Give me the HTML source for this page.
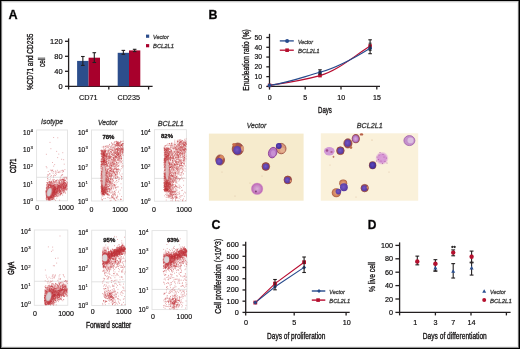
<!DOCTYPE html>
<html><head><meta charset="utf-8"><style>
html,body{margin:0;padding:0;background:#fff;}
body{width:520px;height:349px;overflow:hidden;}
svg{display:block;font-family:"Liberation Sans", sans-serif;will-change:transform;}
</style></head><body>
<svg width="520" height="349" viewBox="0 0 520 349">
<rect x="0" y="0" width="520" height="349" fill="#fff"/>
<text x="8.6" y="18.8" font-size="12.6" stroke="#231f20" stroke-width="0.32" font-weight="bold">A</text>
<text x="208.6" y="18.6" font-size="12.4" stroke="#231f20" stroke-width="0.32" font-weight="bold">B</text>
<text x="211.6" y="229.2" font-size="12.4" stroke="#231f20" stroke-width="0.32" font-weight="bold">C</text>
<text x="367.8" y="229.2" font-size="12.0" stroke="#231f20" stroke-width="0.32" font-weight="bold">D</text>
<line x1="68.6" y1="38.4" x2="68.6" y2="86.89999999999999" stroke="#231f20" stroke-width="1.3"/>
<line x1="68.0" y1="86.3" x2="152.6" y2="86.3" stroke="#231f20" stroke-width="1.3"/>
<line x1="65.0" y1="86.3" x2="68.6" y2="86.3" stroke="#231f20" stroke-width="1.3"/>
<text x="62.6" y="88.89999999999999" font-size="7.5" stroke="#231f20" stroke-width="0.19" text-anchor="end">0</text>
<line x1="65.0" y1="71.3" x2="68.6" y2="71.3" stroke="#231f20" stroke-width="1.3"/>
<text x="62.6" y="73.89999999999999" font-size="7.5" stroke="#231f20" stroke-width="0.19" text-anchor="end">40</text>
<line x1="65.0" y1="56.3" x2="68.6" y2="56.3" stroke="#231f20" stroke-width="1.3"/>
<text x="62.6" y="58.9" font-size="7.5" stroke="#231f20" stroke-width="0.19" text-anchor="end">80</text>
<line x1="65.0" y1="41.3" x2="68.6" y2="41.3" stroke="#231f20" stroke-width="1.3"/>
<text x="62.6" y="43.9" font-size="7.5" stroke="#231f20" stroke-width="0.19" text-anchor="end">120</text>
<line x1="68.6" y1="86.3" x2="68.6" y2="89.5" stroke="#231f20" stroke-width="1.3"/>
<line x1="108.8" y1="86.3" x2="108.8" y2="89.5" stroke="#231f20" stroke-width="1.3"/>
<line x1="148.6" y1="86.3" x2="148.6" y2="89.5" stroke="#231f20" stroke-width="1.3"/>
<rect x="77.1" y="60.91" width="11.50" height="25.39" fill="#2c4e8c"/>
<line x1="82.85" y1="56.5" x2="82.85" y2="65.4" stroke="#231f20" stroke-width="1.1"/>
<line x1="81.05" y1="56.5" x2="84.64999999999999" y2="56.5" stroke="#231f20" stroke-width="1.1"/>
<line x1="81.05" y1="65.4" x2="84.64999999999999" y2="65.4" stroke="#231f20" stroke-width="1.1"/>
<rect x="88.6" y="57.69" width="11.40" height="28.61" fill="#a8002c"/>
<line x1="94.3" y1="52.7" x2="94.3" y2="62.5" stroke="#231f20" stroke-width="1.1"/>
<line x1="92.5" y1="52.7" x2="96.1" y2="52.7" stroke="#231f20" stroke-width="1.1"/>
<line x1="92.5" y1="62.5" x2="96.1" y2="62.5" stroke="#231f20" stroke-width="1.1"/>
<rect x="117.7" y="52.81" width="11.30" height="33.49" fill="#2c4e8c"/>
<line x1="123.35" y1="50.4" x2="123.35" y2="54.3" stroke="#231f20" stroke-width="1.1"/>
<line x1="121.55" y1="50.4" x2="125.14999999999999" y2="50.4" stroke="#231f20" stroke-width="1.1"/>
<line x1="121.55" y1="54.3" x2="125.14999999999999" y2="54.3" stroke="#231f20" stroke-width="1.1"/>
<rect x="129.0" y="50.41" width="11.30" height="35.89" fill="#a8002c"/>
<line x1="134.65" y1="49.3" x2="134.65" y2="51.6" stroke="#231f20" stroke-width="1.1"/>
<line x1="132.85" y1="49.3" x2="136.45000000000002" y2="49.3" stroke="#231f20" stroke-width="1.1"/>
<line x1="132.85" y1="51.6" x2="136.45000000000002" y2="51.6" stroke="#231f20" stroke-width="1.1"/>
<text x="78.9" y="99.6" font-size="7.4" stroke="#231f20" stroke-width="0.12" textLength="18.8" lengthAdjust="spacingAndGlyphs">CD71</text>
<text x="117.4" y="99.6" font-size="7.4" stroke="#231f20" stroke-width="0.12" textLength="22.6" lengthAdjust="spacingAndGlyphs">CD235</text>
<rect x="146" y="34.6" width="3.2" height="3.2" fill="#2c4e8c"/>
<rect x="146" y="44.1" width="3.2" height="3.2" fill="#a8002c"/>
<text x="153" y="38.8" font-size="5.9" stroke="#383838" stroke-width="0.27" font-style="italic" fill="#383838" textLength="15.8" lengthAdjust="spacingAndGlyphs">Vector</text>
<text x="153" y="48.4" font-size="5.9" stroke="#383838" stroke-width="0.27" font-style="italic" fill="#383838" textLength="21.1" lengthAdjust="spacingAndGlyphs">BCL2L1</text>
<text x="32.8" y="90.1" font-size="9.5" stroke="#231f20" stroke-width="0.34" textLength="56.5" lengthAdjust="spacingAndGlyphs" transform="rotate(-90 32.8 90.1)">%CD71 and CD235</text>
<text x="45.0" y="67.0" font-size="9.5" stroke="#231f20" stroke-width="0.34" textLength="9.7" lengthAdjust="spacingAndGlyphs" transform="rotate(-90 45.0 67.0)">cell</text>
<text x="52.1" y="124.4" font-size="7.0" stroke="#3a3a3a" stroke-width="0.30" text-anchor="middle" font-style="italic" fill="#3a3a3a" textLength="22" lengthAdjust="spacingAndGlyphs">Isotype</text>
<text x="107.55" y="124.5" font-size="7.0" stroke="#3a3a3a" stroke-width="0.30" text-anchor="middle" font-style="italic" fill="#3a3a3a" textLength="19.3" lengthAdjust="spacingAndGlyphs">Vector</text>
<text x="170.8" y="125.5" font-size="7.3" stroke="#3a3a3a" stroke-width="0.30" text-anchor="middle" font-style="italic" fill="#3a3a3a" textLength="26" lengthAdjust="spacingAndGlyphs">BCL2L1</text>
<rect x="36.6" y="130.0" width="30.9" height="70.80000000000001" fill="none" stroke="#e2e2e2" stroke-width="0.9"/>
<line x1="36.6" y1="177.3" x2="67.5" y2="177.3" stroke="#dadada" stroke-width="0.8"/>
<rect x="91.5" y="130.0" width="31.799999999999997" height="71.0" fill="none" stroke="#e2e2e2" stroke-width="0.9"/>
<line x1="91.5" y1="178.3" x2="123.3" y2="178.3" stroke="#dadada" stroke-width="0.8"/>
<rect x="154.4" y="129.7" width="32.0" height="71.5" fill="none" stroke="#e2e2e2" stroke-width="0.9"/>
<line x1="154.4" y1="178.4" x2="186.4" y2="178.4" stroke="#dadada" stroke-width="0.8"/>
<text x="30.200000000000003" y="135.0" font-size="6.4" stroke="#231f20" stroke-width="0.16" text-anchor="end">10</text>
<text x="30.5" y="132.10000000000002" font-size="4.4" stroke="#231f20" stroke-width="0.12">4</text>
<text x="30.200000000000003" y="152.2" font-size="6.4" stroke="#231f20" stroke-width="0.16" text-anchor="end">10</text>
<text x="30.5" y="149.3" font-size="4.4" stroke="#231f20" stroke-width="0.12">3</text>
<text x="30.200000000000003" y="169.39999999999998" font-size="6.4" stroke="#231f20" stroke-width="0.16" text-anchor="end">10</text>
<text x="30.5" y="166.5" font-size="4.4" stroke="#231f20" stroke-width="0.12">2</text>
<text x="30.200000000000003" y="186.6" font-size="6.4" stroke="#231f20" stroke-width="0.16" text-anchor="end">10</text>
<text x="30.5" y="183.70000000000002" font-size="4.4" stroke="#231f20" stroke-width="0.12">1</text>
<text x="30.200000000000003" y="203.79999999999998" font-size="6.4" stroke="#231f20" stroke-width="0.16" text-anchor="end">10</text>
<text x="30.5" y="200.9" font-size="4.4" stroke="#231f20" stroke-width="0.12">0</text>
<text x="85.1" y="135.0" font-size="6.4" stroke="#231f20" stroke-width="0.16" text-anchor="end">10</text>
<text x="85.4" y="132.10000000000002" font-size="4.4" stroke="#231f20" stroke-width="0.12">4</text>
<text x="85.1" y="152.25" font-size="6.4" stroke="#231f20" stroke-width="0.16" text-anchor="end">10</text>
<text x="85.4" y="149.35000000000002" font-size="4.4" stroke="#231f20" stroke-width="0.12">3</text>
<text x="85.1" y="169.5" font-size="6.4" stroke="#231f20" stroke-width="0.16" text-anchor="end">10</text>
<text x="85.4" y="166.60000000000002" font-size="4.4" stroke="#231f20" stroke-width="0.12">2</text>
<text x="85.1" y="186.75" font-size="6.4" stroke="#231f20" stroke-width="0.16" text-anchor="end">10</text>
<text x="85.4" y="183.85000000000002" font-size="4.4" stroke="#231f20" stroke-width="0.12">1</text>
<text x="85.1" y="204.0" font-size="6.4" stroke="#231f20" stroke-width="0.16" text-anchor="end">10</text>
<text x="85.4" y="201.10000000000002" font-size="4.4" stroke="#231f20" stroke-width="0.12">0</text>
<text x="147.79999999999998" y="134.79999999999998" font-size="6.4" stroke="#231f20" stroke-width="0.16" text-anchor="end">10</text>
<text x="148.1" y="131.9" font-size="4.4" stroke="#231f20" stroke-width="0.12">4</text>
<text x="147.79999999999998" y="152.1" font-size="6.4" stroke="#231f20" stroke-width="0.16" text-anchor="end">10</text>
<text x="148.1" y="149.20000000000002" font-size="4.4" stroke="#231f20" stroke-width="0.12">3</text>
<text x="147.79999999999998" y="169.39999999999998" font-size="6.4" stroke="#231f20" stroke-width="0.16" text-anchor="end">10</text>
<text x="148.1" y="166.5" font-size="4.4" stroke="#231f20" stroke-width="0.12">2</text>
<text x="147.79999999999998" y="186.7" font-size="6.4" stroke="#231f20" stroke-width="0.16" text-anchor="end">10</text>
<text x="148.1" y="183.8" font-size="4.4" stroke="#231f20" stroke-width="0.12">1</text>
<text x="147.79999999999998" y="204.0" font-size="6.4" stroke="#231f20" stroke-width="0.16" text-anchor="end">10</text>
<text x="148.1" y="201.10000000000002" font-size="4.4" stroke="#231f20" stroke-width="0.12">0</text>
<text x="37.1" y="209.8" font-size="7.0" stroke="#231f20" stroke-width="0.16" text-anchor="middle">0</text>
<text x="66.0" y="209.8" font-size="7.0" stroke="#231f20" stroke-width="0.16" text-anchor="middle">1000</text>
<text x="91.5" y="211.8" font-size="7.0" stroke="#231f20" stroke-width="0.16" text-anchor="middle">0</text>
<text x="120.0" y="211.8" font-size="7.0" stroke="#231f20" stroke-width="0.16" text-anchor="middle">1000</text>
<text x="153.9" y="211.8" font-size="7.0" stroke="#231f20" stroke-width="0.16" text-anchor="middle">0</text>
<text x="184.0" y="211.8" font-size="7.0" stroke="#231f20" stroke-width="0.16" text-anchor="middle">1000</text>
<text x="108.45" y="138.6" font-size="6.0" stroke="#231f20" stroke-width="0.27" text-anchor="middle" font-weight="bold">78%</text>
<text x="167.0" y="138.0" font-size="6.0" stroke="#231f20" stroke-width="0.27" text-anchor="middle" font-weight="bold">82%</text>
<defs><filter id="fb" x="-50%" y="-50%" width="200%" height="200%"><feGaussianBlur stdDeviation="0.6"/></filter><filter id="fb2" x="-50%" y="-50%" width="200%" height="200%"><feGaussianBlur stdDeviation="1.0"/></filter></defs>
<path d="M48.1 194.7h.01M49.4 190.8h.01M47.2 190.7h.01M52.2 195.5h.01M52.2 194.6h.01M50.5 193.7h.01M50.3 195.3h.01M47.3 182.7h.01M47.7 189.5h.01M50.5 192.6h.01M52.0 189.9h.01M49.9 194.7h.01M49.4 198.7h.01M48.9 188.4h.01M48.8 191.7h.01M51.0 194.2h.01M49.7 187.5h.01M46.3 197.9h.01M46.9 193.0h.01M53.0 185.8h.01M47.8 198.8h.01M50.5 188.5h.01M51.1 192.6h.01M50.1 197.6h.01M53.2 195.5h.01M51.9 186.4h.01M52.3 190.1h.01M50.2 186.1h.01M47.6 189.1h.01M56.3 183.9h.01M52.9 196.5h.01M47.9 178.8h.01M51.7 189.3h.01M52.5 194.2h.01M49.7 194.8h.01M53.3 196.9h.01M50.3 195.6h.01M51.6 195.9h.01M54.7 184.6h.01M47.6 197.2h.01M51.4 192.3h.01M49.6 195.9h.01M48.3 198.1h.01M48.3 189.9h.01M52.5 193.6h.01M54.5 191.7h.01M49.6 190.9h.01M55.1 188.8h.01M55.1 187.6h.01M46.4 194.8h.01M51.6 197.6h.01M50.4 193.5h.01M49.2 195.4h.01M48.7 193.7h.01M51.2 193.0h.01M51.0 195.9h.01M54.9 195.8h.01M48.9 190.3h.01M48.2 196.9h.01M48.1 194.0h.01M58.7 181.9h.01M46.0 192.7h.01M50.4 194.0h.01M47.4 195.2h.01M51.2 190.3h.01M56.0 196.4h.01M48.2 191.5h.01M49.0 192.0h.01M54.2 187.8h.01M48.0 197.0h.01M49.9 200.4h.01M47.7 195.2h.01M56.7 180.7h.01M54.9 186.6h.01M53.8 186.0h.01M48.3 198.4h.01M48.9 193.3h.01M51.7 193.9h.01M47.1 199.7h.01M53.0 192.0h.01M59.2 189.5h.01M52.6 192.0h.01M48.9 196.0h.01M49.3 195.7h.01M47.5 183.9h.01M52.8 188.4h.01M48.8 184.6h.01M52.1 197.2h.01M55.2 189.3h.01M51.3 187.1h.01M52.7 192.5h.01M50.2 189.5h.01M50.1 194.8h.01M55.4 189.0h.01M54.0 192.9h.01M49.7 193.2h.01M54.1 192.5h.01M51.4 189.9h.01M48.3 196.5h.01M47.9 198.9h.01M47.9 197.4h.01M46.4 196.1h.01M46.1 191.3h.01M49.1 192.2h.01M47.6 193.1h.01M54.7 194.3h.01M49.6 197.7h.01M50.9 186.3h.01M46.4 197.1h.01M51.3 197.2h.01M48.4 196.4h.01M51.8 187.0h.01M46.1 188.1h.01M53.1 190.6h.01M48.2 188.0h.01M50.6 182.7h.01M52.1 191.8h.01M51.1 190.6h.01M50.7 196.8h.01M51.0 194.7h.01M52.4 196.8h.01M54.0 182.9h.01M50.2 199.5h.01M49.4 190.0h.01M57.8 185.8h.01M55.2 193.6h.01M49.9 197.3h.01M47.1 191.3h.01M49.2 196.7h.01M49.8 191.5h.01M47.2 189.9h.01M52.0 193.8h.01M48.4 187.7h.01M55.6 200.3h.01M55.3 180.7h.01M50.7 195.3h.01M53.8 196.0h.01M48.6 194.9h.01M51.6 189.4h.01M46.6 188.1h.01M50.2 193.6h.01M49.9 187.5h.01M54.1 199.3h.01M48.2 185.0h.01M53.0 198.7h.01M53.6 198.0h.01M46.7 193.0h.01M48.7 194.9h.01M47.7 191.3h.01M50.4 194.7h.01M51.1 194.1h.01M47.5 196.0h.01M51.0 188.6h.01M47.8 191.9h.01M49.1 193.2h.01M49.3 193.3h.01M51.1 186.4h.01M49.3 197.9h.01M51.1 192.0h.01M52.3 188.3h.01M50.4 179.0h.01M50.5 185.6h.01M46.6 194.3h.01M50.8 193.8h.01M52.8 197.2h.01M48.7 195.3h.01M52.9 198.6h.01M54.1 188.2h.01M48.1 195.9h.01M47.2 197.3h.01M50.0 197.4h.01M53.5 192.6h.01M47.3 196.4h.01M52.4 193.4h.01M49.0 198.2h.01M51.8 193.3h.01M51.2 195.8h.01M50.1 192.9h.01M47.9 195.6h.01M47.5 188.6h.01M51.8 185.5h.01M51.3 182.5h.01M46.8 194.6h.01M51.3 192.7h.01M51.0 185.5h.01M54.1 196.6h.01M54.0 189.3h.01M51.8 183.6h.01M50.5 197.7h.01M54.0 184.6h.01M49.9 185.2h.01M49.3 193.7h.01M50.4 196.4h.01M52.2 199.4h.01M46.6 188.9h.01M48.2 186.4h.01M49.4 192.5h.01M53.4 185.4h.01M46.1 191.3h.01M49.5 190.8h.01M50.5 188.8h.01M51.1 194.8h.01M50.3 189.2h.01M53.1 179.3h.01M46.7 191.8h.01M52.1 186.1h.01M49.3 190.8h.01M50.0 195.8h.01M50.8 188.4h.01M49.3 192.1h.01M51.3 194.6h.01M49.5 185.4h.01M49.6 188.6h.01M46.6 191.0h.01M48.0 192.6h.01M51.7 191.0h.01M56.7 193.0h.01M52.6 194.1h.01M56.3 182.1h.01M47.1 193.0h.01M48.6 198.9h.01M50.4 197.7h.01M51.3 192.2h.01M52.7 187.8h.01M54.5 188.7h.01M48.9 192.4h.01M52.9 193.7h.01M46.9 193.0h.01M50.2 196.4h.01M54.4 194.1h.01M51.0 190.7h.01M54.7 190.4h.01M52.2 190.8h.01M46.5 195.3h.01M53.4 193.6h.01M46.5 195.8h.01M49.0 193.9h.01M52.3 199.3h.01M48.4 196.3h.01M47.8 191.7h.01M55.3 187.9h.01M47.7 183.4h.01M53.6 191.3h.01M49.9 191.0h.01M50.9 187.2h.01M51.8 185.7h.01M48.9 193.9h.01M51.3 191.8h.01M46.8 192.5h.01M52.0 192.6h.01M49.3 188.7h.01M47.4 190.0h.01M49.7 195.2h.01M47.6 191.9h.01M60.4 186.1h.01M47.9 192.8h.01M49.4 194.6h.01M48.4 194.0h.01M48.6 196.2h.01M51.1 187.6h.01M46.8 195.0h.01M51.3 194.6h.01M51.2 192.5h.01M51.7 190.4h.01M48.2 196.0h.01M46.1 194.8h.01M55.8 191.5h.01M50.2 191.9h.01M53.5 195.4h.01M53.2 190.0h.01M49.6 192.4h.01M54.8 184.9h.01M51.9 192.5h.01M50.3 194.6h.01M54.7 191.1h.01M48.7 185.1h.01M53.8 196.1h.01M49.1 188.8h.01M50.3 195.6h.01M48.4 186.0h.01M50.1 193.9h.01M46.2 190.4h.01M47.4 194.2h.01M49.4 192.0h.01M47.0 197.2h.01M54.1 192.0h.01M53.1 189.6h.01M48.7 196.1h.01M54.5 192.0h.01M49.1 193.4h.01M47.1 193.7h.01M49.3 182.1h.01M49.3 193.8h.01M46.7 196.3h.01M49.7 189.4h.01M53.3 185.4h.01M47.7 191.8h.01M52.3 192.5h.01M51.5 189.6h.01M47.7 192.0h.01M48.6 197.5h.01M49.2 181.4h.01M50.2 196.8h.01M49.8 193.9h.01M51.7 195.1h.01M56.2 188.1h.01M53.6 175.7h.01M52.5 191.4h.01M50.0 191.3h.01M49.4 188.1h.01M46.8 195.0h.01M49.6 192.8h.01M47.8 196.7h.01M51.2 192.3h.01M51.7 192.4h.01M52.3 188.3h.01M52.2 195.1h.01M49.2 197.1h.01M50.4 192.0h.01M50.1 191.2h.01M50.5 193.2h.01M52.1 191.3h.01M52.7 182.3h.01M47.4 195.4h.01M54.0 191.9h.01M46.9 200.0h.01M47.6 195.7h.01M54.4 194.2h.01M54.2 190.2h.01M50.3 192.3h.01M48.3 198.0h.01M57.4 191.4h.01M47.2 194.4h.01M51.6 191.7h.01M53.4 185.6h.01M54.1 185.8h.01M48.4 189.2h.01M47.2 196.2h.01M50.4 190.7h.01M49.1 194.3h.01M52.8 194.9h.01M58.9 185.0h.01M48.9 194.5h.01M51.4 196.6h.01M50.4 187.2h.01M48.4 197.5h.01M48.0 186.6h.01M52.4 183.2h.01M49.5 190.2h.01M51.9 189.5h.01M47.7 189.8h.01M50.4 189.3h.01M48.5 196.1h.01M48.0 189.8h.01M47.6 191.7h.01M53.1 186.5h.01M51.0 192.8h.01M55.8 184.6h.01M51.6 194.2h.01M50.3 195.0h.01M53.7 192.6h.01M52.7 191.3h.01M52.9 189.3h.01M51.1 192.1h.01M47.5 187.7h.01M48.8 197.2h.01M50.0 195.4h.01M47.5 198.9h.01M49.3 189.5h.01M52.1 193.6h.01M49.7 189.5h.01M47.9 195.3h.01M52.4 187.0h.01M50.6 193.7h.01M49.3 190.6h.01M49.9 199.5h.01M47.0 194.0h.01M46.4 197.8h.01M46.5 195.8h.01M59.7 182.3h.01M47.6 194.5h.01M50.3 189.2h.01M55.7 194.8h.01M47.7 192.7h.01M53.0 194.2h.01M48.1 183.2h.01M51.9 197.1h.01M50.1 196.0h.01M51.1 196.8h.01M55.8 181.5h.01M49.4 195.0h.01M58.3 190.2h.01M48.6 192.4h.01M52.8 191.2h.01M54.1 189.8h.01M51.1 190.2h.01M51.1 189.3h.01M51.3 190.1h.01M48.7 197.4h.01M47.0 191.1h.01M50.4 195.5h.01M51.8 182.1h.01M52.7 195.2h.01M50.0 191.2h.01M51.0 190.7h.01M47.8 188.1h.01M48.8 189.0h.01M46.2 193.3h.01M53.2 194.7h.01M47.4 192.1h.01M52.6 184.3h.01M47.6 192.7h.01M48.1 192.5h.01M50.6 196.8h.01M51.3 196.1h.01M48.8 192.2h.01M49.3 190.8h.01M51.6 184.1h.01M48.7 192.1h.01M46.8 191.5h.01M51.3 192.2h.01M59.4 181.9h.01M51.7 183.6h.01M51.5 191.5h.01M54.5 182.3h.01M51.5 195.0h.01M50.5 189.7h.01M52.1 190.7h.01M51.0 190.3h.01M49.1 196.3h.01M47.1 191.6h.01M51.2 193.7h.01M49.8 182.5h.01M51.0 197.2h.01M48.9 188.5h.01M53.5 188.9h.01M48.7 188.4h.01M51.4 189.1h.01M53.5 193.3h.01M47.6 193.0h.01M50.0 191.0h.01M51.6 189.5h.01M47.6 180.3h.01M47.1 187.8h.01M49.5 192.7h.01M51.0 193.6h.01M48.4 188.4h.01M50.2 195.5h.01M49.5 191.6h.01M52.3 193.4h.01M50.9 195.9h.01M48.3 198.9h.01M48.5 190.3h.01M48.5 188.0h.01M48.8 195.2h.01M51.8 197.4h.01M54.9 187.5h.01M47.1 194.1h.01M53.6 194.3h.01M47.7 190.0h.01M49.0 187.8h.01M54.8 190.8h.01M52.5 195.2h.01M47.2 193.9h.01M53.3 196.9h.01M53.1 194.1h.01M51.4 192.0h.01M48.9 199.1h.01M51.1 190.0h.01M47.6 196.0h.01M54.4 197.3h.01M52.8 185.4h.01M55.0 194.6h.01M51.2 187.1h.01M51.1 187.2h.01M49.1 194.8h.01M49.3 193.9h.01M50.4 183.2h.01M50.2 188.7h.01M47.2 189.9h.01M52.2 187.1h.01M47.1 199.2h.01M51.8 192.4h.01M50.1 192.0h.01M48.4 196.0h.01M52.9 180.9h.01M50.9 188.2h.01M52.4 190.2h.01M48.3 186.2h.01M49.1 179.8h.01M50.5 183.0h.01M47.9 190.1h.01M48.5 199.3h.01M53.6 199.2h.01M49.7 193.5h.01M48.0 194.4h.01M50.3 193.0h.01M50.1 185.7h.01M50.4 184.7h.01M52.3 196.1h.01M55.0 184.2h.01M53.7 198.0h.01M57.3 188.4h.01M50.5 195.0h.01M49.9 193.5h.01M54.8 186.3h.01M48.1 184.7h.01M48.9 189.1h.01M50.3 194.1h.01M50.7 189.3h.01M46.9 196.7h.01M51.6 193.7h.01M46.4 199.6h.01M46.9 195.1h.01M53.3 192.3h.01M53.6 187.9h.01M52.2 194.4h.01M47.9 191.1h.01M50.9 191.2h.01M51.2 190.1h.01M51.5 193.1h.01M54.3 179.5h.01M52.9 193.7h.01M49.4 198.0h.01M48.2 195.6h.01M50.2 186.8h.01M51.4 197.8h.01M52.7 198.0h.01M50.4 184.1h.01M48.7 188.7h.01M46.4 194.6h.01M50.9 191.5h.01M50.3 192.0h.01M49.1 196.3h.01M53.4 190.1h.01M48.3 197.9h.01M51.8 185.6h.01M47.1 195.5h.01M49.2 185.0h.01M49.7 197.5h.01M52.1 186.5h.01M50.7 197.0h.01M51.9 190.7h.01M49.3 196.5h.01M50.7 183.2h.01M49.8 195.1h.01M48.3 196.8h.01M48.0 191.6h.01M47.9 195.0h.01M54.5 192.7h.01M51.0 196.0h.01M54.9 193.2h.01M50.8 187.3h.01M49.0 199.3h.01M50.5 195.0h.01M48.8 193.1h.01M50.1 186.9h.01M48.7 187.9h.01M50.5 198.3h.01M53.0 190.5h.01M46.4 187.6h.01M47.3 193.6h.01M51.6 182.5h.01M52.5 185.4h.01M54.0 187.5h.01M48.9 187.8h.01M46.1 198.2h.01M51.2 196.1h.01M52.8 185.4h.01M48.9 189.4h.01M46.0 194.1h.01M48.5 188.5h.01M49.6 181.7h.01M49.3 199.4h.01M51.5 188.0h.01M52.6 195.0h.01M50.1 200.4h.01M53.5 191.4h.01M51.5 197.1h.01M52.8 187.9h.01M48.5 199.9h.01M48.6 193.6h.01M47.7 197.1h.01M52.4 193.8h.01M47.3 195.1h.01M53.5 191.4h.01M47.4 194.1h.01M51.2 199.6h.01M53.0 186.7h.01M54.3 185.2h.01M47.0 192.6h.01M48.4 191.3h.01M52.1 189.1h.01M51.9 189.9h.01M47.2 194.6h.01M47.5 193.4h.01M54.1 194.0h.01M48.1 195.9h.01M47.0 197.3h.01M49.3 188.2h.01M55.9 190.0h.01M53.7 197.2h.01M55.2 189.1h.01M49.5 191.8h.01M56.4 195.5h.01M49.3 189.1h.01M50.4 194.5h.01M48.0 194.5h.01M55.3 189.0h.01M47.3 186.1h.01M49.4 182.8h.01M53.6 184.0h.01M48.9 199.9h.01M47.9 190.6h.01M49.0 195.2h.01M48.6 192.3h.01M47.9 192.6h.01M46.1 191.8h.01M55.0 194.6h.01M49.3 183.8h.01M46.4 195.4h.01M50.8 192.4h.01M48.5 186.5h.01M53.1 194.9h.01M50.0 181.6h.01M46.4 191.1h.01M50.4 191.9h.01M50.8 185.7h.01M46.2 195.9h.01M48.8 197.7h.01M51.8 189.3h.01M52.3 188.6h.01M47.3 191.7h.01M48.9 184.6h.01M47.3 195.8h.01M46.6 198.2h.01M48.2 185.2h.01M53.5 195.8h.01M53.5 189.4h.01M51.5 194.5h.01M51.4 193.2h.01M54.0 190.5h.01M49.0 184.6h.01M54.0 190.0h.01M48.0 187.1h.01M50.2 186.0h.01M49.7 189.2h.01M49.4 187.4h.01M50.4 190.3h.01M49.6 193.8h.01M64.1 189.7h.01M53.4 189.0h.01M63.6 186.7h.01M50.5 188.9h.01M52.1 189.7h.01M56.3 191.3h.01M60.2 188.7h.01M58.1 188.4h.01M50.3 198.0h.01M60.3 191.9h.01M64.7 184.5h.01M54.9 190.9h.01M62.7 195.2h.01M54.9 187.0h.01M57.1 193.5h.01M52.8 194.9h.01M50.5 193.6h.01M60.5 187.5h.01M50.4 194.8h.01M63.9 185.2h.01M52.3 197.7h.01M52.4 192.8h.01M61.6 187.2h.01M62.7 187.3h.01M62.6 189.7h.01M47.2 190.8h.01M59.0 187.4h.01M63.6 182.0h.01M54.7 196.2h.01M47.2 194.0h.01M46.2 192.0h.01M46.8 190.2h.01M53.3 191.4h.01M63.0 184.0h.01M58.1 192.0h.01M59.0 189.6h.01M55.5 189.5h.01M61.9 184.9h.01M53.1 188.8h.01M53.8 187.5h.01M55.6 192.2h.01M58.9 180.3h.01M58.1 188.5h.01M66.5 185.2h.01M61.5 188.4h.01M57.8 186.3h.01M67.1 186.0h.01M51.6 188.5h.01M56.8 192.2h.01M59.6 185.8h.01M61.1 192.1h.01M51.2 189.0h.01M47.4 194.8h.01M60.2 191.3h.01M63.3 186.6h.01M63.0 185.3h.01M64.2 188.3h.01M51.3 189.5h.01M64.5 187.0h.01M62.7 181.3h.01M55.7 194.0h.01M63.6 187.9h.01M51.3 192.8h.01M48.5 186.4h.01M58.3 187.0h.01M49.9 190.1h.01M52.4 192.2h.01M53.6 185.3h.01M50.1 195.6h.01M49.5 188.3h.01M61.0 192.9h.01M55.5 186.0h.01M55.7 188.3h.01M50.6 192.0h.01M50.5 192.3h.01M56.9 186.4h.01M54.3 189.1h.01M48.3 194.4h.01M65.9 183.2h.01M60.0 188.9h.01M63.6 188.3h.01M55.7 194.1h.01M57.8 190.0h.01M66.4 184.2h.01M62.0 182.1h.01M52.6 192.4h.01M59.1 180.8h.01M63.7 189.4h.01M64.2 187.9h.01M48.0 194.1h.01M51.6 193.2h.01M49.0 195.4h.01M59.2 190.8h.01M64.3 182.5h.01M66.7 188.2h.01M55.8 192.0h.01M50.9 195.6h.01M57.9 188.3h.01M61.8 191.7h.01M54.4 189.6h.01M58.1 193.7h.01M52.8 194.5h.01M54.5 191.6h.01M67.0 189.2h.01M46.8 191.7h.01M61.9 185.4h.01M64.1 180.5h.01M50.1 197.1h.01M59.8 186.5h.01M63.8 190.0h.01M49.0 192.9h.01M50.9 195.4h.01M57.2 190.6h.01M51.2 195.1h.01M62.8 191.7h.01M51.4 193.2h.01M49.1 196.3h.01M64.8 183.9h.01M64.6 186.6h.01M55.5 189.2h.01M51.9 198.4h.01M58.2 185.9h.01M54.6 187.4h.01M58.9 193.8h.01M60.1 189.2h.01M49.4 195.8h.01M60.3 185.8h.01M63.8 184.9h.01M51.8 190.8h.01M53.1 192.8h.01M63.0 185.0h.01M57.6 191.0h.01M54.2 192.6h.01M65.7 183.5h.01M50.3 197.4h.01M50.1 190.3h.01M56.3 189.3h.01M52.5 194.7h.01M59.7 200.2h.01M64.8 184.3h.01M48.6 192.6h.01M51.7 199.7h.01M60.2 185.1h.01M62.4 185.4h.01M48.2 196.2h.01M62.4 184.2h.01M55.6 189.9h.01M65.2 185.6h.01M52.0 196.8h.01M51.2 193.5h.01M48.9 188.8h.01M50.8 197.2h.01M58.0 191.4h.01M53.3 193.0h.01M62.9 190.7h.01M62.0 184.6h.01M48.2 193.4h.01M59.4 183.5h.01M49.9 196.7h.01M61.4 183.5h.01M66.4 189.8h.01M60.2 195.3h.01M56.9 190.3h.01M64.0 185.2h.01M64.3 187.5h.01M55.2 192.3h.01M60.0 190.6h.01M57.1 189.0h.01M49.2 192.6h.01M61.2 180.8h.01M53.2 190.9h.01M60.3 184.3h.01M51.3 198.8h.01M54.2 184.9h.01M55.4 186.2h.01M47.5 194.2h.01M66.0 184.6h.01M50.4 195.5h.01M52.4 192.5h.01M49.0 193.4h.01M60.9 187.5h.01M59.2 188.9h.01M56.1 184.7h.01M49.1 193.3h.01M63.9 185.3h.01M49.4 192.9h.01M55.7 187.5h.01M49.8 193.6h.01M56.5 192.8h.01M65.4 188.2h.01M48.1 189.5h.01M49.5 191.3h.01M64.6 188.3h.01M54.9 189.4h.01M62.0 183.2h.01M65.1 184.2h.01M61.7 185.4h.01M54.8 192.9h.01M58.5 194.9h.01M64.5 184.4h.01M63.3 186.5h.01M56.9 188.6h.01M66.7 186.3h.01M55.1 189.6h.01M58.3 185.9h.01M50.2 196.6h.01M55.4 189.7h.01M50.1 193.5h.01M66.5 185.3h.01M56.0 182.0h.01M65.2 190.1h.01M46.1 191.0h.01M59.5 187.6h.01M54.9 195.9h.01M59.7 192.3h.01M51.3 190.6h.01M54.0 183.4h.01M54.5 194.4h.01M52.8 190.9h.01M58.2 187.4h.01M64.5 182.4h.01M56.3 189.7h.01M58.1 189.9h.01M50.6 194.6h.01M52.0 190.0h.01M52.8 193.5h.01M46.4 189.3h.01M58.3 186.9h.01M57.7 187.7h.01M60.2 185.8h.01M54.3 186.5h.01M55.8 188.8h.01M53.5 191.7h.01M58.3 191.2h.01M54.6 190.4h.01M54.1 190.9h.01M64.0 185.8h.01M58.7 192.9h.01M54.2 194.0h.01M62.1 186.3h.01M53.3 198.1h.01M57.1 192.3h.01M47.4 192.2h.01M62.5 188.7h.01M50.2 194.8h.01M65.3 193.4h.01M49.7 192.0h.01M61.5 189.6h.01M60.8 191.1h.01M55.1 185.4h.01M61.4 186.7h.01M54.0 185.4h.01M61.6 184.9h.01M46.7 188.0h.01M66.6 189.8h.01M58.7 188.7h.01M58.9 192.8h.01M55.0 189.6h.01M63.8 188.9h.01M53.2 188.3h.01M53.8 186.0h.01M53.7 192.9h.01M53.5 188.3h.01M53.1 190.6h.01M63.5 188.1h.01M54.5 187.6h.01M50.7 192.5h.01M59.2 190.0h.01M61.4 193.6h.01M55.4 194.5h.01M65.5 189.2h.01M48.2 187.2h.01M55.8 190.6h.01M48.3 194.3h.01M54.9 182.9h.01M62.3 186.6h.01M59.5 192.2h.01M57.3 189.3h.01M59.4 185.6h.01M59.7 190.0h.01M56.3 194.8h.01M56.8 188.0h.01M48.3 192.1h.01M59.2 190.7h.01M61.2 193.6h.01M54.1 185.0h.01M52.3 184.0h.01M50.5 185.1h.01M57.9 189.8h.01M52.7 190.0h.01M66.9 185.7h.01M48.0 191.0h.01M63.5 183.4h.01M63.7 179.6h.01M63.6 183.9h.01M53.4 192.5h.01M56.3 187.7h.01M50.9 192.9h.01M58.4 186.1h.01M65.5 182.6h.01M61.1 190.6h.01M62.9 187.0h.01M53.3 191.5h.01M53.2 191.4h.01M61.6 182.4h.01M50.1 190.8h.01M55.8 187.6h.01M59.4 187.2h.01M59.6 192.5h.01M55.3 190.4h.01M51.2 196.1h.01M51.6 197.5h.01M50.3 195.4h.01M64.7 188.7h.01M59.3 188.6h.01M47.2 194.0h.01M61.1 184.7h.01M56.4 194.8h.01M50.6 193.0h.01M65.4 186.2h.01M57.6 186.9h.01M56.2 193.1h.01M50.1 197.1h.01M64.5 182.3h.01M55.0 188.7h.01M47.6 193.2h.01M66.0 186.1h.01M63.5 183.3h.01M62.3 184.9h.01M58.0 191.4h.01M54.6 190.1h.01M61.4 187.5h.01M65.4 187.6h.01M57.0 190.2h.01M49.7 191.2h.01M55.9 193.7h.01M56.7 198.2h.01M59.6 191.2h.01M56.1 192.9h.01M55.9 191.8h.01M63.5 186.4h.01M54.2 191.2h.01M53.9 193.6h.01M54.2 196.1h.01M54.5 192.1h.01M50.3 193.0h.01M52.0 190.9h.01M64.5 187.8h.01M64.6 187.8h.01M63.6 187.5h.01M62.4 189.1h.01M55.7 192.6h.01M65.3 184.1h.01M57.3 189.9h.01M51.6 196.4h.01M60.7 186.9h.01M61.9 194.1h.01M54.5 191.0h.01M53.6 196.2h.01M65.4 187.6h.01M59.1 191.2h.01M52.8 192.4h.01M58.5 185.2h.01M57.7 187.8h.01M50.5 196.4h.01M51.6 194.4h.01M59.0 185.9h.01M48.3 191.5h.01M56.5 188.6h.01M54.3 193.8h.01M52.3 193.4h.01M49.6 193.2h.01M54.0 188.5h.01M65.3 185.8h.01M60.8 180.2h.01M50.0 193.4h.01M60.8 188.2h.01M59.2 186.1h.01M61.3 189.9h.01M60.8 187.4h.01M57.1 196.2h.01M59.8 188.6h.01M65.5 186.1h.01M61.3 186.8h.01M47.8 193.8h.01M51.0 193.9h.01M55.9 192.9h.01M47.4 193.2h.01M52.9 196.5h.01M61.3 182.0h.01M51.3 190.4h.01M55.2 189.3h.01M46.2 192.8h.01M63.6 186.2h.01M47.1 192.4h.01M63.4 185.0h.01M51.9 191.8h.01M49.9 194.2h.01M63.9 183.2h.01M63.7 190.2h.01M56.2 192.7h.01M62.3 187.8h.01M48.1 192.2h.01M62.4 179.3h.01M62.2 190.1h.01M62.6 188.6h.01M54.3 186.8h.01M48.0 193.5h.01M55.7 186.8h.01M66.9 187.8h.01M50.2 197.7h.01M61.3 188.0h.01M56.8 187.1h.01M64.7 182.2h.01M50.8 189.8h.01M47.7 192.7h.01M52.5 194.9h.01M54.9 194.2h.01M62.0 190.7h.01M52.1 192.5h.01M57.8 193.2h.01M64.5 183.4h.01M65.3 187.0h.01M48.9 191.3h.01M62.5 185.1h.01M58.0 189.1h.01M59.3 186.1h.01M56.4 184.1h.01M63.9 186.9h.01M49.3 193.1h.01M52.8 195.1h.01M48.5 194.0h.01M61.8 189.0h.01M57.0 191.8h.01M57.3 191.3h.01M54.7 191.5h.01M48.2 195.8h.01M66.4 184.1h.01M60.5 186.0h.01M65.5 183.1h.01M56.5 189.1h.01M56.4 191.4h.01M49.4 197.9h.01M63.7 182.6h.01M63.6 181.8h.01M59.9 187.8h.01M51.3 195.4h.01M48.5 195.5h.01M50.3 186.8h.01M49.1 189.7h.01M62.9 181.0h.01M51.3 194.2h.01M58.8 182.1h.01M54.8 193.3h.01M56.2 195.9h.01M53.1 188.6h.01M62.8 185.1h.01M53.9 195.6h.01M59.9 189.0h.01M62.2 184.4h.01M62.3 179.2h.01M56.0 188.0h.01M53.2 191.7h.01M60.5 192.1h.01M51.7 195.1h.01M56.6 191.2h.01M48.1 194.3h.01M56.7 191.7h.01M49.8 198.8h.01M65.1 188.6h.01M53.5 186.7h.01M51.9 190.2h.01M54.0 187.7h.01M51.9 187.7h.01M64.0 187.4h.01M65.3 186.2h.01M57.0 192.0h.01M57.6 187.8h.01M49.9 195.5h.01M49.8 184.7h.01M65.7 186.7h.01M58.7 187.1h.01M65.0 189.7h.01M59.9 189.7h.01M49.8 185.9h.01M55.0 186.9h.01M59.4 187.2h.01M65.6 187.5h.01M48.9 196.2h.01M58.1 193.7h.01M48.3 192.7h.01M57.3 186.5h.01M53.5 187.1h.01M54.7 190.0h.01M51.0 196.1h.01M60.8 193.9h.01M50.4 195.1h.01M48.4 192.4h.01M57.6 189.1h.01M59.8 191.9h.01M51.1 191.4h.01M56.9 188.8h.01M60.0 190.9h.01M49.6 195.5h.01M57.1 192.3h.01M59.6 184.7h.01M65.3 192.6h.01M64.2 192.3h.01M50.2 195.1h.01M49.4 190.8h.01M63.3 180.3h.01M49.1 191.8h.01M63.3 188.2h.01M55.0 191.6h.01M46.9 193.3h.01M52.6 190.7h.01M58.1 182.4h.01M60.7 190.6h.01M61.0 180.1h.01M62.8 183.2h.01M50.7 193.1h.01M60.6 184.2h.01M60.8 188.1h.01M53.9 189.7h.01M63.8 190.8h.01M47.6 193.2h.01M60.5 191.0h.01M63.9 188.1h.01M51.7 197.2h.01M51.3 190.4h.01M48.5 188.2h.01M59.5 190.2h.01M50.4 195.0h.01M62.8 186.4h.01M49.8 190.9h.01M60.1 186.7h.01M56.6 194.1h.01M60.1 193.2h.01M61.9 189.7h.01M55.0 193.0h.01M65.5 187.9h.01M63.6 187.8h.01M63.3 186.4h.01M59.1 185.2h.01M51.6 195.1h.01M61.2 181.6h.01M61.0 191.6h.01M48.4 193.3h.01M65.4 186.8h.01M59.6 190.0h.01M54.6 191.5h.01M55.1 187.6h.01M53.5 189.9h.01M46.4 192.9h.01M47.2 193.7h.01M56.7 190.7h.01M50.2 193.3h.01M60.1 187.3h.01M58.2 191.6h.01M50.8 189.2h.01M64.9 183.1h.01M62.6 187.2h.01M64.4 186.0h.01M57.5 184.4h.01M53.9 190.1h.01M66.7 189.9h.01M64.8 183.8h.01M60.8 184.6h.01M59.4 183.2h.01M54.0 190.9h.01M57.5 188.2h.01M54.2 191.8h.01M55.4 194.4h.01M54.4 190.7h.01M52.3 192.6h.01M51.5 195.9h.01M48.8 196.9h.01M54.8 188.0h.01M58.0 188.2h.01M49.6 195.8h.01M52.4 190.2h.01M60.2 192.8h.01M63.5 181.5h.01M61.4 193.5h.01M49.9 195.6h.01M54.5 191.5h.01M62.4 182.7h.01M53.1 192.5h.01M53.3 193.7h.01M52.7 192.3h.01M61.2 187.8h.01M52.8 195.4h.01M60.4 190.8h.01M49.6 190.0h.01M63.4 190.4h.01M48.5 193.3h.01M63.9 187.8h.01M49.1 191.8h.01M48.1 187.8h.01M59.0 186.7h.01M65.3 185.4h.01M63.0 189.0h.01M58.0 184.6h.01M55.2 193.5h.01M48.2 193.7h.01M59.6 188.5h.01M51.8 187.8h.01M52.5 192.3h.01M59.7 195.8h.01M58.5 189.3h.01M62.0 188.3h.01M54.5 192.6h.01M50.7 194.3h.01M64.4 190.6h.01M57.0 192.9h.01M56.1 186.3h.01M59.0 186.0h.01M57.7 186.3h.01M54.6 195.9h.01M61.2 187.5h.01M50.8 187.1h.01M63.8 189.3h.01M52.6 191.5h.01M58.2 190.5h.01M47.4 194.4h.01M55.1 187.3h.01M52.2 187.3h.01M66.6 184.7h.01M51.7 198.3h.01M48.4 195.3h.01M57.4 190.2h.01M59.5 191.4h.01M57.7 196.6h.01M51.4 195.2h.01M67.2 188.7h.01M53.1 197.6h.01M52.6 193.1h.01M64.0 180.5h.01M54.1 191.2h.01M61.4 184.0h.01M65.0 185.6h.01M49.5 193.7h.01M59.2 186.9h.01M55.5 191.2h.01M57.8 188.1h.01M58.5 196.0h.01M57.7 185.1h.01M51.7 192.5h.01M56.9 192.3h.01M52.6 193.7h.01M59.7 184.0h.01M67.2 182.1h.01M58.1 180.7h.01M51.7 194.6h.01M63.5 183.6h.01M53.1 188.4h.01M65.0 180.8h.01M60.5 191.0h.01M55.6 190.6h.01M64.8 181.9h.01M64.8 185.4h.01M49.9 197.2h.01M67.2 184.0h.01M66.8 177.2h.01M65.4 180.5h.01M61.7 179.3h.01M49.6 193.0h.01M47.9 184.9h.01M46.7 182.5h.01M62.9 193.1h.01M46.8 188.8h.01M50.9 187.1h.01M67.1 184.4h.01M64.7 179.8h.01M56.4 180.2h.01M55.1 181.2h.01M60.6 180.5h.01M61.7 188.7h.01M48.4 185.3h.01M53.4 182.0h.01M61.6 183.4h.01M49.8 183.2h.01M56.8 186.6h.01M57.9 185.5h.01M46.2 193.1h.01M59.9 189.7h.01M57.7 193.2h.01M61.3 186.3h.01M52.8 186.8h.01M66.7 186.1h.01M54.2 186.6h.01M49.0 200.4h.01M46.1 191.2h.01M65.7 183.0h.01M59.0 185.8h.01M51.1 181.6h.01M48.5 196.7h.01M47.1 193.2h.01M52.9 192.1h.01M57.7 184.4h.01M56.9 190.9h.01M67.2 182.5h.01M59.4 194.4h.01M54.1 193.7h.01M54.4 189.3h.01M59.1 192.8h.01M52.9 191.7h.01M57.6 182.2h.01M59.0 183.2h.01M65.4 188.1h.01M61.4 189.2h.01M56.2 182.2h.01M49.0 198.7h.01M57.3 189.3h.01M57.2 196.0h.01M51.1 181.0h.01M63.5 187.8h.01M46.9 185.9h.01M53.6 195.8h.01M57.1 187.6h.01M47.9 186.3h.01M55.6 188.2h.01M49.2 192.9h.01M53.8 189.2h.01M51.1 185.7h.01M53.2 185.9h.01M49.8 193.8h.01M51.8 184.6h.01M51.2 196.5h.01M47.9 191.9h.01M64.3 181.7h.01M55.0 195.5h.01M59.2 185.7h.01M46.9 187.4h.01M53.8 193.7h.01M52.3 186.5h.01M53.5 186.0h.01M50.1 199.7h.01M61.2 185.7h.01M60.2 184.7h.01M47.5 194.7h.01M54.1 189.3h.01M58.6 187.8h.01M55.8 196.6h.01M54.8 188.1h.01M65.0 187.3h.01M56.5 189.0h.01M63.6 192.7h.01M61.8 186.4h.01M46.9 192.9h.01M57.8 195.0h.01M62.4 179.8h.01M63.4 179.4h.01M47.9 194.6h.01M60.5 193.6h.01M60.7 186.8h.01M49.1 184.8h.01M67.1 183.4h.01M51.6 184.3h.01M51.4 197.1h.01M57.8 189.0h.01M52.5 197.3h.01M51.5 181.7h.01M47.1 189.6h.01M54.0 187.9h.01M56.4 190.7h.01M53.8 195.8h.01M50.3 198.5h.01M52.7 189.5h.01M54.7 190.2h.01M52.9 183.4h.01M63.0 183.8h.01M58.6 187.6h.01M65.9 187.4h.01M64.7 178.4h.01M55.2 192.0h.01M47.0 197.2h.01M47.5 191.0h.01M49.8 198.6h.01M58.0 195.7h.01M56.6 192.8h.01M60.4 183.9h.01M50.5 196.6h.01M49.1 198.5h.01M48.0 195.4h.01M66.3 186.7h.01M60.0 183.0h.01M63.8 183.9h.01M51.0 190.6h.01M52.8 190.1h.01M49.3 198.3h.01M52.9 196.7h.01M49.2 195.7h.01M66.9 186.2h.01M46.7 185.9h.01M59.6 182.2h.01M55.9 194.0h.01M55.2 192.9h.01M48.4 196.4h.01M48.6 198.6h.01M57.2 183.8h.01M53.4 194.6h.01M48.0 188.3h.01M64.4 191.0h.01M49.0 183.3h.01M50.8 198.6h.01M46.7 191.0h.01M66.6 185.1h.01M47.1 184.8h.01M55.6 182.8h.01M61.8 181.2h.01M62.8 184.0h.01M47.5 190.1h.01M48.0 189.9h.01M62.8 190.9h.01M59.8 180.1h.01M58.3 185.3h.01M54.0 192.5h.01M66.1 184.8h.01M56.2 180.5h.01M48.0 197.6h.01M48.5 188.6h.01M57.4 179.8h.01M56.0 180.8h.01M57.4 188.9h.01M53.8 181.6h.01M54.6 181.8h.01M48.7 182.6h.01M64.6 188.7h.01M66.1 188.4h.01M62.8 190.3h.01M60.7 182.4h.01M62.0 180.6h.01M54.4 189.1h.01M52.2 197.8h.01M47.8 190.5h.01M51.0 190.9h.01M47.3 182.8h.01M46.9 191.5h.01M53.3 196.0h.01M46.2 199.0h.01M54.8 186.5h.01M47.9 182.7h.01M61.6 192.9h.01M49.2 185.1h.01M49.0 181.6h.01M50.7 184.7h.01M62.9 188.2h.01M56.6 195.2h.01M59.6 181.7h.01M62.8 179.2h.01M61.3 185.2h.01M49.5 199.6h.01M60.3 194.4h.01M48.9 196.4h.01M63.1 190.8h.01M55.3 196.3h.01M52.4 199.5h.01M48.5 199.7h.01M62.8 182.9h.01M63.9 182.4h.01M50.2 187.7h.01M51.0 188.5h.01M61.1 186.2h.01M63.6 186.5h.01M47.9 192.3h.01M63.8 184.9h.01M48.4 196.0h.01M54.9 191.2h.01M55.7 184.8h.01M50.6 185.3h.01M64.0 191.5h.01M51.8 193.4h.01M55.4 192.5h.01M63.2 179.8h.01M63.5 181.3h.01M51.8 199.4h.01M53.7 182.2h.01M65.0 191.3h.01M65.0 186.2h.01M50.0 196.4h.01M49.5 189.3h.01M66.1 187.6h.01M63.2 182.9h.01M56.9 185.8h.01M60.2 178.8h.01M59.3 187.4h.01M66.4 185.5h.01M60.1 191.8h.01M54.0 189.2h.01M56.6 185.5h.01M66.8 178.3h.01M57.9 187.5h.01M46.7 184.6h.01M48.9 199.3h.01M65.0 180.4h.01M58.5 190.5h.01M47.0 186.2h.01M61.9 192.0h.01M52.0 194.8h.01M52.2 189.7h.01M60.4 185.9h.01M60.7 183.5h.01M49.4 190.5h.01M53.4 180.3h.01M49.5 194.3h.01M49.6 184.3h.01M47.1 184.0h.01M66.5 181.4h.01M52.6 199.1h.01M50.2 184.5h.01M51.5 186.2h.01M51.7 181.8h.01M65.4 187.5h.01M63.8 191.9h.01M62.6 184.4h.01M49.2 194.7h.01M56.0 190.1h.01M60.3 194.6h.01M51.9 185.5h.01M65.5 189.4h.01M52.1 191.7h.01M51.5 195.0h.01M46.9 196.3h.01M58.1 185.3h.01M66.0 183.2h.01M57.7 194.6h.01M60.4 186.7h.01M63.2 179.6h.01M52.5 192.1h.01M54.4 199.0h.01M61.8 185.0h.01M54.4 195.9h.01M53.4 181.3h.01M64.6 189.4h.01M57.1 192.7h.01M65.2 180.1h.01M54.8 188.7h.01M58.3 186.4h.01M58.2 183.4h.01M63.9 180.5h.01M60.3 194.6h.01M63.5 192.2h.01M64.7 180.1h.01M61.0 193.5h.01M59.0 183.4h.01M47.4 191.1h.01M63.6 183.4h.01M50.5 182.2h.01M48.0 192.8h.01M66.5 178.0h.01M53.6 177.0h.01M47.5 178.4h.01M52.8 170.0h.01M59.2 171.4h.01M51.8 170.6h.01M55.4 175.5h.01M63.0 170.4h.01M63.4 171.1h.01M50.7 176.3h.01M53.1 173.3h.01M57.9 172.2h.01M62.7 172.1h.01M63.6 178.1h.01M57.3 170.3h.01M62.3 170.3h.01M56.6 174.2h.01M47.3 176.3h.01M61.2 175.8h.01M54.4 175.1h.01M58.4 172.3h.01M64.2 180.0h.01M62.9 179.6h.01M52.9 179.9h.01M47.5 174.8h.01M48.8 174.5h.01M60.3 177.1h.01M55.5 173.4h.01M50.0 174.0h.01M51.9 171.9h.01M61.5 175.2h.01M55.2 172.0h.01M60.8 172.0h.01M51.6 175.6h.01M60.7 179.7h.01M61.7 179.5h.01M65.3 177.2h.01M61.1 170.6h.01M50.3 170.1h.01M64.1 177.2h.01M59.2 172.6h.01M53.5 171.6h.01M59.3 179.9h.01M52.4 170.4h.01M49.7 173.6h.01M64.9 178.0h.01M55.6 171.0h.01M48.2 171.5h.01M62.3 174.7h.01M66.8 179.1h.01M62.7 174.8h.01M63.3 171.3h.01M48.3 175.6h.01M56.7 172.1h.01M51.3 170.2h.01M64.2 164.2h.01M64.9 169.6h.01M54.7 164.6h.01M53.7 166.2h.01M62.8 152.7h.01M46.3 154.3h.01M57.7 157.6h.01M46.2 166.6h.01M61.7 159.3h.01M46.9 167.8h.01M56.7 151.4h.01M52.5 162.5h.01M63.7 159.7h.01M58.8 154.1h.01M50.9 148.7h.01M53.7 137.5h.01M57.8 137.8h.01M50.0 142.4h.01" stroke="#c2343a" stroke-opacity="0.5" stroke-width="0.9" stroke-linecap="round" fill="none"/>
<ellipse cx="49.3" cy="192.2" rx="2.75" ry="4.83" fill="#e0b8b8" opacity="0.41" transform="rotate(15 49.3 192.2)" filter="url(#fb2)"/>
<ellipse cx="49.3" cy="192.2" rx="2.2" ry="4.2" fill="#d8d8dc" opacity="0.92" transform="rotate(15 49.3 192.2)" filter="url(#fb)"/>
<path d="M121.4 166.5h.01M113.4 160.7h.01M121.4 158.6h.01M112.2 173.6h.01M114.7 159.1h.01M111.6 159.3h.01M113.3 157.5h.01M120.3 147.7h.01M117.3 164.2h.01M122.6 144.1h.01M114.7 161.3h.01M103.4 187.8h.01M121.5 144.3h.01M102.7 190.1h.01M110.4 182.1h.01M114.0 158.9h.01M113.4 144.0h.01M113.7 188.2h.01M105.8 188.1h.01M120.3 144.1h.01M115.0 151.6h.01M103.8 184.0h.01M117.4 153.6h.01M119.7 148.6h.01M118.6 150.4h.01M115.7 166.1h.01M109.5 160.2h.01M114.6 163.5h.01M102.2 189.6h.01M111.9 165.3h.01M107.7 194.3h.01M119.3 152.9h.01M116.4 171.9h.01M111.6 184.4h.01M120.8 175.2h.01M121.3 168.7h.01M115.8 177.7h.01M122.9 152.1h.01M122.3 151.9h.01M111.3 178.9h.01M120.9 156.3h.01M119.1 155.2h.01M105.2 187.3h.01M111.2 156.7h.01M108.1 169.0h.01M105.3 170.7h.01M115.6 145.6h.01M119.5 157.5h.01M108.6 147.5h.01M120.1 151.0h.01M113.1 172.2h.01M118.4 145.1h.01M110.2 170.6h.01M105.1 176.7h.01M108.5 175.2h.01M113.1 171.5h.01M115.0 141.7h.01M108.1 151.6h.01M107.8 179.2h.01M106.8 180.2h.01M107.8 181.6h.01M123.1 150.0h.01M115.3 153.7h.01M107.5 164.4h.01M106.8 188.4h.01M111.0 160.3h.01M103.2 183.9h.01M109.4 165.2h.01M115.6 144.4h.01M116.7 174.9h.01M117.2 143.3h.01M105.6 188.9h.01M102.8 192.1h.01M118.5 159.5h.01M116.9 155.7h.01M104.2 178.8h.01M102.4 191.2h.01M104.8 178.9h.01M116.9 143.3h.01M110.2 158.4h.01M112.7 162.6h.01M108.7 191.3h.01M106.0 186.0h.01M116.2 158.8h.01M108.4 179.5h.01M101.9 186.9h.01M102.6 175.6h.01M115.1 172.2h.01M115.4 178.1h.01M108.9 182.3h.01M121.1 151.1h.01M101.5 176.7h.01M106.9 193.9h.01M115.4 188.6h.01M109.3 157.9h.01M102.8 182.6h.01M116.6 189.9h.01M117.7 176.7h.01M112.0 159.3h.01M102.8 189.2h.01M104.8 192.8h.01M118.8 144.1h.01M109.3 174.7h.01M115.1 152.7h.01M103.8 179.0h.01M109.3 189.0h.01M108.7 181.0h.01M106.4 172.6h.01M117.6 154.9h.01M110.1 183.2h.01M105.7 172.1h.01M116.8 171.3h.01M120.6 152.0h.01M112.3 183.1h.01M106.1 187.6h.01M111.0 169.8h.01M103.2 186.4h.01M113.4 169.6h.01M114.2 172.1h.01M109.2 188.6h.01M113.5 170.2h.01M118.6 145.5h.01M106.5 181.7h.01M108.0 152.6h.01M117.2 143.5h.01M119.9 169.4h.01M111.9 182.7h.01M115.2 185.4h.01M103.5 188.5h.01M122.1 173.9h.01M121.1 158.1h.01M111.2 178.0h.01M104.5 181.9h.01M101.4 185.6h.01M118.3 142.7h.01M103.5 192.6h.01M114.0 160.0h.01M111.6 169.4h.01M113.4 154.7h.01M111.4 167.8h.01M112.7 162.2h.01M115.7 152.0h.01M119.9 145.5h.01M121.1 148.4h.01M117.1 164.2h.01M122.5 149.0h.01M105.3 191.8h.01M113.1 171.8h.01M119.2 156.4h.01M118.2 165.5h.01M113.8 158.4h.01M106.5 193.6h.01M110.7 168.7h.01M117.6 169.3h.01M119.6 142.8h.01M116.4 162.6h.01M115.4 186.1h.01M118.3 141.8h.01M121.7 145.3h.01M105.4 175.6h.01M117.7 160.4h.01M101.5 191.1h.01M120.3 152.3h.01M109.1 169.5h.01M112.8 164.7h.01M105.0 180.1h.01M107.8 187.9h.01M104.9 185.9h.01M104.1 163.7h.01M110.4 182.4h.01M116.8 172.4h.01M115.8 174.5h.01M114.5 148.3h.01M119.4 144.7h.01M121.7 176.7h.01M105.8 191.1h.01M102.2 191.7h.01M105.4 177.4h.01M101.8 168.7h.01M116.3 152.0h.01M112.8 159.5h.01M107.3 180.7h.01M108.0 157.4h.01M115.3 146.5h.01M121.5 145.1h.01M121.3 148.8h.01M116.6 165.6h.01M114.3 182.6h.01M103.6 179.8h.01M119.8 160.7h.01M104.0 189.2h.01M105.2 167.0h.01M115.6 159.5h.01M111.2 169.0h.01M113.8 158.5h.01M121.5 145.4h.01M107.6 170.2h.01M122.0 145.6h.01M120.5 148.3h.01M117.3 177.8h.01M115.5 159.9h.01M104.7 181.0h.01M106.8 182.2h.01M106.8 186.7h.01M108.9 172.1h.01M114.7 164.2h.01M116.5 144.4h.01M114.0 157.0h.01M113.5 172.0h.01M108.1 193.9h.01M117.9 160.1h.01M120.6 155.9h.01M109.0 159.1h.01M119.1 158.9h.01M116.5 154.4h.01M108.3 177.8h.01M122.8 166.2h.01M123.1 152.2h.01M102.3 181.4h.01M106.4 178.8h.01M107.2 190.6h.01M116.0 158.2h.01M103.5 193.0h.01M119.8 158.8h.01M120.6 146.4h.01M116.1 168.1h.01M104.3 175.3h.01M110.4 181.1h.01M106.4 191.1h.01M106.1 189.0h.01M113.3 161.4h.01M114.2 152.1h.01M113.5 155.5h.01M111.1 185.3h.01M118.8 146.0h.01M105.3 185.1h.01M110.2 156.3h.01M112.2 183.3h.01M118.4 153.4h.01M111.9 163.0h.01M104.3 182.6h.01M109.5 150.4h.01M113.0 183.6h.01M117.3 166.2h.01M107.7 186.9h.01M110.8 189.8h.01M114.9 161.4h.01M114.5 173.2h.01M112.7 166.3h.01M115.2 156.4h.01M105.4 181.3h.01M122.3 160.8h.01M117.0 163.2h.01M106.9 176.8h.01M115.1 159.8h.01M109.9 182.7h.01M120.7 155.7h.01M114.1 142.6h.01M116.2 152.7h.01M120.1 158.3h.01M102.5 189.6h.01M102.6 190.1h.01M118.8 169.6h.01M112.3 170.2h.01M114.6 168.5h.01M107.8 165.1h.01M118.4 168.6h.01M118.7 154.7h.01M111.3 174.1h.01M111.8 168.8h.01M114.1 184.5h.01M101.6 174.4h.01M118.3 154.9h.01M118.5 163.6h.01M117.9 162.3h.01M121.0 183.8h.01M122.9 148.7h.01M109.9 178.5h.01M104.3 189.6h.01M103.0 168.2h.01M102.9 188.1h.01M122.1 145.3h.01M102.1 189.7h.01M113.3 189.1h.01M107.5 188.6h.01M114.0 166.9h.01M119.8 151.9h.01M119.7 155.7h.01M109.6 171.2h.01M109.5 181.6h.01M119.1 156.9h.01M117.7 144.1h.01M112.9 162.3h.01M121.3 159.1h.01M118.7 157.1h.01M123.0 145.9h.01M106.6 188.3h.01M103.7 179.1h.01M108.5 186.6h.01M117.6 149.8h.01M119.4 156.7h.01M111.2 176.6h.01M122.7 153.6h.01M118.4 149.6h.01M116.8 154.7h.01M102.2 174.1h.01M120.2 151.1h.01M106.4 173.5h.01M107.2 173.2h.01M108.7 188.8h.01M111.3 183.1h.01M112.2 160.2h.01M119.5 148.7h.01M116.5 145.7h.01M116.5 155.1h.01M117.9 152.3h.01M116.9 176.5h.01M122.4 152.5h.01M113.6 177.8h.01M113.1 150.1h.01M114.7 158.8h.01M117.9 149.0h.01M109.0 164.1h.01M118.7 154.3h.01M119.7 154.7h.01M106.9 175.1h.01M111.0 181.8h.01M105.9 192.6h.01M118.0 153.3h.01M106.0 190.3h.01M118.4 156.6h.01M115.4 174.7h.01M121.7 154.3h.01M113.5 161.0h.01M109.7 144.6h.01M118.4 157.0h.01M113.1 179.0h.01M116.6 164.6h.01M107.0 167.0h.01M115.8 174.1h.01M102.1 180.9h.01M102.0 172.0h.01M106.4 187.2h.01M113.3 163.2h.01M110.0 171.0h.01M116.2 168.1h.01M102.1 172.4h.01M106.8 181.8h.01M109.8 173.9h.01M119.0 158.6h.01M107.2 177.4h.01M108.8 176.4h.01M110.1 164.5h.01M111.0 167.5h.01M118.4 144.3h.01M103.3 182.7h.01M112.3 144.7h.01M116.6 148.6h.01M112.5 176.0h.01M102.0 191.3h.01M120.4 170.9h.01M114.7 143.0h.01M117.9 169.5h.01M103.2 184.9h.01M116.3 162.0h.01M109.5 161.2h.01M107.0 179.7h.01M117.3 169.1h.01M112.1 169.7h.01M109.6 176.1h.01M116.2 157.1h.01M104.3 178.9h.01M115.4 168.2h.01M113.0 154.1h.01M115.3 157.1h.01M114.9 149.7h.01M114.8 172.2h.01M112.2 191.5h.01M119.1 160.4h.01M123.1 143.7h.01M109.6 176.3h.01M103.2 181.8h.01M112.1 179.1h.01M106.4 185.0h.01M108.5 184.1h.01M105.9 176.1h.01M111.8 169.0h.01M116.5 173.0h.01M119.6 145.4h.01M113.7 170.2h.01M111.6 188.0h.01M112.7 187.0h.01M107.5 171.7h.01M113.4 176.8h.01M113.7 157.7h.01M120.7 150.4h.01M122.7 167.7h.01M116.8 156.7h.01M102.3 172.6h.01M102.7 170.1h.01M109.2 170.7h.01M120.9 162.0h.01M119.1 157.2h.01M108.9 174.4h.01M120.4 151.0h.01M109.5 156.9h.01M114.9 178.1h.01M108.4 172.1h.01M113.9 186.7h.01M101.1 190.8h.01M117.0 170.0h.01M113.2 176.1h.01M110.2 165.4h.01M116.8 145.3h.01M105.1 174.9h.01M103.8 171.3h.01M102.6 178.0h.01M106.5 173.2h.01M122.8 148.4h.01M112.3 165.8h.01M122.4 153.5h.01M105.6 184.9h.01M105.7 183.0h.01M105.0 190.4h.01M104.7 180.7h.01M103.4 189.9h.01M118.1 146.2h.01M109.1 190.2h.01M104.3 182.5h.01M119.8 156.7h.01M101.1 187.0h.01M119.3 149.4h.01M114.8 141.8h.01M106.0 191.9h.01M104.2 192.2h.01M114.5 157.0h.01M104.3 184.3h.01M100.9 181.9h.01M116.5 142.9h.01M114.6 176.8h.01M109.6 173.2h.01M109.1 180.8h.01M117.4 158.2h.01M108.4 186.4h.01M109.4 175.4h.01M111.2 165.9h.01M120.5 160.8h.01M118.7 153.8h.01M104.4 160.8h.01M117.0 164.0h.01M117.5 146.4h.01M105.3 183.9h.01M109.9 173.8h.01M117.4 152.7h.01M117.0 153.5h.01M117.7 153.1h.01M107.7 171.2h.01M111.1 154.6h.01M121.9 176.8h.01M117.3 145.5h.01M112.5 161.6h.01M112.1 181.1h.01M121.9 148.6h.01M110.2 149.0h.01M119.8 142.9h.01M113.2 153.7h.01M105.7 179.1h.01M117.1 149.5h.01M110.4 167.9h.01M115.0 192.7h.01M120.3 146.5h.01M114.4 154.0h.01M118.8 166.3h.01M107.5 170.4h.01M109.1 189.4h.01M115.3 181.8h.01M117.4 173.2h.01M116.1 156.6h.01M122.6 163.4h.01M107.3 182.4h.01M114.3 160.0h.01M113.5 164.4h.01M118.2 152.7h.01M113.8 147.9h.01M115.5 174.8h.01M103.6 186.5h.01M121.2 157.2h.01M109.6 192.4h.01M103.5 185.7h.01M112.2 160.2h.01M120.6 153.2h.01M101.6 190.6h.01M119.0 150.5h.01M112.8 170.0h.01M115.7 156.9h.01M116.0 144.8h.01M112.1 185.8h.01M111.7 189.4h.01M102.2 182.1h.01M106.0 184.8h.01M112.1 143.5h.01M109.0 181.0h.01M121.7 148.1h.01M121.8 144.8h.01M106.3 163.9h.01M116.8 149.5h.01M120.6 147.6h.01M114.7 151.5h.01M116.9 171.8h.01M103.6 184.1h.01M105.0 170.7h.01M109.5 185.9h.01M116.1 169.8h.01M103.9 178.1h.01M121.5 156.5h.01M119.0 165.4h.01M118.1 177.7h.01M113.5 163.8h.01M116.5 143.0h.01M112.7 178.8h.01M104.2 191.8h.01M110.6 179.6h.01M104.1 157.6h.01M111.3 157.1h.01M116.0 177.2h.01M111.0 165.1h.01M116.8 149.1h.01M110.3 161.3h.01M112.0 179.3h.01M120.3 144.1h.01M110.1 192.0h.01M107.2 182.8h.01M119.0 170.1h.01M121.4 161.8h.01M109.1 156.7h.01M117.7 157.9h.01M110.9 171.7h.01M118.6 143.7h.01M108.8 194.6h.01M115.8 174.1h.01M114.7 150.5h.01M104.1 192.7h.01M121.2 152.4h.01M108.2 189.2h.01M117.8 148.4h.01M107.1 165.2h.01M121.4 176.8h.01M105.0 187.4h.01M102.0 184.2h.01M103.6 172.5h.01M116.5 141.5h.01M101.2 183.2h.01M112.2 155.1h.01M118.3 147.5h.01M109.5 180.9h.01M107.9 186.3h.01M114.8 163.9h.01M109.7 166.9h.01M109.1 162.6h.01M111.3 165.2h.01M107.9 193.9h.01M109.1 181.8h.01M117.4 155.3h.01M116.2 184.2h.01M109.9 176.5h.01M118.4 155.2h.01M114.0 162.7h.01M108.1 184.6h.01M110.0 176.7h.01M101.7 187.5h.01M104.7 176.1h.01M115.7 168.6h.01M104.5 184.8h.01M104.0 176.0h.01M111.7 171.8h.01M106.5 187.3h.01M117.0 150.0h.01M112.4 160.9h.01M104.7 187.8h.01M115.6 155.4h.01M109.1 157.2h.01M107.5 189.5h.01M123.0 149.1h.01M110.4 173.1h.01M112.8 185.3h.01M108.5 176.0h.01M114.1 184.4h.01M108.5 172.3h.01M101.3 183.5h.01M116.2 145.6h.01M106.5 183.3h.01M106.9 156.4h.01M108.6 178.5h.01M122.4 147.1h.01M116.9 170.7h.01M121.0 160.0h.01M115.1 164.6h.01M116.0 157.2h.01M121.0 154.1h.01M106.7 191.3h.01M113.1 163.6h.01M111.6 156.6h.01M108.9 174.3h.01M117.4 142.7h.01M113.2 171.9h.01M116.5 156.7h.01M117.2 149.1h.01M117.1 148.6h.01M119.7 158.4h.01M118.5 160.5h.01M107.3 194.4h.01M120.3 149.7h.01M117.2 141.6h.01M108.5 145.8h.01M108.4 158.4h.01M117.7 144.6h.01M111.3 166.6h.01M109.6 168.0h.01M116.3 168.9h.01M114.5 163.8h.01M116.0 169.2h.01M106.3 165.6h.01M109.8 185.0h.01M111.5 165.9h.01M113.9 152.6h.01M119.7 146.6h.01M109.7 166.4h.01M113.2 173.9h.01M118.4 158.4h.01M111.6 154.6h.01M102.7 180.8h.01M110.0 178.2h.01M109.9 175.1h.01M108.8 181.9h.01M108.8 156.7h.01M113.5 160.8h.01M121.4 179.3h.01M115.1 167.7h.01M105.5 180.9h.01M115.7 178.6h.01M121.9 158.1h.01M109.5 167.7h.01M114.7 169.6h.01M113.5 147.6h.01M107.5 169.7h.01M123.0 145.0h.01M108.5 184.6h.01M114.3 148.7h.01M113.8 172.7h.01M117.5 177.1h.01M109.3 188.6h.01M107.5 172.1h.01M114.0 163.2h.01M111.2 173.8h.01M114.5 175.7h.01M117.4 155.1h.01M106.3 175.3h.01M102.7 176.2h.01M113.0 185.3h.01M110.2 162.3h.01M101.8 190.5h.01M105.1 175.3h.01M107.4 165.6h.01M106.2 187.2h.01M114.6 173.6h.01M111.6 175.5h.01M119.9 143.2h.01M109.6 181.8h.01M111.1 162.6h.01M118.1 177.1h.01M120.0 153.2h.01M108.9 179.9h.01M116.0 141.7h.01M101.5 189.4h.01M116.9 162.6h.01M120.6 155.3h.01M105.2 171.8h.01M120.7 154.1h.01M119.1 156.2h.01M113.2 171.7h.01M111.5 169.9h.01M109.0 183.1h.01M104.7 188.5h.01M104.7 172.7h.01M110.6 179.4h.01M102.8 153.0h.01M104.8 184.0h.01M107.9 165.8h.01M119.1 150.0h.01M110.0 183.7h.01M106.1 175.1h.01M110.8 161.0h.01M103.1 188.2h.01M119.1 144.7h.01M116.8 160.8h.01M110.9 165.7h.01M122.3 152.1h.01M115.5 177.1h.01M114.1 174.2h.01M121.2 161.9h.01M108.4 169.6h.01M119.5 154.2h.01M113.7 171.0h.01M112.6 154.9h.01M105.8 192.4h.01M110.2 157.3h.01M106.8 183.2h.01M101.8 182.7h.01M102.1 178.0h.01M119.2 162.3h.01M111.1 186.2h.01M110.1 166.7h.01M110.9 188.3h.01M110.1 168.1h.01M107.0 176.9h.01M109.3 156.8h.01M115.6 153.3h.01M114.5 164.8h.01M113.6 164.7h.01M106.8 168.9h.01M115.5 156.2h.01M115.3 187.5h.01M117.5 151.3h.01M119.4 148.4h.01M114.6 172.3h.01M106.6 164.0h.01M121.9 151.0h.01M118.9 179.6h.01M102.6 191.4h.01M105.8 189.9h.01M116.6 162.5h.01M110.3 179.1h.01M117.1 182.4h.01M114.2 147.7h.01M111.3 180.1h.01M123.0 147.7h.01M110.0 190.4h.01M111.6 161.4h.01M117.3 171.9h.01M114.6 152.6h.01M121.5 145.5h.01M107.9 178.8h.01M113.2 157.3h.01M109.0 182.9h.01M116.9 143.9h.01M116.4 169.5h.01M103.7 191.7h.01M111.5 146.3h.01M110.7 175.6h.01M120.7 157.9h.01M110.4 158.3h.01M109.0 186.5h.01M114.5 145.0h.01M118.5 154.0h.01M105.9 182.8h.01M113.7 150.8h.01M103.7 187.9h.01M118.5 171.3h.01M107.1 173.1h.01M109.5 170.6h.01M104.1 193.3h.01M114.9 150.2h.01M107.9 163.4h.01M101.4 185.3h.01M114.9 153.2h.01M117.5 159.8h.01M110.8 157.6h.01M121.4 145.7h.01M112.6 173.1h.01M114.4 168.2h.01M121.7 150.7h.01M111.9 174.3h.01M116.1 165.0h.01M112.0 171.4h.01M112.8 168.0h.01M119.5 146.2h.01M114.5 185.9h.01M115.5 165.2h.01M114.6 166.7h.01M116.7 180.6h.01M117.3 157.0h.01M121.1 162.8h.01M108.2 173.8h.01M115.1 160.9h.01M119.2 159.7h.01M121.4 158.1h.01M109.9 189.8h.01M110.7 181.7h.01M106.4 189.4h.01M112.0 168.5h.01M115.5 171.4h.01M111.7 175.1h.01M111.3 183.4h.01M105.2 187.7h.01M118.8 159.2h.01M103.9 191.2h.01M115.4 144.7h.01M109.6 173.1h.01M122.2 146.2h.01M107.8 165.7h.01M119.0 155.2h.01M115.5 150.4h.01M111.0 172.8h.01M113.7 146.3h.01M117.1 166.4h.01M108.4 168.8h.01M111.7 164.5h.01M122.9 151.2h.01M121.5 149.8h.01M115.2 161.6h.01M116.2 149.9h.01M109.0 178.2h.01M115.8 157.2h.01M111.7 159.7h.01M114.6 160.0h.01M110.3 170.6h.01M105.5 175.5h.01M102.9 185.7h.01M113.5 158.8h.01M116.7 180.7h.01M113.9 166.0h.01M114.4 155.6h.01M105.2 190.0h.01M116.0 156.6h.01M111.8 175.3h.01M116.5 169.5h.01M114.8 173.8h.01M112.5 179.5h.01M117.2 143.3h.01M110.6 182.8h.01M118.0 143.5h.01M110.4 173.4h.01M101.2 186.1h.01M109.8 184.0h.01M111.5 171.1h.01M102.1 184.0h.01M102.7 163.4h.01M102.9 179.4h.01M101.8 190.6h.01M114.7 172.1h.01M111.8 162.9h.01M109.1 189.1h.01M108.4 177.8h.01M109.0 173.9h.01M104.5 186.4h.01M105.9 185.5h.01M108.9 182.5h.01M107.6 183.6h.01M118.2 169.2h.01M117.3 174.6h.01M108.2 180.6h.01M112.8 194.0h.01M117.0 175.0h.01M115.5 163.6h.01M102.6 189.2h.01M109.4 156.0h.01M104.2 177.7h.01M114.1 168.9h.01M112.8 180.6h.01M112.7 163.3h.01M118.5 162.2h.01M106.3 189.4h.01M102.0 179.6h.01M116.0 156.9h.01M101.5 171.2h.01M113.3 181.2h.01M111.5 142.5h.01M110.3 181.1h.01M100.8 180.6h.01M116.3 141.2h.01M106.5 162.6h.01M106.4 189.7h.01M105.6 179.2h.01M116.2 162.9h.01M121.1 159.1h.01M103.6 187.8h.01M109.9 168.5h.01M114.5 160.3h.01M105.2 183.0h.01M116.9 143.6h.01M113.0 175.4h.01M115.5 158.0h.01M103.7 170.4h.01M110.5 163.4h.01M120.3 145.4h.01M119.0 151.2h.01M113.6 152.1h.01M110.4 174.8h.01M122.8 154.9h.01M107.8 156.7h.01M109.5 185.7h.01M112.0 184.3h.01M111.4 177.0h.01M117.9 157.8h.01M109.6 182.7h.01M115.3 149.3h.01M108.1 177.7h.01M107.9 194.1h.01M110.5 171.0h.01M119.5 150.1h.01M121.9 178.7h.01M107.3 181.6h.01M109.8 181.1h.01M116.5 157.6h.01M110.2 162.6h.01M108.2 178.6h.01M105.9 187.0h.01M115.4 157.2h.01M116.0 151.8h.01M112.5 150.3h.01M102.3 184.0h.01M109.5 172.7h.01M105.0 182.8h.01M111.5 151.9h.01M106.0 158.4h.01M111.8 150.1h.01M108.5 162.8h.01M119.4 178.0h.01M101.2 186.5h.01M109.2 158.6h.01M108.0 150.6h.01M103.5 167.9h.01M110.8 177.8h.01M101.8 178.4h.01M117.6 159.5h.01M104.0 185.6h.01M106.3 166.2h.01M113.0 171.4h.01M121.8 144.7h.01M113.0 171.0h.01M121.2 145.5h.01M115.4 174.1h.01M107.2 161.2h.01M105.6 180.4h.01M115.4 175.1h.01M110.8 159.2h.01M114.1 162.6h.01M122.7 143.6h.01M107.3 193.9h.01M109.4 190.0h.01M120.2 151.8h.01M112.0 163.0h.01M118.3 165.7h.01M108.2 180.1h.01M119.9 164.0h.01M112.3 175.1h.01M110.3 167.7h.01M117.8 156.9h.01M115.9 152.3h.01M112.7 162.5h.01M103.2 190.5h.01M117.3 148.4h.01M116.8 145.8h.01M121.1 152.7h.01M111.5 163.4h.01M107.7 173.2h.01M122.0 165.0h.01M110.6 163.6h.01M104.4 167.4h.01M118.5 143.7h.01M107.9 159.4h.01M113.8 166.7h.01M116.8 158.0h.01M108.7 176.9h.01M106.6 192.6h.01M116.1 161.0h.01M106.8 172.7h.01M105.6 181.1h.01M108.7 160.7h.01M111.4 151.8h.01M120.7 145.4h.01M115.8 175.8h.01M110.4 176.1h.01M110.6 164.1h.01M118.2 154.6h.01M107.6 179.3h.01M114.7 169.3h.01M117.5 150.6h.01M101.0 188.6h.01M110.5 177.0h.01M110.7 178.6h.01M113.9 157.2h.01M116.7 152.5h.01M117.8 169.6h.01M115.0 185.1h.01M104.1 180.4h.01M108.9 195.1h.01M118.1 155.0h.01M111.8 148.9h.01M117.0 142.2h.01M105.9 176.3h.01M112.2 148.1h.01M112.9 164.4h.01M116.6 167.2h.01M111.8 188.5h.01M114.8 157.7h.01M115.3 153.3h.01M116.4 154.4h.01M110.2 179.6h.01M108.8 151.3h.01M107.7 185.7h.01M113.8 187.8h.01M104.4 189.3h.01M113.3 158.9h.01M104.7 188.9h.01M109.5 172.1h.01M109.7 176.1h.01M109.3 181.6h.01M110.3 151.1h.01M112.1 166.1h.01M107.8 172.9h.01M106.9 177.8h.01M114.5 185.1h.01M107.1 176.0h.01M104.2 166.1h.01M102.8 167.4h.01M103.9 178.8h.01M112.2 181.7h.01M120.6 155.8h.01M117.8 171.1h.01M115.3 175.8h.01M101.6 171.1h.01M114.3 144.7h.01M113.2 159.3h.01M113.6 180.6h.01M101.1 166.9h.01M121.8 148.5h.01M107.2 186.7h.01M114.0 144.7h.01M103.3 169.6h.01M119.6 152.6h.01M111.5 174.9h.01M114.1 154.3h.01M109.0 168.6h.01M119.4 153.6h.01M114.0 184.5h.01M104.7 172.3h.01M122.6 149.6h.01M117.5 144.6h.01M101.7 186.4h.01M110.5 170.4h.01M117.4 142.5h.01M113.0 172.9h.01M112.0 186.6h.01M110.7 165.0h.01M110.9 171.7h.01M116.2 169.8h.01M117.2 172.9h.01M106.0 182.4h.01M106.3 191.2h.01M121.1 155.2h.01M120.1 148.8h.01M119.3 173.9h.01M111.6 165.6h.01M103.9 189.6h.01M113.6 159.0h.01M115.7 145.5h.01M117.6 151.8h.01M114.9 165.9h.01M115.3 160.4h.01M113.4 169.2h.01M103.1 191.1h.01M101.6 176.6h.01M111.6 170.8h.01M109.3 185.0h.01M111.0 149.6h.01M111.6 176.4h.01M112.3 150.6h.01M106.4 171.9h.01M118.0 166.6h.01M111.5 165.9h.01M107.5 175.7h.01M107.7 181.6h.01M110.6 170.5h.01M120.6 150.1h.01M101.3 175.2h.01M106.2 181.0h.01M112.6 155.4h.01M109.9 175.7h.01M112.0 150.0h.01M112.7 196.0h.01M111.3 174.0h.01M116.0 154.0h.01M120.4 154.9h.01M113.4 165.6h.01M118.3 154.8h.01M108.2 194.9h.01M103.8 178.6h.01M107.9 158.6h.01M110.4 170.6h.01M106.7 164.0h.01M102.3 181.5h.01M107.6 177.0h.01M111.2 176.2h.01M113.9 155.6h.01M115.2 155.9h.01M105.2 187.2h.01M102.1 187.2h.01M104.0 179.0h.01M119.0 148.7h.01M118.7 145.5h.01M113.0 164.8h.01M101.3 191.6h.01M110.3 184.4h.01M111.8 171.8h.01M117.8 151.0h.01M118.7 181.3h.01M108.9 179.7h.01M110.3 183.6h.01M108.2 188.1h.01M106.3 184.0h.01M117.4 173.0h.01M115.1 156.3h.01M116.6 178.5h.01M109.3 163.4h.01M110.6 168.8h.01M121.6 149.5h.01M123.0 165.8h.01M102.6 190.9h.01M109.6 165.0h.01M115.2 150.1h.01M119.8 161.4h.01M103.1 182.1h.01M117.7 142.6h.01M106.1 183.5h.01M106.8 178.8h.01M108.6 188.4h.01M110.9 186.0h.01M123.1 155.3h.01M122.7 151.3h.01M107.0 187.3h.01M119.5 172.4h.01M117.8 145.5h.01M119.0 179.4h.01M104.6 182.2h.01M115.3 166.5h.01M117.9 150.2h.01M117.3 154.3h.01M121.3 158.7h.01M106.9 176.4h.01M112.5 153.8h.01M102.2 151.9h.01M104.3 186.2h.01M103.1 171.2h.01M105.2 174.6h.01M104.8 151.1h.01M103.4 188.7h.01M108.4 180.5h.01M101.0 192.6h.01M102.0 182.7h.01M103.3 169.7h.01M103.0 176.8h.01M105.5 151.3h.01M103.5 191.6h.01M103.3 156.1h.01M103.5 194.8h.01M105.3 156.6h.01M104.8 190.4h.01M106.2 155.9h.01M103.6 168.6h.01M103.8 168.9h.01M103.0 152.6h.01M103.4 192.9h.01M103.6 187.9h.01M104.2 181.3h.01M104.8 172.2h.01M103.6 173.0h.01M103.7 162.0h.01M101.4 179.1h.01M101.8 175.6h.01M105.2 173.1h.01M103.3 194.5h.01M103.4 164.8h.01M102.3 164.1h.01M102.5 151.5h.01M107.5 191.5h.01M103.2 181.4h.01M103.5 182.8h.01M105.3 182.8h.01M106.4 159.3h.01M104.4 184.9h.01M106.0 157.6h.01M102.4 194.0h.01M103.0 154.8h.01M103.6 182.6h.01M106.4 185.1h.01M107.9 173.3h.01M105.3 179.2h.01M105.6 179.5h.01M104.8 184.1h.01M102.2 175.7h.01M102.2 168.9h.01M105.5 169.5h.01M104.5 167.6h.01M107.4 169.3h.01M104.3 150.8h.01M105.7 170.2h.01M104.6 176.6h.01M102.9 150.7h.01M102.0 189.3h.01M104.3 170.9h.01M102.0 187.6h.01M103.9 160.8h.01M104.8 171.1h.01M102.6 185.9h.01M102.9 188.9h.01M104.4 176.7h.01M103.9 194.3h.01M106.1 156.6h.01M104.0 152.7h.01M104.3 186.4h.01M107.8 180.0h.01M102.7 192.0h.01M101.5 177.7h.01M102.2 168.9h.01M100.9 161.2h.01M105.3 155.5h.01M105.3 160.3h.01M101.6 164.6h.01M103.2 169.8h.01M104.7 182.4h.01M105.5 164.8h.01M102.1 177.3h.01M102.3 178.0h.01M103.9 178.7h.01M103.5 155.6h.01M102.9 175.2h.01M102.1 177.8h.01M105.0 190.6h.01M103.8 176.4h.01M103.6 162.4h.01M105.0 161.8h.01M102.7 169.7h.01M104.5 158.7h.01M103.5 155.9h.01M102.0 167.8h.01M105.4 184.2h.01M102.5 167.8h.01M101.8 184.8h.01M104.7 191.5h.01M101.4 161.2h.01M103.9 180.7h.01M103.9 167.2h.01M102.4 189.8h.01M104.5 166.2h.01M105.8 173.7h.01M103.1 159.3h.01M102.0 180.6h.01M103.7 169.5h.01M104.0 153.1h.01M102.1 187.0h.01M104.4 174.8h.01M102.5 163.1h.01M105.8 162.6h.01M101.4 181.4h.01M105.9 155.1h.01M103.2 152.0h.01M102.4 173.8h.01M105.3 187.0h.01M104.9 160.9h.01M103.4 194.2h.01M105.8 152.1h.01M103.6 194.2h.01M106.2 179.4h.01M102.8 154.5h.01M104.3 178.9h.01M105.3 162.3h.01M103.4 153.9h.01M103.7 177.6h.01M103.0 165.7h.01M101.5 191.9h.01M102.4 161.1h.01M101.2 179.5h.01M102.0 173.0h.01M103.8 157.8h.01M101.3 171.4h.01M104.3 174.9h.01M107.9 171.1h.01M103.8 151.9h.01M104.1 164.3h.01M106.7 156.5h.01M106.0 155.8h.01M102.0 163.2h.01M106.4 154.9h.01M103.0 180.9h.01M105.9 157.0h.01M104.1 179.7h.01M102.9 157.4h.01M102.4 168.1h.01M102.3 174.8h.01M106.6 174.9h.01M101.9 153.9h.01M105.1 191.5h.01M107.0 184.5h.01M104.4 175.8h.01M104.0 155.3h.01M102.6 189.4h.01M105.9 164.5h.01M102.6 154.5h.01M102.6 181.7h.01M106.9 189.7h.01M101.7 164.3h.01M100.9 181.2h.01M104.4 166.7h.01M102.5 187.4h.01M103.0 170.7h.01M105.5 164.5h.01M103.8 173.1h.01M107.9 166.0h.01M106.9 181.2h.01M101.3 184.2h.01M104.7 175.0h.01M102.3 189.8h.01M103.8 186.0h.01M103.1 158.8h.01M102.8 173.8h.01M105.7 175.0h.01M104.2 175.1h.01M103.1 154.0h.01M104.4 156.3h.01M105.9 180.3h.01M106.4 181.2h.01M103.2 191.9h.01M103.8 160.7h.01M102.1 185.0h.01M101.5 184.6h.01M108.1 157.1h.01M104.3 183.6h.01M105.4 167.9h.01M103.2 193.2h.01M104.3 185.2h.01M105.1 183.0h.01M103.1 171.9h.01M105.3 189.7h.01M106.0 180.8h.01M102.7 186.2h.01M103.4 173.8h.01M103.5 190.4h.01M107.5 182.2h.01M103.7 156.7h.01M104.6 165.2h.01M107.4 166.8h.01M103.8 194.7h.01M104.4 155.5h.01M105.5 153.5h.01M104.6 161.8h.01M101.4 187.7h.01M105.3 175.2h.01M103.1 177.1h.01M104.3 182.7h.01M102.6 187.2h.01M103.3 165.5h.01M109.1 155.7h.01M103.2 193.1h.01M102.6 151.0h.01M101.5 162.3h.01M103.0 163.5h.01M106.1 180.4h.01M104.8 163.5h.01M104.7 183.1h.01M106.7 171.2h.01M103.8 170.9h.01M103.2 171.0h.01M102.1 177.7h.01M102.6 188.4h.01M106.0 157.9h.01M104.3 162.2h.01M109.7 155.1h.01M105.1 150.3h.01M102.2 176.9h.01M102.9 155.0h.01M105.0 190.9h.01M104.2 164.8h.01M102.3 193.4h.01M103.3 176.5h.01M104.3 174.4h.01M104.4 154.7h.01M101.3 166.8h.01M103.4 193.1h.01M103.1 161.9h.01M105.3 175.3h.01M101.4 192.0h.01M102.3 192.6h.01M104.6 187.0h.01M108.1 150.9h.01M101.4 161.4h.01M105.1 166.5h.01M104.3 181.9h.01M101.4 153.2h.01M104.2 181.4h.01M103.0 153.5h.01M102.7 194.9h.01M105.6 185.8h.01M101.2 193.6h.01M104.9 162.4h.01M104.0 180.1h.01M105.6 188.0h.01M102.1 188.2h.01M103.6 159.0h.01M104.0 174.2h.01M100.9 175.8h.01M106.2 158.4h.01M102.3 169.3h.01M101.4 150.1h.01M102.2 155.9h.01M102.4 161.5h.01M107.2 189.7h.01M103.5 176.9h.01M101.7 166.4h.01M103.6 160.7h.01M102.3 176.4h.01M104.1 153.4h.01M102.5 181.2h.01M102.8 169.8h.01M104.2 194.4h.01M102.2 171.4h.01M106.4 157.3h.01M102.0 164.6h.01M103.2 185.8h.01M102.8 178.2h.01M102.9 170.4h.01M104.0 183.6h.01M104.3 180.2h.01M102.9 177.5h.01M105.8 184.2h.01M103.2 180.9h.01M104.8 177.4h.01M103.1 170.9h.01M107.6 175.1h.01M103.3 164.8h.01M106.6 161.2h.01M110.8 167.7h.01M106.1 192.3h.01M102.4 189.0h.01M107.1 159.2h.01M107.1 163.8h.01M103.1 178.4h.01M103.5 191.8h.01M104.1 153.2h.01M104.4 151.7h.01M103.5 173.7h.01M102.5 178.5h.01M105.2 193.2h.01M101.5 174.4h.01M103.8 161.8h.01M104.0 161.2h.01M102.1 164.4h.01M105.6 151.7h.01M106.6 163.5h.01M106.2 154.9h.01M105.4 185.1h.01M102.2 168.9h.01M103.7 191.3h.01M103.9 183.1h.01M105.0 151.6h.01M104.8 187.4h.01M106.3 164.1h.01M101.7 162.0h.01M105.2 150.9h.01M104.2 165.3h.01M102.8 194.0h.01M103.4 190.6h.01M103.9 168.8h.01M104.5 155.0h.01M107.1 185.6h.01M103.3 185.6h.01M103.7 154.2h.01M102.3 187.9h.01M106.0 160.6h.01M102.2 188.5h.01M102.8 150.1h.01M106.4 194.3h.01M101.8 186.0h.01M103.7 191.7h.01M102.2 160.2h.01M107.1 164.7h.01M107.0 181.6h.01M104.2 165.2h.01M103.9 168.6h.01M106.6 190.0h.01M101.9 163.9h.01M106.3 175.8h.01M104.5 168.4h.01M104.3 154.4h.01M103.4 164.0h.01M103.1 182.3h.01M104.6 182.9h.01M104.5 182.5h.01M104.6 187.2h.01M104.6 175.4h.01M103.9 167.8h.01M102.4 188.9h.01M102.5 178.4h.01M104.3 161.9h.01M102.1 172.9h.01M103.1 174.3h.01M101.5 171.7h.01M105.0 178.7h.01M103.2 176.3h.01M105.9 150.1h.01M103.1 194.1h.01M104.9 155.0h.01M104.4 160.0h.01M104.9 150.9h.01M102.2 172.2h.01M103.7 167.2h.01M102.3 159.2h.01M103.8 161.0h.01M105.4 164.6h.01M102.8 164.6h.01M102.3 150.8h.01M106.5 172.2h.01M103.5 150.1h.01M102.1 159.2h.01M107.7 155.5h.01M104.6 172.6h.01M104.2 164.4h.01M104.9 177.8h.01M106.1 177.9h.01M103.4 167.0h.01M103.3 187.7h.01M102.8 188.9h.01M104.0 184.6h.01M104.7 157.7h.01M102.4 188.7h.01M102.5 186.8h.01M105.1 192.1h.01M106.5 161.7h.01M105.2 160.5h.01M100.9 167.1h.01M101.8 158.3h.01M104.4 156.1h.01M100.8 178.6h.01M101.7 173.6h.01M106.5 159.5h.01M103.0 174.1h.01M102.6 156.6h.01M106.4 153.5h.01M103.4 153.9h.01M101.1 173.8h.01M101.8 151.2h.01M102.2 177.0h.01M103.7 153.6h.01M105.1 176.5h.01M106.3 173.9h.01M107.5 169.1h.01M104.4 194.5h.01M106.6 184.7h.01M104.4 178.7h.01M104.5 159.7h.01M105.0 175.6h.01M103.0 185.2h.01M104.4 160.0h.01M106.0 169.2h.01M104.5 181.8h.01M109.4 195.0h.01M103.8 186.0h.01M105.2 192.3h.01M103.4 151.2h.01M105.4 171.2h.01M104.3 154.7h.01M102.6 171.8h.01M103.2 170.0h.01M106.2 165.7h.01M103.8 167.5h.01M101.4 156.0h.01M103.1 193.7h.01M104.9 162.7h.01M102.1 183.4h.01M103.6 172.2h.01M104.1 156.0h.01M105.2 159.3h.01M102.3 167.3h.01M105.9 193.5h.01M102.4 193.3h.01M106.7 178.9h.01M105.9 165.1h.01M101.6 151.6h.01M104.3 176.2h.01M104.0 153.0h.01M105.5 179.0h.01M102.2 162.7h.01M104.8 162.4h.01M103.2 190.2h.01M102.1 171.9h.01M102.4 194.1h.01M102.6 185.8h.01M107.0 153.4h.01M101.8 182.0h.01M101.0 166.0h.01M107.7 186.7h.01M103.0 171.5h.01M102.5 161.6h.01M102.1 152.2h.01M102.1 157.4h.01M105.3 188.9h.01M106.1 156.8h.01M103.7 154.8h.01M101.0 161.8h.01M105.2 172.9h.01M107.4 176.8h.01M103.1 152.3h.01M104.7 160.8h.01M106.6 156.2h.01M103.9 170.7h.01M101.7 171.1h.01M101.2 174.2h.01M101.4 163.9h.01M107.5 191.6h.01M101.6 194.3h.01M102.9 170.2h.01M104.0 161.6h.01M108.3 156.3h.01M104.6 170.3h.01M106.3 154.7h.01M102.9 185.3h.01M105.0 158.4h.01M100.9 177.5h.01M101.9 169.0h.01M102.8 191.6h.01M103.3 152.1h.01M103.4 167.5h.01M105.4 193.8h.01M101.5 151.5h.01M104.6 173.2h.01M103.9 176.1h.01M105.5 170.1h.01M103.4 155.4h.01M103.4 161.8h.01M104.5 188.9h.01M103.0 155.6h.01M107.0 171.3h.01M104.2 194.8h.01M104.5 159.7h.01M106.1 155.9h.01M105.3 188.6h.01M103.5 161.8h.01M103.2 161.9h.01M104.2 185.7h.01M106.0 190.4h.01M105.0 150.3h.01M106.2 177.3h.01M105.9 173.3h.01M103.4 155.1h.01M101.1 153.5h.01M104.0 154.8h.01M101.2 166.0h.01M104.5 160.7h.01M102.5 175.4h.01M105.3 169.6h.01M100.8 175.9h.01M104.1 158.2h.01M104.6 176.2h.01M101.5 182.1h.01M105.7 150.9h.01M103.7 177.0h.01M106.3 187.0h.01M103.3 163.0h.01M106.3 161.6h.01M104.0 160.1h.01M105.4 184.5h.01M103.8 161.4h.01M106.6 161.2h.01M104.3 153.2h.01M103.8 188.5h.01M104.7 180.6h.01M101.7 180.7h.01M106.2 157.2h.01M101.0 180.6h.01M102.5 176.3h.01M103.0 161.5h.01M105.6 151.4h.01M105.5 191.6h.01M101.7 174.9h.01M104.8 173.3h.01M108.4 162.7h.01M102.7 171.9h.01M104.8 150.1h.01M102.6 178.0h.01M108.2 173.0h.01M102.8 184.3h.01M100.9 153.9h.01M103.0 176.8h.01M104.1 179.4h.01M103.7 170.3h.01M104.0 187.6h.01M104.3 155.6h.01M104.6 190.7h.01M103.9 181.8h.01M101.5 191.6h.01M105.7 186.4h.01M107.5 154.0h.01M103.0 165.4h.01M101.8 156.4h.01M106.3 150.4h.01M108.6 152.9h.01M105.4 177.8h.01M101.4 189.4h.01M102.3 158.2h.01M102.5 164.9h.01M102.2 152.1h.01M106.2 179.6h.01M107.0 184.6h.01M102.3 153.4h.01M105.3 192.2h.01M101.0 172.1h.01M102.4 157.8h.01M107.6 194.3h.01M104.8 172.2h.01M105.5 164.7h.01M106.4 170.7h.01M106.6 162.4h.01M102.3 160.3h.01M106.8 157.1h.01M103.7 153.0h.01M102.3 162.2h.01M103.8 184.7h.01M101.8 163.7h.01M102.3 189.1h.01M102.7 177.9h.01M105.0 171.7h.01M106.0 158.3h.01M102.4 181.3h.01M102.2 188.3h.01M106.8 175.6h.01M103.9 172.2h.01M104.2 167.3h.01M103.9 165.8h.01M103.7 179.4h.01M102.9 157.1h.01M104.8 186.2h.01M106.2 179.3h.01M105.9 162.1h.01M106.7 187.6h.01M104.4 187.8h.01M105.5 161.5h.01M102.9 153.5h.01M104.4 189.4h.01M105.8 174.6h.01M101.8 189.6h.01M102.8 180.9h.01M105.2 174.1h.01M103.8 160.0h.01M106.1 180.2h.01M103.8 193.7h.01M101.6 154.7h.01M101.7 166.1h.01M102.4 193.0h.01M104.6 184.3h.01M102.2 191.9h.01M101.8 152.3h.01M107.2 153.1h.01M104.6 192.8h.01M105.3 169.2h.01M107.6 177.4h.01M104.1 190.3h.01M103.4 179.1h.01M102.9 179.5h.01M103.1 190.4h.01M109.1 166.4h.01M103.0 158.8h.01M101.2 178.5h.01M102.6 183.2h.01M103.6 157.1h.01M108.8 187.2h.01M104.7 174.7h.01M102.5 187.1h.01M106.2 180.1h.01M104.8 158.0h.01M102.0 188.6h.01M105.1 185.2h.01M104.3 152.8h.01M102.7 192.7h.01M106.8 166.2h.01M101.1 173.9h.01M105.7 178.4h.01M102.6 193.1h.01M106.1 162.5h.01M104.3 156.4h.01M107.5 156.6h.01M103.9 169.4h.01M103.0 152.6h.01M103.9 189.8h.01M104.6 152.0h.01M104.8 161.7h.01M103.7 169.0h.01M105.9 168.9h.01M105.4 168.1h.01M103.6 192.9h.01M102.2 158.5h.01M101.9 165.8h.01M103.0 166.4h.01M104.1 191.7h.01M101.8 164.3h.01M104.3 174.0h.01M100.8 168.5h.01M104.1 181.9h.01M101.5 175.0h.01M104.8 182.3h.01M105.7 153.9h.01M103.2 155.0h.01M102.9 158.2h.01M106.0 179.8h.01M103.4 161.1h.01M102.6 180.7h.01M103.7 176.0h.01M106.0 169.3h.01M105.6 169.9h.01M107.1 154.2h.01M101.7 188.9h.01M105.4 166.8h.01M102.1 161.3h.01M101.8 159.4h.01M101.5 172.9h.01M104.4 192.5h.01M102.5 187.7h.01M103.3 193.9h.01M105.6 189.3h.01M105.6 169.7h.01M102.2 169.1h.01M101.8 162.3h.01M102.1 155.5h.01M105.4 189.5h.01M105.2 163.2h.01M104.2 187.4h.01M105.4 159.4h.01M105.8 164.7h.01M106.4 153.6h.01M103.3 186.8h.01M103.2 159.1h.01M101.9 186.1h.01M104.2 160.5h.01M104.3 153.7h.01M104.6 181.9h.01M103.7 171.3h.01M105.4 192.3h.01M102.1 168.9h.01M102.5 176.1h.01M104.1 165.6h.01M102.2 192.0h.01M105.5 187.9h.01M101.8 174.8h.01M103.2 157.3h.01M103.2 175.4h.01M103.9 157.4h.01M108.3 179.5h.01M107.6 179.8h.01M103.3 172.0h.01M102.7 171.4h.01M104.5 159.8h.01M103.2 176.1h.01M104.2 159.9h.01M104.8 181.1h.01M104.8 177.8h.01M108.6 163.4h.01M107.0 180.8h.01M101.0 187.1h.01M104.8 184.4h.01M104.4 190.9h.01M101.7 193.6h.01M104.1 187.0h.01M101.7 180.5h.01M106.8 170.5h.01M102.9 167.8h.01M106.5 174.3h.01M103.2 189.3h.01M103.7 170.9h.01M103.5 154.4h.01M104.2 189.7h.01M101.6 160.1h.01M101.1 180.5h.01M105.8 168.5h.01M104.9 192.7h.01M105.9 172.9h.01M104.3 168.5h.01M101.2 181.0h.01M101.5 191.8h.01M105.3 184.3h.01M104.4 154.4h.01M107.9 154.2h.01M104.5 189.0h.01M103.9 158.3h.01M107.3 171.6h.01M102.8 188.6h.01M102.0 173.1h.01M105.2 182.7h.01M102.9 189.0h.01M105.0 167.7h.01M103.0 171.7h.01M105.5 181.8h.01M101.5 172.2h.01M102.4 150.5h.01M104.1 174.6h.01M103.2 193.1h.01M103.2 159.2h.01M102.5 156.9h.01M105.9 151.9h.01M105.1 162.2h.01M103.9 163.8h.01M104.8 190.7h.01M103.1 176.9h.01M106.8 155.1h.01M104.3 154.0h.01M104.9 174.7h.01M104.4 190.9h.01M104.7 158.4h.01M103.3 181.7h.01M104.4 168.8h.01M107.8 162.8h.01M102.8 175.2h.01M103.4 183.5h.01M105.2 177.9h.01M106.2 166.9h.01M103.2 180.0h.01M103.3 157.6h.01M104.8 164.1h.01M101.6 188.2h.01M103.6 192.8h.01M102.7 151.7h.01M104.4 151.6h.01M101.8 184.3h.01M101.2 150.3h.01M104.5 155.6h.01M103.1 171.2h.01M104.0 165.6h.01M105.7 193.5h.01M101.4 187.9h.01M104.9 175.4h.01M104.0 164.4h.01M103.0 159.9h.01M101.2 164.6h.01M106.9 184.6h.01M105.6 154.0h.01M106.3 188.2h.01M104.0 160.7h.01M106.2 181.4h.01M101.9 176.3h.01M105.0 156.3h.01M100.8 150.7h.01M106.7 178.5h.01M104.7 164.8h.01M107.0 171.5h.01M103.5 153.3h.01M103.9 173.0h.01M101.2 161.6h.01M103.4 159.3h.01M103.6 189.6h.01M105.2 175.0h.01M101.4 150.4h.01M105.1 155.1h.01M106.7 173.4h.01M103.7 163.0h.01M104.0 190.9h.01M104.0 186.9h.01M104.5 189.8h.01M102.2 161.2h.01M104.4 186.1h.01M105.5 190.6h.01M103.8 175.8h.01M104.5 183.1h.01M105.5 172.5h.01M103.4 172.8h.01M102.0 188.0h.01M104.5 188.1h.01M106.6 173.0h.01M103.8 175.8h.01M103.9 170.0h.01M102.8 193.6h.01M101.8 153.5h.01M103.6 161.5h.01M104.0 186.0h.01M102.5 185.9h.01M104.6 191.9h.01M108.4 166.8h.01M102.2 174.5h.01M103.4 180.6h.01M103.7 161.9h.01M103.3 154.7h.01M104.8 193.1h.01M102.5 180.5h.01M100.9 164.3h.01M101.8 185.4h.01M104.3 176.1h.01M105.6 155.8h.01M104.0 164.6h.01M106.5 156.1h.01M104.2 160.8h.01M103.9 152.0h.01M100.9 170.2h.01M103.1 183.7h.01M105.3 174.4h.01M104.9 194.7h.01M104.7 193.9h.01M102.2 161.7h.01M104.2 169.0h.01M106.2 164.2h.01M107.0 181.1h.01M103.9 172.8h.01M101.4 188.2h.01M101.8 185.3h.01M103.9 185.0h.01M104.3 171.5h.01M105.4 162.1h.01M105.0 170.5h.01M107.3 174.3h.01M106.0 162.7h.01M103.4 162.4h.01M102.6 188.2h.01M102.1 191.4h.01M102.1 190.7h.01M104.7 163.7h.01M104.0 153.0h.01M101.6 150.7h.01M106.8 161.5h.01M103.4 156.9h.01M104.3 155.5h.01M103.2 155.5h.01M102.7 154.6h.01M107.9 152.0h.01M101.9 186.2h.01M106.2 163.5h.01M103.0 186.9h.01M103.1 193.0h.01M101.0 159.9h.01M105.7 152.1h.01M104.6 154.3h.01M104.5 180.0h.01M103.3 180.3h.01M101.6 159.5h.01M105.6 189.2h.01M105.9 178.0h.01M101.3 152.7h.01M106.0 173.2h.01M107.0 176.6h.01M103.5 174.0h.01M105.2 162.5h.01M104.1 150.2h.01M101.5 173.4h.01M106.2 159.4h.01M106.0 172.9h.01M105.0 170.7h.01M112.3 157.9h.01M120.6 153.4h.01M103.7 146.7h.01M108.0 149.2h.01M111.9 147.7h.01M109.2 158.2h.01M121.5 144.2h.01M118.8 148.3h.01M104.2 161.0h.01M110.2 149.1h.01M111.3 158.9h.01M118.0 144.6h.01M105.5 148.8h.01M104.9 152.4h.01M103.9 157.0h.01M110.1 146.4h.01M116.2 148.5h.01M101.5 161.8h.01M107.5 146.9h.01M116.5 143.8h.01M107.3 151.0h.01M122.8 143.8h.01M105.0 146.3h.01M101.9 154.3h.01M118.5 147.4h.01M122.6 144.1h.01M104.1 149.9h.01M118.9 142.6h.01M118.5 154.1h.01M118.7 148.7h.01M117.1 153.2h.01M118.0 145.2h.01M107.2 145.5h.01M104.4 158.9h.01M101.9 152.1h.01M106.7 159.9h.01M101.2 161.8h.01M120.9 149.4h.01M112.5 156.9h.01M113.1 150.8h.01M108.4 150.2h.01M105.9 148.1h.01M103.8 153.4h.01M109.6 144.4h.01M115.5 149.0h.01M103.5 154.8h.01M113.9 155.5h.01M115.8 146.6h.01M103.0 160.1h.01M101.3 156.3h.01M110.3 157.4h.01M120.3 142.0h.01M103.6 163.2h.01M121.8 148.9h.01M105.9 150.9h.01M110.5 157.1h.01M101.0 150.9h.01M119.0 143.0h.01M107.7 153.7h.01M103.5 157.6h.01M111.6 149.7h.01M123.2 141.2h.01M118.3 142.9h.01M113.0 149.3h.01M114.4 146.7h.01M110.7 153.7h.01M109.4 154.7h.01M103.0 150.9h.01M122.9 150.4h.01M109.5 158.5h.01M105.4 156.0h.01M104.9 149.2h.01M120.5 142.4h.01M121.9 151.6h.01M118.2 143.9h.01M102.8 153.6h.01M105.0 154.8h.01M122.5 146.6h.01M115.9 151.4h.01M110.3 152.2h.01M121.0 149.4h.01M116.8 151.7h.01M106.4 154.7h.01M107.9 161.5h.01M101.9 156.6h.01M108.5 150.9h.01M123.1 149.3h.01M112.7 154.7h.01M105.4 160.5h.01M116.4 154.3h.01M103.9 151.9h.01M122.8 149.9h.01M104.0 151.3h.01M102.3 155.8h.01M106.1 145.7h.01M101.3 158.6h.01M113.9 152.7h.01M108.8 153.6h.01M111.9 153.0h.01M119.7 143.1h.01M111.9 151.8h.01M110.0 152.9h.01M103.3 159.6h.01M112.5 144.4h.01M120.5 141.1h.01M105.3 152.4h.01M123.1 143.6h.01M106.9 160.6h.01M103.3 157.5h.01M111.7 145.7h.01M103.7 146.3h.01M117.3 155.0h.01M103.9 147.4h.01M102.5 164.1h.01M117.7 152.3h.01M105.6 146.6h.01M105.2 156.3h.01M114.2 153.5h.01M118.2 153.8h.01M108.0 157.4h.01M122.1 141.3h.01M111.8 143.6h.01M117.6 151.2h.01M118.8 148.8h.01M103.3 164.0h.01M102.4 164.0h.01M117.6 155.5h.01M117.5 151.7h.01M103.8 154.5h.01M106.9 146.8h.01M110.7 151.7h.01M110.6 149.3h.01M107.6 158.5h.01M117.0 148.3h.01M104.1 163.7h.01M110.6 147.1h.01M109.4 153.7h.01M112.7 147.7h.01M102.3 156.4h.01M101.4 154.4h.01M112.6 145.9h.01M101.8 165.0h.01M120.7 141.8h.01M115.6 153.2h.01M103.6 161.4h.01M117.8 150.2h.01M102.3 154.0h.01M108.6 155.8h.01M117.3 149.9h.01M109.2 153.7h.01M107.0 147.4h.01M109.7 157.0h.01M109.6 154.9h.01M114.0 151.9h.01M108.5 156.9h.01M104.9 152.6h.01M107.0 154.7h.01M116.3 153.5h.01M102.9 157.1h.01M121.8 149.1h.01M119.9 146.0h.01M119.3 151.6h.01M111.1 152.9h.01M109.3 146.0h.01M116.4 156.3h.01M102.2 147.0h.01M121.7 147.4h.01M107.5 155.0h.01M122.8 143.4h.01M110.9 147.4h.01M103.5 148.1h.01M104.0 151.2h.01M109.1 158.9h.01M110.3 156.7h.01M103.9 155.9h.01M117.9 141.8h.01M114.8 149.5h.01M108.3 161.1h.01M122.5 149.5h.01M110.5 151.5h.01M107.9 158.8h.01M122.8 152.2h.01M120.0 150.4h.01M112.8 150.1h.01M101.2 153.7h.01M123.0 148.0h.01M109.0 160.4h.01M111.6 154.6h.01M118.8 152.9h.01M111.6 152.6h.01M108.4 160.2h.01M109.3 157.5h.01M109.5 149.1h.01M110.6 155.7h.01M101.7 154.2h.01M121.6 141.7h.01M117.0 145.7h.01M112.1 153.4h.01M109.1 152.7h.01M121.2 144.6h.01M118.1 149.9h.01M114.3 154.6h.01M117.4 147.8h.01M116.0 149.6h.01M118.4 152.8h.01M120.8 150.0h.01M122.9 150.2h.01M109.1 150.9h.01M109.1 148.9h.01M118.6 154.5h.01M115.3 147.8h.01M109.5 153.0h.01M105.9 146.5h.01M110.9 156.6h.01M108.9 155.0h.01M105.1 154.1h.01M108.2 146.8h.01M117.4 149.4h.01M113.9 157.8h.01M101.2 165.2h.01M114.6 191.5h.01M121.0 199.3h.01M114.1 185.2h.01M114.7 191.6h.01M113.6 198.3h.01M103.9 198.5h.01M107.8 189.0h.01M101.8 186.7h.01M106.9 193.5h.01M121.7 187.8h.01M107.4 191.0h.01M115.1 190.7h.01M115.7 187.4h.01M102.0 194.3h.01M116.9 187.1h.01M102.1 195.7h.01M102.4 199.8h.01M116.2 187.6h.01M110.0 185.9h.01M102.9 190.6h.01M120.3 199.6h.01M117.6 195.2h.01M113.9 193.2h.01M115.4 192.9h.01M109.7 198.4h.01M107.6 191.5h.01M115.9 200.4h.01M108.6 191.9h.01M109.8 188.4h.01M108.8 197.6h.01M105.1 192.6h.01M107.2 194.3h.01M118.0 186.8h.01M111.7 188.0h.01M115.2 195.8h.01M105.9 188.7h.01M107.7 190.3h.01M120.6 199.0h.01M118.4 191.3h.01M111.1 188.2h.01M111.1 200.2h.01M103.0 191.3h.01M105.3 198.5h.01M107.6 192.8h.01M102.1 196.0h.01M112.3 197.8h.01M116.9 196.9h.01M106.8 189.0h.01M114.2 185.8h.01M121.6 196.5h.01M111.9 190.8h.01M102.7 193.9h.01M118.0 186.9h.01M103.2 196.0h.01M111.3 197.7h.01M110.1 200.7h.01M120.2 190.1h.01M112.8 194.4h.01M110.9 198.1h.01M116.5 198.1h.01M106.6 193.1h.01M113.0 194.3h.01M101.4 198.0h.01M110.9 187.5h.01M119.8 193.9h.01M117.3 196.8h.01M114.7 199.6h.01M102.2 190.3h.01M104.6 195.2h.01M105.8 185.5h.01M113.6 197.4h.01M107.7 195.2h.01M111.4 196.1h.01M109.0 195.6h.01M113.1 196.6h.01M114.4 198.5h.01M114.2 198.9h.01M115.4 200.2h.01M114.5 194.1h.01M121.3 199.4h.01M117.0 198.2h.01M112.2 192.6h.01M113.7 194.9h.01M110.4 189.6h.01M118.2 192.5h.01M107.6 197.4h.01M114.3 193.6h.01M112.0 196.8h.01M112.6 197.6h.01M115.1 194.9h.01M110.5 193.0h.01M115.0 197.8h.01M102.6 199.8h.01M111.8 196.9h.01M113.3 195.3h.01M113.3 192.1h.01M101.7 199.7h.01M103.0 193.4h.01M115.5 194.8h.01M109.7 191.5h.01M111.5 195.5h.01M109.4 191.3h.01M112.6 197.3h.01M116.6 197.5h.01M118.1 199.6h.01M111.6 192.8h.01M113.7 198.9h.01M105.8 192.3h.01M114.8 194.3h.01M117.8 196.6h.01" stroke="#c2343a" stroke-opacity="0.47" stroke-width="0.9" stroke-linecap="round" fill="none"/>
<ellipse cx="103.9" cy="176" rx="2.00" ry="12.65" fill="#e0b8b8" opacity="0.34" transform="rotate(0 103.9 176)" filter="url(#fb2)"/>
<ellipse cx="103.9" cy="176" rx="1.6" ry="11" fill="#e2d2d2" opacity="0.75" transform="rotate(0 103.9 176)" filter="url(#fb)"/>
<path d="M181.9 172.4h.01M165.4 174.4h.01M176.4 169.0h.01M179.9 188.4h.01M180.1 168.8h.01M174.9 168.1h.01M169.5 191.5h.01M179.3 169.0h.01M175.5 177.3h.01M173.8 174.1h.01M165.2 184.8h.01M173.9 163.7h.01M184.6 157.5h.01M178.3 159.3h.01M179.3 145.1h.01M169.9 154.8h.01M173.2 180.9h.01M167.7 164.0h.01M175.7 174.3h.01M176.9 164.2h.01M172.5 165.2h.01M177.7 194.5h.01M172.7 181.0h.01M181.8 172.6h.01M182.8 168.4h.01M181.1 148.0h.01M175.7 180.6h.01M175.3 160.9h.01M170.9 159.6h.01M172.6 175.8h.01M168.8 182.6h.01M169.0 178.1h.01M177.6 141.7h.01M179.6 159.2h.01M184.7 162.8h.01M165.0 172.7h.01M179.6 145.3h.01M175.4 185.5h.01M173.1 157.4h.01M175.4 172.5h.01M179.3 153.5h.01M183.2 160.5h.01M168.7 185.4h.01M180.0 165.3h.01M173.9 186.8h.01M175.0 159.2h.01M173.2 178.7h.01M170.1 190.5h.01M165.1 179.2h.01M180.2 153.0h.01M170.2 184.5h.01M184.2 158.7h.01M172.5 175.5h.01M175.1 173.7h.01M174.0 172.4h.01M169.0 172.7h.01M180.1 153.9h.01M185.3 142.9h.01M181.4 144.7h.01M178.0 169.3h.01M172.1 181.3h.01M169.7 151.9h.01M179.3 173.2h.01M184.8 160.0h.01M173.4 170.4h.01M180.1 167.0h.01M184.1 149.2h.01M176.4 162.0h.01M179.5 164.3h.01M177.8 166.4h.01M173.0 167.1h.01M172.1 167.8h.01M175.2 172.6h.01M177.5 164.4h.01M179.6 166.1h.01M179.1 142.4h.01M167.1 189.5h.01M174.3 164.6h.01M176.7 168.0h.01M172.9 158.5h.01M183.8 161.7h.01M172.6 189.9h.01M178.9 161.4h.01M176.9 163.4h.01M183.6 156.7h.01M170.0 169.9h.01M177.0 159.3h.01M182.7 169.9h.01M181.0 150.9h.01M172.0 166.7h.01M169.5 177.2h.01M167.3 173.1h.01M175.7 150.9h.01M170.7 184.1h.01M174.8 186.9h.01M167.9 176.8h.01M176.8 163.0h.01M173.7 156.9h.01M183.9 163.5h.01M174.0 155.9h.01M181.0 165.6h.01M174.7 155.0h.01M176.4 177.2h.01M173.9 181.3h.01M185.7 143.2h.01M182.0 178.0h.01M165.9 180.1h.01M182.5 140.6h.01M180.7 161.3h.01M170.5 186.3h.01M171.1 164.8h.01M177.7 157.1h.01M177.2 169.9h.01M164.4 175.7h.01M184.7 150.8h.01M167.2 189.8h.01M174.8 140.2h.01M182.3 140.8h.01M168.5 186.7h.01M178.4 155.7h.01M173.3 148.6h.01M174.7 165.9h.01M170.1 188.2h.01M173.0 162.8h.01M175.3 164.3h.01M165.2 186.2h.01M175.4 185.9h.01M182.1 167.2h.01M177.1 183.1h.01M165.3 174.7h.01M184.1 158.4h.01M168.1 189.7h.01M174.1 174.2h.01M184.4 144.5h.01M176.9 149.0h.01M166.1 186.7h.01M174.5 141.9h.01M164.9 154.2h.01M181.2 161.3h.01M173.0 161.8h.01M168.7 171.6h.01M166.8 190.6h.01M170.6 187.5h.01M167.5 188.5h.01M183.7 150.3h.01M181.9 175.2h.01M182.1 148.4h.01M179.7 166.1h.01M169.7 179.7h.01M181.7 140.9h.01M171.1 166.2h.01M168.1 158.5h.01M170.7 160.5h.01M178.7 141.1h.01M167.2 189.8h.01M171.3 174.5h.01M174.2 169.1h.01M167.1 184.8h.01M164.2 187.3h.01M166.7 174.3h.01M175.5 162.1h.01M165.3 180.0h.01M185.5 166.0h.01M173.4 158.7h.01M175.6 165.0h.01M173.9 153.8h.01M165.7 169.7h.01M174.2 160.8h.01M173.9 159.7h.01M181.0 159.3h.01M170.0 167.1h.01M173.0 177.1h.01M179.8 160.5h.01M175.9 157.7h.01M171.3 162.8h.01M168.2 169.1h.01M182.0 161.1h.01M179.4 143.3h.01M166.8 171.4h.01M182.2 169.1h.01M172.3 167.6h.01M174.0 187.1h.01M172.6 180.6h.01M176.0 181.8h.01M171.4 176.3h.01M173.3 173.0h.01M172.0 185.6h.01M183.6 142.0h.01M185.7 142.8h.01M180.7 147.0h.01M181.2 165.3h.01M173.6 169.0h.01M180.7 146.4h.01M173.3 181.0h.01M178.1 149.6h.01M184.8 157.4h.01M170.2 172.1h.01M171.1 177.9h.01M173.7 176.9h.01M172.1 175.2h.01M174.8 165.7h.01M179.3 167.1h.01M175.9 182.9h.01M184.4 155.6h.01M180.2 178.5h.01M169.6 187.0h.01M171.0 185.3h.01M176.3 177.0h.01M172.5 171.0h.01M181.7 154.0h.01M183.0 147.8h.01M173.4 175.1h.01M182.4 154.8h.01M178.1 139.9h.01M178.9 169.5h.01M168.1 180.2h.01M174.6 179.9h.01M184.6 152.8h.01M182.1 155.2h.01M172.9 191.7h.01M176.6 157.8h.01M172.2 182.4h.01M167.6 190.7h.01M164.6 186.1h.01M184.5 163.9h.01M174.7 178.0h.01M184.3 155.2h.01M166.0 188.9h.01M170.7 171.2h.01M174.1 184.6h.01M174.4 177.1h.01M171.2 163.8h.01M175.3 157.7h.01M180.7 165.3h.01M165.2 166.8h.01M182.1 155.1h.01M164.3 186.1h.01M179.6 154.3h.01M183.6 145.5h.01M170.4 165.2h.01M177.1 164.5h.01M168.1 162.2h.01M182.2 171.9h.01M174.1 161.5h.01M182.6 165.9h.01M176.3 176.5h.01M180.3 186.3h.01M172.0 161.8h.01M168.6 185.2h.01M179.3 180.7h.01M180.4 142.2h.01M173.6 165.5h.01M173.9 169.7h.01M178.5 162.6h.01M178.1 158.1h.01M170.0 189.8h.01M178.3 156.1h.01M179.2 159.8h.01M178.8 171.7h.01M168.0 181.6h.01M180.1 156.0h.01M179.4 140.7h.01M174.3 164.8h.01M168.2 183.6h.01M178.2 174.0h.01M171.4 192.1h.01M173.1 182.7h.01M173.1 163.6h.01M171.4 143.3h.01M167.8 183.0h.01M164.2 180.8h.01M175.4 168.2h.01M178.6 155.9h.01M180.0 165.3h.01M167.0 177.2h.01M175.9 178.0h.01M171.5 190.0h.01M176.9 186.1h.01M175.6 191.6h.01M172.0 155.8h.01M181.8 144.2h.01M176.3 181.9h.01M180.7 150.5h.01M178.1 181.2h.01M174.6 167.4h.01M174.4 181.7h.01M180.2 140.0h.01M182.3 146.8h.01M180.9 149.3h.01M165.2 186.8h.01M169.4 186.5h.01M171.3 153.5h.01M176.9 186.4h.01M166.8 178.4h.01M180.9 154.7h.01M181.3 149.2h.01M172.6 160.5h.01M166.3 173.2h.01M167.1 182.7h.01M184.7 149.9h.01M170.3 179.3h.01M168.9 157.0h.01M180.3 143.2h.01M176.3 167.8h.01M165.6 173.7h.01M177.6 176.9h.01M178.4 155.1h.01M174.9 165.3h.01M176.5 145.6h.01M170.5 156.3h.01M170.8 181.6h.01M178.1 152.5h.01M184.8 160.7h.01M167.9 177.3h.01M175.7 157.9h.01M176.8 154.6h.01M176.6 190.7h.01M176.3 162.5h.01M164.8 160.5h.01M181.4 141.8h.01M175.8 169.9h.01M179.4 171.9h.01M164.5 185.8h.01M179.9 165.8h.01M185.4 151.6h.01M175.8 156.3h.01M183.8 144.6h.01M180.6 146.9h.01M178.6 157.2h.01M169.8 169.6h.01M173.8 178.3h.01M165.3 182.7h.01M169.4 167.8h.01M177.1 152.4h.01M170.9 177.6h.01M173.0 161.8h.01M174.1 151.6h.01M173.3 173.4h.01M164.5 176.0h.01M177.1 141.1h.01M183.9 151.2h.01M164.9 176.6h.01M173.9 177.1h.01M172.1 165.7h.01M178.4 164.4h.01M170.0 181.1h.01M181.2 151.4h.01M167.0 182.2h.01M184.1 164.4h.01M182.0 147.3h.01M178.1 151.7h.01M174.3 177.5h.01M168.7 165.6h.01M175.6 162.2h.01M170.7 189.0h.01M177.2 166.6h.01M183.9 156.8h.01M182.0 154.1h.01M180.2 160.5h.01M176.5 180.8h.01M166.1 186.8h.01M166.7 183.3h.01M180.3 157.7h.01M179.5 153.4h.01M169.4 184.2h.01M166.7 190.1h.01M180.2 154.7h.01M168.4 183.3h.01M171.8 182.2h.01M172.7 185.3h.01M180.2 159.1h.01M164.4 175.2h.01M181.3 165.5h.01M183.3 158.5h.01M170.3 159.4h.01M172.9 190.0h.01M166.0 159.9h.01M177.6 151.0h.01M165.7 177.3h.01M177.3 173.6h.01M172.3 189.8h.01M168.4 183.9h.01M179.1 187.2h.01M169.6 184.4h.01M184.0 165.6h.01M174.2 160.4h.01M167.3 175.3h.01M164.9 177.6h.01M185.8 147.8h.01M176.1 161.1h.01M176.3 186.3h.01M174.1 187.9h.01M177.1 162.2h.01M171.7 166.7h.01M168.9 180.1h.01M172.3 160.1h.01M186.1 146.4h.01M174.6 167.6h.01M173.4 165.9h.01M168.0 188.7h.01M176.0 172.9h.01M172.6 184.4h.01M170.0 175.2h.01M182.1 165.9h.01M177.5 144.5h.01M169.4 168.0h.01M179.0 148.3h.01M170.9 180.1h.01M183.5 152.2h.01M178.7 160.0h.01M172.0 154.4h.01M175.2 170.5h.01M181.6 163.2h.01M185.2 142.7h.01M173.1 160.9h.01M167.1 164.9h.01M186.1 150.1h.01M168.2 179.0h.01M169.1 172.1h.01M174.1 148.3h.01M182.9 169.6h.01M185.3 148.9h.01M170.1 190.6h.01M186.0 149.6h.01M171.1 166.5h.01M180.9 141.4h.01M171.2 185.1h.01M184.9 145.7h.01M174.1 152.5h.01M180.4 148.8h.01M176.0 157.8h.01M177.2 145.6h.01M178.7 159.1h.01M170.6 181.9h.01M165.3 184.3h.01M166.5 182.0h.01M175.2 186.9h.01M167.2 170.2h.01M183.7 149.9h.01M182.8 162.8h.01M172.4 162.0h.01M167.8 178.1h.01M183.3 159.5h.01M173.1 156.2h.01M183.6 143.1h.01M183.7 160.4h.01M181.2 150.2h.01M182.7 171.3h.01M168.6 161.1h.01M169.2 166.3h.01M181.3 145.6h.01M172.8 158.6h.01M176.7 177.9h.01M168.6 189.3h.01M178.4 178.6h.01M166.0 181.6h.01M172.7 185.4h.01M184.1 151.9h.01M175.9 179.2h.01M182.0 160.2h.01M185.3 150.0h.01M166.9 190.4h.01M183.2 149.8h.01M178.9 157.6h.01M179.3 186.1h.01M174.2 166.3h.01M171.4 190.3h.01M177.9 178.3h.01M171.6 181.8h.01M176.4 150.7h.01M182.7 152.9h.01M175.4 153.4h.01M164.5 189.7h.01M179.4 140.0h.01M173.5 149.1h.01M179.0 162.5h.01M180.8 161.4h.01M170.9 178.2h.01M184.7 157.9h.01M176.7 151.9h.01M180.0 160.0h.01M179.6 163.0h.01M173.6 151.0h.01M175.7 175.6h.01M174.2 176.1h.01M181.0 163.6h.01M168.6 185.7h.01M179.3 154.3h.01M176.0 175.0h.01M165.0 189.2h.01M172.5 154.2h.01M184.3 159.9h.01M170.4 167.5h.01M166.1 172.3h.01M166.1 180.0h.01M167.1 182.2h.01M176.6 165.1h.01M171.1 170.4h.01M168.8 157.6h.01M184.6 141.9h.01M175.3 175.9h.01M172.3 180.0h.01M178.3 167.1h.01M181.2 150.5h.01M178.9 152.2h.01M177.7 159.1h.01M182.5 148.2h.01M168.4 184.2h.01M184.7 152.7h.01M177.0 147.0h.01M178.0 168.6h.01M169.8 184.4h.01M170.9 186.2h.01M170.0 189.6h.01M173.6 177.0h.01M172.7 164.5h.01M176.8 164.1h.01M173.0 191.9h.01M177.9 140.8h.01M166.8 179.2h.01M164.5 188.7h.01M170.6 173.1h.01M179.9 146.8h.01M178.0 155.7h.01M168.8 151.1h.01M170.0 165.4h.01M181.7 159.9h.01M172.9 176.5h.01M171.6 168.7h.01M178.6 156.4h.01M166.9 188.2h.01M172.7 192.1h.01M174.9 175.6h.01M165.9 169.6h.01M169.1 182.7h.01M166.9 167.5h.01M167.6 180.1h.01M174.7 147.5h.01M178.2 141.6h.01M176.8 156.1h.01M167.6 176.1h.01M175.3 173.2h.01M165.3 174.9h.01M176.7 157.8h.01M171.5 151.2h.01M173.8 155.6h.01M172.5 183.4h.01M166.2 170.1h.01M172.9 184.6h.01M166.4 179.9h.01M178.1 145.4h.01M183.1 154.4h.01M167.8 171.6h.01M165.6 190.6h.01M168.8 187.4h.01M179.0 184.9h.01M164.5 174.2h.01M175.4 157.6h.01M171.3 175.4h.01M181.3 151.5h.01M172.1 171.8h.01M178.2 167.5h.01M167.8 183.1h.01M171.5 182.2h.01M174.7 164.2h.01M184.1 148.1h.01M169.1 188.9h.01M164.8 173.7h.01M173.4 179.0h.01M178.4 174.0h.01M170.3 167.3h.01M172.3 181.3h.01M178.0 147.1h.01M170.3 191.1h.01M170.7 178.9h.01M184.4 150.9h.01M180.1 142.1h.01M179.2 178.8h.01M180.3 163.2h.01M185.2 168.8h.01M178.5 162.1h.01M169.6 164.5h.01M173.1 153.2h.01M172.5 176.4h.01M170.9 184.1h.01M168.7 191.0h.01M181.2 167.6h.01M185.8 142.1h.01M179.9 150.3h.01M183.9 141.7h.01M174.3 158.3h.01M171.6 152.3h.01M176.8 148.4h.01M184.2 163.8h.01M180.9 141.9h.01M179.2 152.7h.01M166.4 182.3h.01M171.2 174.8h.01M177.2 157.7h.01M169.5 185.5h.01M179.7 164.9h.01M182.5 156.3h.01M166.5 186.3h.01M173.0 144.8h.01M173.6 153.1h.01M166.3 183.7h.01M176.8 169.4h.01M177.7 179.1h.01M181.1 146.9h.01M183.1 143.5h.01M173.2 157.9h.01M177.3 151.6h.01M172.2 188.2h.01M170.0 183.6h.01M175.1 154.5h.01M173.0 169.2h.01M163.9 185.3h.01M178.2 157.6h.01M177.7 169.0h.01M180.8 168.3h.01M169.5 167.5h.01M172.2 168.2h.01M170.1 175.6h.01M183.1 163.0h.01M167.5 179.6h.01M184.8 143.0h.01M169.6 171.4h.01M166.9 189.4h.01M178.0 148.5h.01M180.3 155.5h.01M164.5 176.7h.01M166.0 189.0h.01M175.2 164.9h.01M183.5 153.5h.01M179.9 165.4h.01M170.7 184.2h.01M175.4 184.6h.01M170.8 184.1h.01M164.4 188.7h.01M170.1 178.2h.01M183.0 142.8h.01M164.7 174.3h.01M177.9 187.5h.01M164.4 183.0h.01M172.6 175.3h.01M181.4 163.6h.01M165.3 188.3h.01M175.9 173.5h.01M171.3 178.8h.01M176.2 176.7h.01M178.1 157.4h.01M167.3 183.2h.01M185.1 158.7h.01M173.3 181.1h.01M184.4 150.1h.01M175.0 153.1h.01M173.2 158.6h.01M171.6 172.8h.01M172.1 167.2h.01M173.4 188.9h.01M177.7 171.1h.01M173.5 182.0h.01M174.8 163.6h.01M181.0 168.7h.01M179.3 145.2h.01M184.6 144.4h.01M170.0 187.7h.01M167.2 186.3h.01M173.2 167.2h.01M172.4 173.2h.01M177.9 154.4h.01M182.3 142.6h.01M184.3 155.6h.01M180.6 179.0h.01M178.3 168.8h.01M178.0 173.1h.01M181.9 141.6h.01M166.5 145.1h.01M176.1 147.9h.01M172.8 187.1h.01M184.0 177.9h.01M169.8 164.3h.01M180.7 162.7h.01M174.6 179.3h.01M176.8 150.9h.01M185.0 157.0h.01M176.2 161.3h.01M180.5 152.5h.01M182.5 150.9h.01M178.8 156.3h.01M175.1 144.4h.01M167.6 160.0h.01M184.7 148.7h.01M177.2 163.7h.01M177.0 157.1h.01M183.6 147.1h.01M169.9 188.4h.01M176.9 154.9h.01M177.3 161.5h.01M174.6 180.5h.01M174.8 164.0h.01M177.0 179.0h.01M167.0 184.5h.01M180.1 142.3h.01M172.9 170.5h.01M172.4 172.3h.01M180.2 139.7h.01M172.0 176.1h.01M176.1 163.9h.01M176.5 159.4h.01M178.3 172.3h.01M174.9 173.6h.01M183.8 159.7h.01M169.2 190.6h.01M172.3 166.3h.01M167.8 179.3h.01M172.5 160.4h.01M171.6 169.9h.01M184.1 141.9h.01M169.4 168.1h.01M179.4 179.2h.01M178.6 150.7h.01M177.7 162.7h.01M175.5 178.6h.01M177.2 168.3h.01M165.1 173.4h.01M165.7 183.5h.01M178.5 152.7h.01M178.5 161.8h.01M179.9 168.9h.01M165.4 189.8h.01M168.3 165.6h.01M184.0 168.0h.01M186.2 143.9h.01M170.2 191.7h.01M166.7 188.3h.01M168.9 179.5h.01M177.1 170.4h.01M164.4 190.2h.01M178.1 155.6h.01M180.7 143.7h.01M172.7 162.4h.01M183.8 157.7h.01M177.3 175.0h.01M171.5 173.9h.01M182.8 151.1h.01M185.8 154.9h.01M166.8 190.0h.01M182.0 165.9h.01M182.2 178.9h.01M174.9 164.5h.01M176.3 194.3h.01M172.8 176.3h.01M180.6 175.3h.01M180.8 147.5h.01M176.6 169.0h.01M170.9 187.9h.01M181.3 164.0h.01M172.4 181.2h.01M179.4 170.6h.01M173.7 166.5h.01M163.9 189.6h.01M169.2 188.5h.01M168.3 173.1h.01M183.6 174.1h.01M180.4 155.7h.01M170.9 180.0h.01M168.9 155.6h.01M184.3 151.0h.01M182.1 146.8h.01M165.5 185.7h.01M178.9 161.0h.01M176.9 166.3h.01M175.6 168.1h.01M173.2 158.1h.01M180.7 160.4h.01M177.6 155.6h.01M164.5 180.7h.01M185.2 148.6h.01M170.3 181.8h.01M175.4 160.7h.01M174.0 164.7h.01M175.9 162.0h.01M177.8 154.0h.01M169.2 176.8h.01M183.2 149.5h.01M179.6 160.9h.01M175.3 171.6h.01M181.9 151.1h.01M164.9 190.6h.01M181.0 153.1h.01M185.0 142.5h.01M165.5 176.6h.01M169.2 170.2h.01M165.2 170.6h.01M170.3 167.5h.01M179.7 161.5h.01M176.4 193.6h.01M165.1 190.3h.01M182.7 153.4h.01M171.3 143.5h.01M167.0 178.4h.01M165.8 179.8h.01M173.1 182.4h.01M183.1 145.0h.01M166.3 178.2h.01M165.8 174.8h.01M184.5 153.7h.01M186.3 144.5h.01M174.5 172.6h.01M183.3 150.3h.01M168.7 165.8h.01M183.5 161.1h.01M182.9 140.8h.01M178.3 146.1h.01M177.1 146.5h.01M166.5 186.6h.01M169.8 181.8h.01M170.5 172.8h.01M173.3 167.4h.01M176.1 146.5h.01M174.6 154.8h.01M177.0 173.0h.01M181.2 147.0h.01M173.3 179.8h.01M173.2 179.4h.01M163.9 176.3h.01M183.2 173.5h.01M178.0 177.2h.01M184.5 145.3h.01M178.7 149.1h.01M169.2 178.7h.01M185.7 144.7h.01M169.9 172.9h.01M176.3 159.9h.01M185.1 148.7h.01M164.8 184.3h.01M171.2 166.2h.01M181.9 147.3h.01M181.0 150.5h.01M170.0 179.7h.01M183.5 155.9h.01M178.2 145.0h.01M167.1 186.4h.01M165.6 178.1h.01M177.5 153.3h.01M170.0 169.8h.01M186.1 158.9h.01M171.9 172.6h.01M171.7 164.6h.01M166.8 180.6h.01M171.7 188.1h.01M169.3 174.5h.01M178.7 166.9h.01M184.9 146.9h.01M165.3 183.1h.01M173.6 188.8h.01M174.4 152.1h.01M180.5 144.7h.01M169.4 187.1h.01M173.6 171.1h.01M172.1 168.4h.01M168.8 187.4h.01M183.8 160.6h.01M182.0 143.3h.01M170.2 189.1h.01M169.7 181.7h.01M168.2 185.3h.01M166.1 160.5h.01M177.7 167.7h.01M172.0 188.3h.01M180.3 153.7h.01M178.4 170.7h.01M173.5 169.1h.01M169.1 190.7h.01M171.0 171.3h.01M179.3 156.9h.01M168.3 191.7h.01M173.9 175.0h.01M164.8 177.3h.01M171.9 165.8h.01M173.5 168.3h.01M184.0 156.6h.01M174.7 186.9h.01M170.7 167.5h.01M167.8 180.9h.01M172.0 167.0h.01M183.4 163.4h.01M170.5 163.5h.01M172.5 159.2h.01M172.8 177.3h.01M178.2 146.0h.01M177.2 161.7h.01M184.1 142.7h.01M169.3 187.1h.01M182.4 162.4h.01M185.8 143.5h.01M176.5 167.3h.01M185.2 153.0h.01M180.0 155.8h.01M174.6 170.3h.01M181.7 153.6h.01M168.5 162.9h.01M178.4 152.2h.01M166.5 168.3h.01M175.3 190.1h.01M174.8 150.1h.01M172.0 179.0h.01M182.1 143.4h.01M171.0 189.5h.01M183.2 146.7h.01M167.4 183.1h.01M176.7 178.6h.01M182.7 148.9h.01M166.3 150.2h.01M171.4 175.7h.01M171.2 174.9h.01M181.0 170.0h.01M182.8 147.4h.01M181.1 161.1h.01M171.1 164.6h.01M180.8 156.9h.01M181.3 168.1h.01M168.6 175.0h.01M177.9 158.9h.01M166.6 184.7h.01M176.5 164.2h.01M168.2 186.3h.01M180.1 150.4h.01M175.5 177.5h.01M167.5 183.3h.01M178.7 157.7h.01M183.4 170.3h.01M168.1 176.6h.01M169.1 177.1h.01M167.8 187.0h.01M172.2 184.3h.01M167.7 168.0h.01M178.2 164.2h.01M174.6 155.4h.01M178.3 147.0h.01M168.5 183.9h.01M183.6 145.8h.01M174.7 144.2h.01M181.3 164.7h.01M168.7 176.2h.01M178.8 172.1h.01M171.3 172.4h.01M180.8 172.7h.01M172.9 151.9h.01M171.8 164.9h.01M186.1 156.2h.01M181.1 157.4h.01M166.1 183.4h.01M175.3 180.0h.01M171.0 186.7h.01M170.5 191.9h.01M177.4 150.1h.01M172.5 179.1h.01M165.8 173.0h.01M169.6 167.9h.01M171.5 152.4h.01M175.7 153.2h.01M184.5 154.3h.01M168.8 185.5h.01M181.5 177.2h.01M167.8 183.0h.01M169.9 171.8h.01M170.3 167.7h.01M174.1 156.3h.01M172.6 169.2h.01M170.1 164.3h.01M183.4 166.4h.01M181.9 157.3h.01M175.8 144.2h.01M171.2 167.1h.01M165.8 163.2h.01M180.7 149.8h.01M184.5 149.4h.01M182.4 165.7h.01M169.3 177.5h.01M171.1 186.0h.01M166.9 181.9h.01M174.5 164.1h.01M178.6 151.2h.01M179.4 143.5h.01M175.4 166.3h.01M169.6 174.9h.01M177.1 152.1h.01M172.1 153.9h.01M167.4 189.9h.01M169.4 178.5h.01M169.5 175.1h.01M173.9 169.6h.01M166.4 183.2h.01M171.8 186.7h.01M183.9 152.0h.01M183.1 146.6h.01M177.3 172.1h.01M174.3 164.6h.01M164.0 160.3h.01M181.4 173.8h.01M176.4 149.5h.01M181.5 148.6h.01M180.6 153.5h.01M169.2 163.4h.01M173.1 184.7h.01M177.7 168.3h.01M174.7 171.7h.01M172.4 156.2h.01M171.4 179.4h.01M164.2 175.4h.01M175.5 179.8h.01M181.8 153.3h.01M177.2 153.8h.01M170.7 176.2h.01M184.7 153.7h.01M172.5 157.1h.01M185.8 152.2h.01M173.4 182.6h.01M173.5 157.6h.01M183.1 148.4h.01M184.3 157.4h.01M178.0 169.9h.01M176.5 166.2h.01M177.3 154.3h.01M175.7 178.6h.01M171.0 185.5h.01M177.0 169.0h.01M173.0 185.8h.01M185.7 141.7h.01M182.1 162.6h.01M184.7 159.6h.01M179.5 174.9h.01M175.5 174.0h.01M176.2 153.4h.01M185.6 151.8h.01M177.7 165.1h.01M175.5 172.8h.01M173.9 187.2h.01M180.9 174.7h.01M180.7 141.5h.01M176.9 143.1h.01M176.4 161.7h.01M175.4 149.3h.01M166.7 189.4h.01M184.9 161.6h.01M177.5 170.7h.01M170.5 184.9h.01M179.7 144.9h.01M168.4 170.0h.01M178.3 152.2h.01M169.2 172.0h.01M172.0 174.0h.01M167.8 185.4h.01M182.5 157.9h.01M175.8 186.4h.01M172.8 188.6h.01M171.3 158.3h.01M181.3 142.0h.01M165.7 190.2h.01M182.8 149.8h.01M169.2 188.2h.01M173.6 173.2h.01M183.6 144.3h.01M175.6 160.9h.01M170.0 182.2h.01M174.6 180.2h.01M172.2 176.5h.01M181.2 163.0h.01M175.9 162.7h.01M175.3 161.9h.01M176.5 171.6h.01M177.5 141.4h.01M173.2 162.7h.01M171.2 149.7h.01M167.8 188.8h.01M180.2 152.5h.01M185.0 171.2h.01M174.9 151.8h.01M166.1 186.3h.01M172.0 169.1h.01M167.9 184.3h.01M177.4 164.6h.01M168.0 186.5h.01M179.5 179.3h.01M181.1 163.7h.01M176.2 148.2h.01M183.3 144.4h.01M178.3 143.4h.01M177.2 190.2h.01M171.6 180.2h.01M180.3 147.3h.01M170.4 180.0h.01M172.8 165.1h.01M167.9 159.0h.01M182.5 156.8h.01M165.8 177.5h.01M177.4 149.9h.01M181.9 152.9h.01M182.6 153.7h.01M165.2 189.4h.01M177.1 159.8h.01M168.6 184.4h.01M177.8 156.2h.01M175.4 181.8h.01M175.5 165.1h.01M179.1 147.6h.01M183.7 180.8h.01M165.8 188.8h.01M181.5 162.8h.01M173.9 190.2h.01M175.2 152.0h.01M184.1 149.1h.01M166.6 181.1h.01M184.8 145.3h.01M176.4 168.1h.01M174.0 159.8h.01M177.8 152.9h.01M170.7 187.9h.01M175.0 158.6h.01M173.6 175.6h.01M176.4 176.7h.01M173.3 184.9h.01M176.1 182.7h.01M176.7 149.6h.01M178.4 144.2h.01M171.8 155.0h.01M165.6 164.9h.01M175.4 188.5h.01M175.0 167.6h.01M185.8 148.5h.01M169.1 180.8h.01M178.8 163.1h.01M167.7 187.4h.01M168.6 175.1h.01M179.8 157.0h.01M183.0 154.1h.01M174.8 151.4h.01M180.2 151.0h.01M172.6 160.7h.01M181.4 149.8h.01M170.6 192.1h.01M181.0 162.4h.01M165.4 156.2h.01M165.5 153.1h.01M167.7 190.2h.01M168.7 180.5h.01M167.9 176.6h.01M165.6 183.7h.01M164.4 159.8h.01M166.2 156.2h.01M166.2 167.0h.01M165.7 161.5h.01M164.9 164.3h.01M168.5 169.6h.01M165.8 175.6h.01M165.0 167.3h.01M167.9 150.9h.01M164.1 174.5h.01M164.4 159.7h.01M165.7 154.8h.01M167.3 189.2h.01M166.3 162.0h.01M170.8 175.7h.01M167.3 149.5h.01M164.8 167.3h.01M166.1 173.2h.01M165.6 149.0h.01M165.7 165.7h.01M166.0 148.8h.01M166.2 185.1h.01M164.2 173.4h.01M170.6 149.9h.01M168.0 158.5h.01M167.1 175.8h.01M169.5 163.8h.01M167.9 170.5h.01M168.6 180.4h.01M166.6 181.0h.01M169.2 154.5h.01M167.7 155.7h.01M164.4 150.6h.01M165.3 161.6h.01M164.8 156.8h.01M164.8 184.2h.01M165.9 180.9h.01M170.5 184.7h.01M167.4 172.8h.01M165.5 178.3h.01M167.9 150.6h.01M168.1 156.2h.01M167.2 175.1h.01M166.5 154.5h.01M169.4 182.8h.01M164.3 175.2h.01M168.6 148.2h.01M164.5 158.7h.01M165.1 153.8h.01M166.7 177.0h.01M165.3 167.4h.01M167.1 149.4h.01M168.1 176.6h.01M170.7 152.9h.01M168.6 155.8h.01M166.7 153.7h.01M164.8 154.2h.01M166.3 153.9h.01M164.3 149.2h.01M164.8 176.4h.01M166.6 163.2h.01M167.4 166.4h.01M165.4 189.0h.01M166.4 169.1h.01M164.9 182.8h.01M169.0 173.8h.01M165.4 170.0h.01M168.4 173.1h.01M170.0 158.4h.01M168.6 169.9h.01M169.9 162.3h.01M167.8 156.0h.01M168.4 187.0h.01M165.6 170.8h.01M166.0 181.4h.01M165.6 169.5h.01M168.0 148.7h.01M166.5 156.7h.01M164.5 164.1h.01M168.6 160.3h.01M166.8 176.1h.01M166.8 167.3h.01M164.7 178.9h.01M172.1 148.8h.01M168.4 170.6h.01M165.0 184.0h.01M170.2 167.3h.01M167.5 186.2h.01M167.7 173.7h.01M167.0 164.6h.01M166.5 156.4h.01M170.0 154.0h.01M163.8 173.5h.01M169.7 164.6h.01M169.0 164.1h.01M166.9 190.9h.01M172.6 152.7h.01M167.6 189.6h.01M165.4 174.4h.01M165.4 165.5h.01M170.0 151.7h.01M164.2 183.4h.01M167.7 168.0h.01M165.9 183.1h.01M166.0 181.3h.01M166.4 163.8h.01M164.9 165.3h.01M166.6 179.0h.01M170.5 156.3h.01M166.4 163.3h.01M168.4 153.5h.01M169.5 174.8h.01M168.3 187.9h.01M165.0 167.9h.01M167.3 185.7h.01M165.5 164.2h.01M166.6 184.3h.01M167.9 184.0h.01M168.4 191.5h.01M166.7 175.1h.01M166.5 186.2h.01M165.0 162.6h.01M170.3 185.7h.01M167.2 180.3h.01M170.4 189.5h.01M165.2 188.4h.01M167.8 188.5h.01M165.3 152.0h.01M166.9 190.0h.01M166.2 154.6h.01M165.8 186.9h.01M168.7 176.8h.01M165.4 149.6h.01M167.6 156.8h.01M169.2 169.4h.01M166.3 179.6h.01M166.4 156.1h.01M168.6 165.6h.01M166.8 187.5h.01M170.0 183.0h.01M168.2 166.6h.01M164.5 185.3h.01M167.6 155.7h.01M168.8 189.6h.01M164.7 179.2h.01M167.8 168.3h.01M166.4 159.0h.01M165.1 157.4h.01M169.8 175.6h.01M168.1 181.0h.01M169.4 190.7h.01M167.2 171.3h.01M167.7 169.0h.01M165.3 162.6h.01M169.2 170.4h.01M165.8 177.4h.01M172.1 191.5h.01M170.1 162.0h.01M168.7 174.8h.01M167.9 168.2h.01M166.1 158.4h.01M166.7 183.5h.01M167.8 169.1h.01M165.0 189.6h.01M168.8 162.8h.01M167.7 177.1h.01M167.7 172.5h.01M167.2 149.2h.01M164.1 176.6h.01M166.8 160.3h.01M166.9 180.6h.01M166.3 155.0h.01M168.8 162.6h.01M169.2 184.6h.01M167.1 190.1h.01M166.9 177.3h.01M167.8 163.6h.01M167.6 165.5h.01M169.1 158.8h.01M171.4 164.2h.01M169.1 170.2h.01M169.5 163.8h.01M167.9 159.8h.01M168.2 169.9h.01M172.0 175.7h.01M168.8 163.4h.01M170.6 157.5h.01M164.1 185.6h.01M166.3 150.6h.01M165.2 182.3h.01M164.8 178.4h.01M168.8 183.9h.01M165.2 189.0h.01M165.2 161.4h.01M166.4 184.1h.01M169.3 171.7h.01M167.4 160.9h.01M167.0 179.8h.01M168.8 190.1h.01M166.1 173.7h.01M165.5 164.7h.01M167.4 169.5h.01M166.7 178.4h.01M168.7 153.4h.01M163.9 178.3h.01M164.2 148.8h.01M165.6 186.7h.01M168.8 187.2h.01M167.4 182.3h.01M168.4 152.0h.01M164.3 153.1h.01M164.9 178.8h.01M168.0 189.6h.01M165.2 185.9h.01M166.3 182.8h.01M166.6 190.0h.01M166.4 166.2h.01M168.1 171.8h.01M167.2 181.1h.01M170.1 151.9h.01M165.4 172.9h.01M166.0 175.3h.01M164.9 158.9h.01M167.5 185.9h.01M167.9 158.2h.01M165.9 149.5h.01M165.5 154.2h.01M164.7 169.2h.01M164.4 152.6h.01M168.2 170.8h.01M170.9 160.1h.01M164.5 166.6h.01M164.9 170.1h.01M167.6 185.6h.01M167.2 151.0h.01M167.9 160.0h.01M169.6 182.9h.01M164.8 169.9h.01M164.9 187.5h.01M166.5 189.7h.01M166.2 175.5h.01M167.4 148.2h.01M166.8 150.7h.01M166.5 177.9h.01M168.8 154.9h.01M166.5 160.0h.01M164.2 160.0h.01M165.0 188.1h.01M166.5 175.5h.01M165.0 167.7h.01M165.8 160.3h.01M166.4 183.1h.01M164.3 166.3h.01M166.2 152.8h.01M165.7 158.6h.01M167.1 190.1h.01M166.4 155.0h.01M166.5 184.9h.01M166.8 187.4h.01M164.9 163.0h.01M167.5 175.9h.01M164.4 176.7h.01M164.8 160.1h.01M164.4 176.6h.01M170.7 148.2h.01M165.0 174.1h.01M165.3 177.7h.01M167.0 165.4h.01M164.7 154.5h.01M168.2 186.5h.01M168.4 176.9h.01M164.1 159.9h.01M169.3 170.2h.01M169.5 158.8h.01M169.5 181.2h.01M167.7 152.2h.01M164.3 171.1h.01M165.0 182.8h.01M169.5 164.9h.01M165.5 172.6h.01M164.8 191.1h.01M169.5 163.4h.01M167.6 150.4h.01M168.0 179.0h.01M166.2 176.7h.01M167.3 169.2h.01M167.7 163.0h.01M165.2 184.6h.01M167.8 168.1h.01M167.0 172.5h.01M165.3 175.8h.01M165.5 159.7h.01M163.9 165.1h.01M165.8 187.6h.01M168.8 167.4h.01M164.8 161.4h.01M164.3 158.8h.01M168.3 169.9h.01M165.8 168.2h.01M170.2 160.4h.01M167.4 161.8h.01M166.4 166.5h.01M167.9 153.1h.01M168.5 162.4h.01M166.9 157.6h.01M165.0 187.0h.01M168.5 168.0h.01M167.1 190.0h.01M165.2 174.3h.01M164.2 148.0h.01M166.6 191.8h.01M168.2 166.9h.01M166.0 188.0h.01M170.4 173.6h.01M168.5 156.7h.01M169.2 154.7h.01M171.6 150.5h.01M167.6 162.4h.01M163.9 187.0h.01M167.5 161.2h.01M170.2 167.0h.01M164.9 186.7h.01M166.4 153.1h.01M166.7 184.4h.01M168.2 177.0h.01M168.7 170.5h.01M167.6 172.9h.01M167.6 172.7h.01M165.1 155.2h.01M166.0 175.8h.01M168.1 173.9h.01M166.5 165.2h.01M166.3 149.6h.01M165.5 180.7h.01M165.5 170.4h.01M169.0 156.7h.01M168.0 157.8h.01M170.0 177.9h.01M170.8 162.8h.01M168.6 182.2h.01M168.9 149.6h.01M167.4 161.5h.01M166.7 152.4h.01M164.5 184.2h.01M165.1 158.5h.01M168.0 171.2h.01M165.7 168.1h.01M164.7 160.2h.01M167.7 153.6h.01M164.9 180.6h.01M170.0 188.6h.01M167.0 182.8h.01M170.1 183.9h.01M169.4 180.8h.01M169.5 164.9h.01M168.4 178.6h.01M167.1 162.9h.01M164.9 178.2h.01M166.6 168.4h.01M165.4 183.6h.01M165.7 156.4h.01M164.7 150.4h.01M165.6 165.8h.01M167.1 169.7h.01M166.5 185.1h.01M163.8 189.5h.01M166.5 182.6h.01M167.8 187.0h.01M166.9 176.3h.01M166.7 186.6h.01M164.7 152.8h.01M167.0 168.2h.01M166.3 161.9h.01M164.7 160.7h.01M168.7 169.5h.01M167.6 174.1h.01M169.2 166.2h.01M166.5 185.1h.01M169.6 187.4h.01M168.6 161.3h.01M167.4 155.2h.01M165.6 181.7h.01M167.5 188.3h.01M168.1 153.8h.01M167.7 181.9h.01M167.0 191.7h.01M168.0 182.5h.01M165.4 188.9h.01M167.3 163.3h.01M167.5 171.6h.01M167.8 160.0h.01M164.3 182.0h.01M167.0 189.0h.01M165.5 186.5h.01M167.6 164.9h.01M165.2 177.2h.01M170.6 153.3h.01M164.9 177.8h.01M166.7 150.3h.01M164.6 170.5h.01M164.6 165.9h.01M169.5 183.7h.01M169.4 151.6h.01M166.6 185.2h.01M166.3 149.2h.01M165.4 167.1h.01M167.4 184.1h.01M168.1 165.1h.01M167.6 181.8h.01M167.2 163.9h.01M168.5 149.1h.01M166.4 161.3h.01M166.3 162.9h.01M167.6 151.9h.01M169.0 153.8h.01M165.6 188.9h.01M166.8 180.0h.01M165.6 172.1h.01M166.0 184.6h.01M165.3 190.1h.01M167.0 183.5h.01M168.6 174.0h.01M164.9 187.8h.01M169.0 169.2h.01M168.0 149.1h.01M164.2 148.3h.01M166.8 173.0h.01M164.0 180.8h.01M172.6 153.2h.01M171.7 158.2h.01M166.3 165.4h.01M168.7 157.2h.01M167.2 151.5h.01M170.5 183.6h.01M165.8 152.6h.01M163.8 162.8h.01M164.0 167.6h.01M164.5 174.6h.01M166.1 165.1h.01M166.1 179.0h.01M168.6 170.6h.01M166.6 150.5h.01M169.7 175.1h.01M166.3 153.9h.01M165.3 149.5h.01M167.2 163.0h.01M164.8 184.8h.01M164.9 172.6h.01M167.0 151.1h.01M167.2 181.6h.01M170.6 164.4h.01M163.9 183.8h.01M164.7 178.5h.01M168.5 172.9h.01M168.3 166.9h.01M169.9 168.9h.01M169.4 162.8h.01M167.7 172.5h.01M165.8 179.0h.01M166.5 148.3h.01M167.4 155.4h.01M168.2 180.8h.01M166.0 169.5h.01M167.7 189.0h.01M168.1 189.7h.01M164.0 158.7h.01M164.7 183.3h.01M169.1 183.1h.01M165.0 157.2h.01M168.0 189.6h.01M167.2 172.3h.01M168.7 165.5h.01M166.7 188.8h.01M171.9 154.7h.01M169.0 184.1h.01M166.9 187.0h.01M164.5 168.1h.01M166.7 156.5h.01M168.3 166.0h.01M169.3 186.8h.01M167.2 189.1h.01M165.0 166.4h.01M164.8 159.1h.01M169.8 177.2h.01M167.1 176.5h.01M165.0 181.4h.01M165.8 152.0h.01M167.0 157.2h.01M165.6 181.5h.01M167.2 189.3h.01M164.9 170.4h.01M165.0 158.2h.01M169.4 176.5h.01M169.4 188.5h.01M168.1 186.0h.01M169.6 186.3h.01M171.6 184.9h.01M166.4 190.3h.01M166.2 156.7h.01M163.9 172.0h.01M168.2 166.6h.01M166.8 166.4h.01M166.6 174.1h.01M170.2 152.6h.01M170.5 157.3h.01M166.5 160.1h.01M166.4 180.5h.01M164.8 185.4h.01M165.5 156.6h.01M169.2 149.2h.01M167.8 168.7h.01M167.1 164.4h.01M171.4 169.4h.01M166.0 165.0h.01M167.5 187.5h.01M166.8 173.7h.01M170.9 150.3h.01M168.5 179.9h.01M166.4 166.8h.01M166.8 180.4h.01M167.5 168.4h.01M169.9 160.8h.01M167.4 174.4h.01M167.6 148.1h.01M165.2 166.5h.01M166.3 160.5h.01M165.4 169.6h.01M165.4 186.8h.01M163.9 187.4h.01M168.9 188.3h.01M168.2 156.5h.01M168.4 155.4h.01M167.5 160.1h.01M167.8 152.6h.01M166.4 185.2h.01M167.4 156.8h.01M172.9 148.2h.01M168.2 154.7h.01M169.9 173.4h.01M165.5 173.9h.01M166.4 182.1h.01M164.1 164.7h.01M168.0 170.6h.01M169.0 149.8h.01M166.6 167.2h.01M165.7 163.2h.01M168.6 152.3h.01M165.6 159.0h.01M169.0 163.4h.01M164.4 186.5h.01M167.1 154.1h.01M163.9 179.3h.01M169.3 162.2h.01M169.8 191.8h.01M169.8 155.7h.01M166.0 167.5h.01M168.8 171.3h.01M166.1 173.2h.01M167.4 165.4h.01M164.5 182.3h.01M168.4 154.8h.01M166.3 188.8h.01M170.1 148.4h.01M167.1 158.4h.01M169.4 152.2h.01M165.3 152.6h.01M166.3 166.0h.01M164.5 190.7h.01M168.4 177.4h.01M165.9 175.3h.01M168.5 176.6h.01M166.7 157.6h.01M165.2 165.8h.01M167.3 161.1h.01M167.2 161.9h.01M165.7 174.6h.01M170.3 167.0h.01M165.9 177.3h.01M164.9 182.9h.01M165.5 161.1h.01M166.5 185.1h.01M167.7 190.6h.01M165.1 157.0h.01M164.8 167.3h.01M165.3 179.4h.01M164.9 161.9h.01M164.3 149.3h.01M165.2 160.9h.01M165.5 191.7h.01M169.4 185.2h.01M167.6 175.8h.01M164.0 182.5h.01M171.3 189.6h.01M165.3 163.1h.01M167.4 153.0h.01M165.3 191.0h.01M166.7 183.3h.01M164.4 150.3h.01M166.2 167.6h.01M168.2 155.0h.01M167.9 163.6h.01M165.3 162.2h.01M168.5 151.1h.01M168.6 174.9h.01M163.9 162.3h.01M168.8 172.5h.01M165.5 164.9h.01M168.6 166.4h.01M164.4 173.0h.01M166.1 151.7h.01M166.3 188.4h.01M167.9 157.3h.01M168.7 177.3h.01M167.4 165.9h.01M167.5 157.9h.01M166.6 150.9h.01M165.4 158.4h.01M166.6 156.7h.01M172.2 163.7h.01M170.2 179.0h.01M169.9 184.1h.01M168.0 175.8h.01M167.7 148.4h.01M165.8 178.2h.01M167.9 164.0h.01M166.0 190.7h.01M165.6 160.2h.01M165.3 161.9h.01M167.6 156.3h.01M169.1 148.5h.01M166.7 172.0h.01M167.1 156.8h.01M167.0 182.9h.01M167.9 159.8h.01M166.2 151.3h.01M169.7 163.4h.01M168.4 172.9h.01M166.7 171.6h.01M168.0 148.4h.01M172.1 155.3h.01M169.4 167.2h.01M168.4 182.0h.01M166.8 162.5h.01M168.6 182.3h.01M170.7 170.4h.01M168.9 155.8h.01M167.2 169.9h.01M166.0 182.3h.01M166.3 156.6h.01M165.6 182.2h.01M167.8 179.0h.01M164.7 163.7h.01M165.1 169.7h.01M166.1 190.2h.01M167.7 162.1h.01M169.5 168.5h.01M167.6 175.3h.01M169.2 182.6h.01M166.6 161.2h.01M164.3 182.6h.01M164.4 169.9h.01M166.5 187.4h.01M168.5 155.4h.01M167.5 171.9h.01M167.2 181.6h.01M165.6 167.7h.01M164.7 191.2h.01M166.6 157.6h.01M166.2 168.8h.01M169.3 173.9h.01M170.3 157.9h.01M167.5 162.6h.01M164.5 148.8h.01M167.0 190.5h.01M167.4 174.9h.01M165.4 189.1h.01M167.0 181.6h.01M167.0 161.3h.01M164.8 166.6h.01M165.5 168.7h.01M172.0 157.0h.01M167.4 186.4h.01M167.1 184.2h.01M165.3 169.0h.01M166.3 189.1h.01M165.8 185.4h.01M173.0 148.6h.01M167.1 173.2h.01M168.2 148.4h.01M169.3 151.8h.01M166.3 155.2h.01M167.7 153.8h.01M164.6 189.9h.01M166.5 162.4h.01M167.0 168.6h.01M165.3 154.6h.01M166.0 178.6h.01M167.5 174.7h.01M166.9 186.1h.01M167.5 182.4h.01M164.3 190.0h.01M169.1 153.6h.01M170.0 186.2h.01M166.4 188.7h.01M165.8 187.2h.01M171.0 151.8h.01M165.6 175.0h.01M166.2 171.0h.01M166.8 164.4h.01M164.2 154.9h.01M167.5 159.5h.01M164.5 186.2h.01M167.8 189.9h.01M169.3 157.5h.01M173.1 158.2h.01M164.7 178.9h.01M170.6 159.8h.01M164.9 164.9h.01M164.9 185.9h.01M165.6 161.1h.01M167.9 168.7h.01M164.8 177.1h.01M171.5 163.7h.01M166.6 165.2h.01M170.3 182.8h.01M164.5 159.7h.01M169.4 174.1h.01M167.0 162.7h.01M167.4 180.6h.01M166.6 166.4h.01M169.6 163.8h.01M168.0 162.0h.01M166.9 159.4h.01M165.1 176.1h.01M166.1 162.1h.01M165.3 165.4h.01M168.9 154.0h.01M167.6 190.5h.01M167.8 176.2h.01M166.0 176.7h.01M168.9 167.5h.01M166.6 185.6h.01M170.6 186.3h.01M168.3 163.6h.01M167.9 184.3h.01M166.0 184.4h.01M168.2 182.9h.01M168.7 159.6h.01M168.2 185.1h.01M169.3 184.2h.01M165.8 149.2h.01M170.9 154.2h.01M165.9 150.1h.01M168.0 171.5h.01M165.7 188.9h.01M164.7 150.6h.01M165.1 186.4h.01M168.3 182.9h.01M165.6 154.6h.01M170.2 180.1h.01M167.9 149.5h.01M167.6 169.7h.01M168.8 173.7h.01M165.6 160.5h.01M167.4 162.1h.01M164.9 170.8h.01M168.8 155.0h.01M166.2 165.0h.01M165.6 161.3h.01M164.7 180.9h.01M167.5 163.4h.01M164.2 177.7h.01M167.6 176.5h.01M167.8 152.8h.01M164.5 176.7h.01M167.1 164.8h.01M170.9 159.0h.01M165.2 171.2h.01M165.6 173.4h.01M165.3 184.4h.01M164.3 184.2h.01M165.9 154.3h.01M167.3 182.1h.01M167.9 191.6h.01M167.7 187.5h.01M165.7 182.0h.01M165.7 162.9h.01M167.9 185.6h.01M168.4 163.6h.01M167.7 175.3h.01M168.2 150.6h.01M165.2 174.0h.01M171.8 183.3h.01M166.7 154.8h.01M167.8 180.3h.01M166.0 162.7h.01M169.2 164.5h.01M166.4 182.8h.01M169.5 182.9h.01M164.6 174.2h.01M164.9 149.5h.01M170.5 176.2h.01M169.9 173.6h.01M168.4 150.4h.01M166.9 168.5h.01M166.6 174.5h.01M166.0 169.8h.01M170.5 178.0h.01M167.1 191.9h.01M167.7 190.8h.01M164.7 173.4h.01M167.8 190.5h.01M169.4 165.0h.01M167.0 152.5h.01M169.5 159.4h.01M171.0 150.8h.01M169.0 162.8h.01M167.0 159.6h.01M167.2 155.6h.01M166.2 160.4h.01M164.8 150.8h.01M168.8 169.9h.01M167.7 162.2h.01M168.3 184.9h.01M166.3 185.2h.01M164.3 164.0h.01M166.5 191.3h.01M166.3 157.8h.01M169.0 189.5h.01M169.1 169.6h.01M169.0 179.0h.01M165.6 176.6h.01M163.8 182.9h.01M167.7 184.3h.01M165.6 155.1h.01M166.7 168.2h.01M164.2 161.3h.01M164.2 190.0h.01M165.8 165.8h.01M169.6 158.0h.01M165.5 170.9h.01M165.7 151.2h.01M165.0 155.9h.01M168.2 186.1h.01M167.6 168.2h.01M164.5 163.9h.01M165.2 190.9h.01M166.6 157.7h.01M167.6 170.4h.01M166.0 174.8h.01M168.4 186.8h.01M167.3 170.0h.01M165.2 158.8h.01M166.3 164.8h.01M170.2 182.2h.01M164.6 153.2h.01M165.2 161.8h.01M170.1 172.8h.01M166.8 171.1h.01M164.6 160.7h.01M167.7 155.2h.01M167.7 172.0h.01M167.1 149.8h.01M167.2 169.9h.01M168.6 176.3h.01M167.4 159.4h.01M170.4 171.5h.01M168.3 188.5h.01M165.9 148.4h.01M166.5 164.6h.01M170.4 167.0h.01M167.3 167.6h.01M167.2 171.0h.01M166.0 185.3h.01M166.1 169.8h.01M168.3 174.9h.01M165.0 189.1h.01M165.2 191.7h.01M167.0 162.1h.01M164.4 159.6h.01M168.3 172.5h.01M165.3 151.8h.01M172.4 158.1h.01M166.6 158.4h.01M164.7 155.4h.01M169.1 167.6h.01M165.0 158.6h.01M167.2 180.5h.01M171.0 176.2h.01M166.8 159.4h.01M166.2 167.8h.01M166.8 189.0h.01M168.8 161.3h.01M165.8 183.4h.01M168.5 159.0h.01M166.0 159.5h.01M168.9 177.7h.01M165.9 177.8h.01M169.5 149.1h.01M166.5 177.1h.01M168.2 178.3h.01M170.4 184.0h.01M165.8 188.4h.01M168.1 180.8h.01M166.8 163.5h.01M169.4 173.3h.01M166.5 152.1h.01M165.9 152.3h.01M164.9 186.2h.01M167.8 168.0h.01M167.0 173.2h.01M167.3 190.8h.01M164.4 149.3h.01M164.6 162.4h.01M168.9 176.1h.01M167.6 170.8h.01M169.6 183.9h.01M164.7 173.9h.01M165.2 186.9h.01M165.9 149.0h.01M169.2 149.3h.01M167.5 156.1h.01M165.6 154.8h.01M168.8 166.4h.01M167.7 169.7h.01M164.2 151.2h.01M166.9 179.9h.01M166.0 187.6h.01M166.5 157.8h.01M166.2 155.5h.01M164.6 184.5h.01M167.1 174.1h.01M169.0 188.7h.01M164.4 186.7h.01M164.2 189.8h.01M168.6 184.1h.01M167.6 151.9h.01M166.2 160.0h.01M166.2 182.2h.01M169.0 170.2h.01M164.4 162.0h.01M166.4 188.2h.01M165.5 157.7h.01M165.5 190.0h.01M184.7 139.3h.01M179.6 149.7h.01M169.1 153.1h.01M169.0 151.4h.01M180.6 148.8h.01M164.2 147.1h.01M165.7 145.9h.01M166.7 150.3h.01M181.8 147.2h.01M165.4 158.6h.01M166.0 147.5h.01M169.3 143.7h.01M168.8 143.9h.01M184.8 144.4h.01M178.5 144.4h.01M165.7 159.1h.01M185.4 148.8h.01M171.0 157.1h.01M171.4 145.1h.01M175.6 147.2h.01M172.9 146.2h.01M167.1 145.3h.01M178.9 145.4h.01M174.2 145.8h.01M182.2 143.7h.01M185.0 145.3h.01M172.8 157.3h.01M170.5 156.2h.01M164.4 148.5h.01M164.6 158.6h.01M170.4 158.4h.01M180.9 141.2h.01M170.7 158.0h.01M179.3 148.8h.01M171.8 150.6h.01M179.4 152.1h.01M175.8 153.5h.01M176.1 149.0h.01M183.3 144.2h.01M171.8 144.7h.01M166.2 147.9h.01M181.2 142.5h.01M180.1 149.5h.01M183.8 143.3h.01M177.6 142.7h.01M171.7 147.5h.01M183.7 142.7h.01M173.2 147.5h.01M175.9 156.3h.01M165.8 150.6h.01M180.2 142.5h.01M186.1 138.9h.01M168.3 153.9h.01M178.4 148.1h.01M179.2 149.6h.01M171.0 146.2h.01M179.9 142.6h.01M168.1 158.2h.01M170.1 155.1h.01M185.9 143.7h.01M175.1 145.5h.01M184.2 145.9h.01M168.0 158.7h.01M183.6 149.6h.01M175.0 144.5h.01M177.7 149.2h.01M181.7 140.2h.01M176.3 149.4h.01M165.0 145.6h.01M164.2 155.8h.01M183.3 145.1h.01M179.3 154.8h.01M168.8 158.7h.01M172.7 145.9h.01M185.6 146.2h.01M183.2 149.8h.01M176.6 152.6h.01M168.2 148.1h.01M176.5 147.0h.01M185.7 140.4h.01M167.9 147.0h.01M185.8 149.9h.01M169.2 158.1h.01M165.7 153.0h.01M169.4 143.7h.01M182.0 145.0h.01M184.7 149.0h.01M166.2 156.4h.01M164.2 147.6h.01M166.1 149.1h.01M171.8 153.8h.01M174.1 146.3h.01M174.8 151.8h.01M164.9 146.3h.01M169.6 145.3h.01M172.0 145.3h.01M172.2 155.3h.01M165.7 145.7h.01M170.8 145.5h.01M179.9 147.7h.01M167.4 155.0h.01M169.2 152.4h.01M183.5 146.8h.01M170.3 151.8h.01M172.0 151.3h.01M169.6 143.6h.01M177.6 141.3h.01M179.4 142.4h.01M170.1 159.5h.01M175.6 149.9h.01M171.3 151.2h.01M181.3 147.3h.01M179.6 150.2h.01M184.7 143.9h.01M179.9 148.0h.01M170.3 156.1h.01M171.1 143.9h.01M174.0 148.9h.01M172.9 147.4h.01M176.2 154.3h.01M183.0 144.9h.01M168.5 159.8h.01M178.0 149.0h.01M170.4 145.2h.01M175.2 148.4h.01M181.7 143.2h.01M171.8 157.4h.01M185.9 149.3h.01M170.6 149.6h.01M170.8 157.5h.01M166.6 148.1h.01M176.8 146.0h.01M164.2 152.6h.01M177.7 154.7h.01M165.0 151.8h.01M175.1 147.7h.01M179.3 141.8h.01M175.5 148.8h.01M171.8 145.8h.01M182.0 152.0h.01M164.2 150.3h.01M184.2 150.4h.01M179.4 151.5h.01M184.8 140.4h.01M168.3 145.5h.01M169.5 153.3h.01M179.8 144.8h.01M182.4 149.6h.01M175.1 147.4h.01M164.9 162.2h.01M170.4 147.1h.01M185.8 146.1h.01M166.1 159.8h.01M172.9 154.4h.01M168.9 157.3h.01M176.0 154.7h.01M180.3 152.5h.01M179.2 143.2h.01M168.1 149.2h.01M182.8 144.0h.01M180.4 141.2h.01M166.9 158.3h.01M177.0 155.6h.01M177.3 147.3h.01M184.7 145.1h.01M176.8 155.3h.01M175.5 147.7h.01M165.0 154.0h.01M164.9 157.1h.01M177.1 151.9h.01M178.1 152.1h.01M186.1 143.3h.01M185.4 145.5h.01M173.7 156.5h.01M182.1 146.9h.01M170.9 151.5h.01M174.7 148.4h.01M184.8 147.1h.01M172.3 143.3h.01M166.3 157.3h.01M175.0 142.2h.01M175.5 155.2h.01M182.7 149.2h.01M177.2 151.4h.01M186.2 144.6h.01M165.2 151.5h.01M179.5 144.2h.01M182.8 152.6h.01M170.1 147.3h.01M171.0 146.9h.01M184.8 145.0h.01M170.8 157.7h.01M179.5 147.0h.01M167.6 144.0h.01M177.8 144.3h.01M174.1 143.8h.01M178.2 154.5h.01M165.1 157.8h.01M184.9 145.9h.01M181.5 146.1h.01M179.8 148.6h.01M171.7 143.0h.01M178.5 148.6h.01M174.9 144.4h.01M179.8 146.4h.01M164.5 148.4h.01M180.5 144.4h.01M167.1 157.6h.01M168.7 155.9h.01M165.1 158.1h.01M171.8 155.4h.01M165.6 150.7h.01M164.8 162.1h.01M171.6 158.2h.01M182.2 152.8h.01M174.8 146.4h.01M186.2 141.9h.01M167.9 160.3h.01M164.9 156.1h.01M184.7 147.5h.01M170.9 196.3h.01M175.5 200.2h.01M177.1 187.6h.01M176.6 197.6h.01M174.9 192.7h.01M170.5 194.4h.01M173.9 192.4h.01M171.8 195.3h.01M170.9 193.8h.01M176.4 197.5h.01M168.9 190.9h.01M173.7 197.6h.01M171.1 196.4h.01M176.5 196.5h.01M174.5 193.2h.01M169.3 195.1h.01M172.7 200.7h.01M171.3 192.5h.01M169.1 187.2h.01M172.0 192.4h.01M168.4 196.9h.01M171.4 191.1h.01M172.7 193.2h.01M176.7 189.1h.01M168.5 192.0h.01M173.3 194.8h.01M172.4 195.7h.01M172.7 199.4h.01M167.6 195.1h.01M169.8 193.7h.01M171.2 191.4h.01M171.5 194.3h.01M170.9 198.6h.01M170.4 196.3h.01M172.5 194.2h.01M166.1 197.2h.01M172.4 192.1h.01M179.1 194.5h.01M170.9 193.0h.01M170.7 195.4h.01M170.9 194.5h.01M169.0 196.2h.01M174.7 197.2h.01M164.4 195.8h.01M172.3 198.1h.01M169.2 194.4h.01M173.1 194.2h.01M168.3 195.8h.01M176.6 197.8h.01M167.8 196.9h.01M172.4 187.6h.01M173.4 198.5h.01M169.6 197.7h.01M175.1 191.5h.01M171.1 194.5h.01M174.9 194.3h.01M175.0 196.8h.01M172.0 197.3h.01M182.1 195.5h.01M173.2 192.0h.01M175.3 191.7h.01M166.6 195.4h.01M172.2 195.7h.01M170.2 190.7h.01M168.4 197.7h.01M175.5 197.8h.01M171.0 191.7h.01M167.9 194.1h.01M173.8 194.8h.01M171.8 198.1h.01M170.7 193.4h.01M171.9 191.9h.01M171.7 194.2h.01M171.2 194.1h.01M176.8 195.6h.01M173.9 191.6h.01M175.5 200.7h.01M171.8 193.5h.01M174.6 191.5h.01M172.3 197.7h.01M176.1 196.0h.01M170.7 192.2h.01M169.6 196.4h.01M179.2 198.4h.01M177.1 200.6h.01M175.8 194.4h.01M177.9 192.7h.01M168.0 195.3h.01M169.7 191.3h.01M174.2 194.3h.01M169.0 192.4h.01M176.4 198.1h.01M174.9 191.3h.01M175.6 194.5h.01M173.6 194.1h.01M169.6 195.8h.01M173.0 198.4h.01M171.2 195.7h.01M173.5 192.0h.01M171.2 198.6h.01M173.8 191.1h.01M172.3 195.3h.01M172.7 194.9h.01M172.3 192.0h.01M172.3 197.5h.01M169.3 196.0h.01M174.1 195.9h.01M170.2 192.7h.01M170.7 194.0h.01M175.6 192.9h.01M171.4 190.7h.01M182.7 200.6h.01M180.7 197.2h.01M172.4 196.7h.01M178.8 200.8h.01M169.3 185.0h.01M175.3 196.3h.01M171.0 200.6h.01M168.4 195.3h.01M182.7 200.8h.01M172.5 196.7h.01M167.1 193.0h.01M167.0 197.4h.01M175.8 185.9h.01M185.4 192.9h.01M182.8 199.7h.01M176.9 192.0h.01M179.0 193.0h.01M168.0 185.0h.01M180.8 199.7h.01M179.7 193.5h.01M182.5 190.3h.01M170.2 197.6h.01M183.5 193.9h.01M175.6 194.8h.01M172.6 191.8h.01M165.5 194.4h.01M181.7 190.6h.01M179.4 196.7h.01M179.1 187.8h.01M173.8 194.6h.01M183.4 185.3h.01M166.3 188.1h.01M181.4 187.5h.01M175.8 189.8h.01M179.3 191.8h.01M170.0 193.5h.01M183.6 198.8h.01M175.8 196.5h.01M184.3 196.3h.01M177.6 197.3h.01M166.5 194.1h.01M169.8 193.0h.01M165.9 189.6h.01M175.4 198.0h.01M185.6 200.6h.01M177.7 198.0h.01M172.6 186.9h.01M170.8 195.8h.01M176.4 186.8h.01M168.8 196.0h.01M184.7 192.1h.01M175.4 199.3h.01M180.3 195.8h.01M175.9 198.1h.01M171.2 185.9h.01M181.8 195.9h.01M166.2 200.0h.01M174.2 192.3h.01M165.7 187.4h.01" stroke="#c2343a" stroke-opacity="0.47" stroke-width="0.9" stroke-linecap="round" fill="none"/>
<ellipse cx="167.2" cy="170" rx="2.12" ry="11.50" fill="#e0b8b8" opacity="0.34" transform="rotate(0 167.2 170)" filter="url(#fb2)"/>
<ellipse cx="167.2" cy="170" rx="1.7" ry="10" fill="#e2d2d2" opacity="0.75" transform="rotate(0 167.2 170)" filter="url(#fb)"/>
<rect x="34.3" y="230.0" width="33.5" height="75.30000000000001" fill="none" stroke="#e2e2e2" stroke-width="0.9"/>
<line x1="34.3" y1="281.3" x2="67.8" y2="281.3" stroke="#dadada" stroke-width="0.8"/>
<rect x="91.7" y="230.2" width="33.7" height="75.40000000000003" fill="none" stroke="#e2e2e2" stroke-width="0.9"/>
<line x1="91.7" y1="281.8" x2="125.4" y2="281.8" stroke="#dadada" stroke-width="0.8"/>
<rect x="152.0" y="230.6" width="35.0" height="79.00000000000003" fill="none" stroke="#e2e2e2" stroke-width="0.9"/>
<line x1="152.0" y1="289.4" x2="187.0" y2="289.4" stroke="#dadada" stroke-width="0.8"/>
<text x="27.9" y="233.79999999999998" font-size="6.4" stroke="#231f20" stroke-width="0.16" text-anchor="end">10</text>
<text x="28.199999999999996" y="230.9" font-size="4.4" stroke="#231f20" stroke-width="0.12">4</text>
<text x="27.9" y="252.1" font-size="6.4" stroke="#231f20" stroke-width="0.16" text-anchor="end">10</text>
<text x="28.199999999999996" y="249.20000000000002" font-size="4.4" stroke="#231f20" stroke-width="0.12">3</text>
<text x="27.9" y="270.4" font-size="6.4" stroke="#231f20" stroke-width="0.16" text-anchor="end">10</text>
<text x="28.199999999999996" y="267.5" font-size="4.4" stroke="#231f20" stroke-width="0.12">2</text>
<text x="27.9" y="288.7" font-size="6.4" stroke="#231f20" stroke-width="0.16" text-anchor="end">10</text>
<text x="28.199999999999996" y="285.8" font-size="4.4" stroke="#231f20" stroke-width="0.12">1</text>
<text x="27.9" y="307.0" font-size="6.4" stroke="#231f20" stroke-width="0.16" text-anchor="end">10</text>
<text x="28.199999999999996" y="304.1" font-size="4.4" stroke="#231f20" stroke-width="0.12">0</text>
<text x="85.3" y="234.54999999999998" font-size="6.4" stroke="#231f20" stroke-width="0.16" text-anchor="end">10</text>
<text x="85.60000000000001" y="231.65" font-size="4.4" stroke="#231f20" stroke-width="0.12">4</text>
<text x="85.3" y="252.95" font-size="6.4" stroke="#231f20" stroke-width="0.16" text-anchor="end">10</text>
<text x="85.60000000000001" y="250.05" font-size="4.4" stroke="#231f20" stroke-width="0.12">3</text>
<text x="85.3" y="271.34999999999997" font-size="6.4" stroke="#231f20" stroke-width="0.16" text-anchor="end">10</text>
<text x="85.60000000000001" y="268.45" font-size="4.4" stroke="#231f20" stroke-width="0.12">2</text>
<text x="85.3" y="289.75" font-size="6.4" stroke="#231f20" stroke-width="0.16" text-anchor="end">10</text>
<text x="85.60000000000001" y="286.85" font-size="4.4" stroke="#231f20" stroke-width="0.12">1</text>
<text x="85.3" y="308.15" font-size="6.4" stroke="#231f20" stroke-width="0.16" text-anchor="end">10</text>
<text x="85.60000000000001" y="305.25" font-size="4.4" stroke="#231f20" stroke-width="0.12">0</text>
<text x="145.6" y="234.89999999999998" font-size="6.4" stroke="#231f20" stroke-width="0.16" text-anchor="end">10</text>
<text x="145.9" y="232.0" font-size="4.4" stroke="#231f20" stroke-width="0.12">4</text>
<text x="145.6" y="254.125" font-size="6.4" stroke="#231f20" stroke-width="0.16" text-anchor="end">10</text>
<text x="145.9" y="251.22500000000002" font-size="4.4" stroke="#231f20" stroke-width="0.12">3</text>
<text x="145.6" y="273.34999999999997" font-size="6.4" stroke="#231f20" stroke-width="0.16" text-anchor="end">10</text>
<text x="145.9" y="270.45" font-size="4.4" stroke="#231f20" stroke-width="0.12">2</text>
<text x="145.6" y="292.575" font-size="6.4" stroke="#231f20" stroke-width="0.16" text-anchor="end">10</text>
<text x="145.9" y="289.675" font-size="4.4" stroke="#231f20" stroke-width="0.12">1</text>
<text x="145.6" y="311.8" font-size="6.4" stroke="#231f20" stroke-width="0.16" text-anchor="end">10</text>
<text x="145.9" y="308.90000000000003" font-size="4.4" stroke="#231f20" stroke-width="0.12">0</text>
<text x="35.0" y="316.3" font-size="7.0" stroke="#231f20" stroke-width="0.16" text-anchor="middle">0</text>
<text x="66.0" y="316.3" font-size="7.0" stroke="#231f20" stroke-width="0.16" text-anchor="middle">1000</text>
<text x="92.8" y="314.2" font-size="7.0" stroke="#231f20" stroke-width="0.16" text-anchor="middle">0</text>
<text x="123.8" y="314.2" font-size="7.0" stroke="#231f20" stroke-width="0.16" text-anchor="middle">1000</text>
<text x="152.9" y="319.1" font-size="7.0" stroke="#231f20" stroke-width="0.16" text-anchor="middle">0</text>
<text x="184.3" y="319.1" font-size="7.0" stroke="#231f20" stroke-width="0.16" text-anchor="middle">1000</text>
<text x="109.3" y="241.5" font-size="6.0" stroke="#231f20" stroke-width="0.27" text-anchor="middle" font-weight="bold">95%</text>
<text x="172.9" y="241.6" font-size="6.0" stroke="#231f20" stroke-width="0.27" text-anchor="middle" font-weight="bold">93%</text>
<path d="M47.6 294.1h.01M53.1 302.7h.01M53.9 290.0h.01M52.6 295.9h.01M48.1 302.6h.01M50.4 293.4h.01M51.2 297.1h.01M46.8 293.7h.01M47.0 302.2h.01M49.6 295.3h.01M45.8 298.1h.01M47.6 299.8h.01M50.2 298.1h.01M48.3 304.1h.01M57.7 294.9h.01M53.3 303.2h.01M46.5 297.8h.01M45.2 291.1h.01M46.3 294.5h.01M49.6 292.2h.01M47.5 288.9h.01M49.3 296.4h.01M50.0 301.4h.01M52.7 297.0h.01M51.5 296.1h.01M56.1 295.7h.01M52.9 293.0h.01M45.7 290.1h.01M51.8 296.3h.01M50.7 298.3h.01M50.6 295.0h.01M54.4 294.8h.01M47.7 296.0h.01M48.8 298.0h.01M49.2 300.6h.01M49.6 292.7h.01M50.5 300.5h.01M51.8 290.0h.01M48.7 295.6h.01M47.2 298.1h.01M52.3 296.3h.01M46.4 295.7h.01M54.8 295.8h.01M50.3 301.2h.01M50.2 297.4h.01M49.7 292.7h.01M49.2 294.7h.01M49.3 289.1h.01M48.7 299.7h.01M50.4 289.8h.01M48.0 299.7h.01M48.8 298.1h.01M50.9 301.5h.01M51.6 288.6h.01M46.8 298.4h.01M51.4 291.6h.01M46.1 300.8h.01M49.9 303.0h.01M48.7 292.2h.01M52.7 288.1h.01M44.7 291.3h.01M48.1 294.4h.01M46.6 291.9h.01M44.8 303.5h.01M52.0 297.2h.01M50.7 295.0h.01M50.6 297.2h.01M47.2 300.2h.01M53.6 292.3h.01M51.5 296.9h.01M51.6 294.1h.01M51.0 288.5h.01M48.8 297.1h.01M50.1 299.4h.01M51.2 294.7h.01M54.8 293.7h.01M48.9 302.3h.01M53.5 297.8h.01M47.3 300.5h.01M45.6 290.6h.01M47.9 298.2h.01M48.7 296.8h.01M48.0 304.3h.01M47.5 289.6h.01M45.9 302.9h.01M52.0 295.8h.01M53.5 301.6h.01M50.1 296.7h.01M53.2 296.3h.01M52.6 295.0h.01M49.3 296.0h.01M50.7 290.7h.01M50.9 296.6h.01M52.2 286.1h.01M48.8 293.9h.01M49.2 302.1h.01M45.5 296.5h.01M51.0 295.5h.01M48.1 295.1h.01M49.6 289.7h.01M51.2 294.8h.01M49.6 287.2h.01M45.3 296.4h.01M44.9 298.0h.01M49.1 297.5h.01M50.6 294.0h.01M54.4 287.2h.01M49.7 300.2h.01M47.8 294.3h.01M56.6 297.0h.01M52.9 293.7h.01M47.7 301.2h.01M45.4 299.9h.01M50.4 297.6h.01M50.7 297.8h.01M52.0 286.4h.01M49.7 288.2h.01M45.6 299.8h.01M44.9 299.9h.01M49.4 298.3h.01M50.9 294.1h.01M46.8 291.7h.01M49.6 293.0h.01M49.4 303.1h.01M45.5 300.9h.01M46.5 294.7h.01M52.6 289.9h.01M47.1 301.7h.01M49.9 295.2h.01M44.7 302.7h.01M48.2 296.9h.01M46.2 298.8h.01M45.3 300.0h.01M50.7 299.8h.01M50.7 302.2h.01M46.5 298.8h.01M54.9 294.5h.01M51.8 299.3h.01M46.5 296.7h.01M50.7 296.4h.01M47.4 298.3h.01M46.8 302.0h.01M52.3 297.9h.01M51.1 289.8h.01M48.1 295.2h.01M50.9 298.8h.01M49.1 297.9h.01M48.5 301.6h.01M51.8 289.2h.01M46.4 304.0h.01M53.4 301.8h.01M50.5 300.4h.01M50.2 293.4h.01M45.2 302.5h.01M48.0 292.6h.01M45.0 290.1h.01M49.4 295.6h.01M47.5 297.6h.01M49.8 298.5h.01M54.0 300.8h.01M51.9 293.2h.01M57.6 285.5h.01M47.8 283.0h.01M47.8 296.2h.01M46.6 291.4h.01M47.9 292.0h.01M51.5 301.8h.01M53.9 284.6h.01M53.7 297.1h.01M50.9 298.9h.01M50.2 293.9h.01M51.9 296.4h.01M46.3 299.0h.01M52.0 297.5h.01M47.4 297.0h.01M53.6 289.7h.01M47.1 298.1h.01M45.5 298.4h.01M49.6 295.6h.01M50.6 295.1h.01M55.5 294.4h.01M51.8 288.8h.01M46.1 304.8h.01M50.6 301.9h.01M45.3 300.4h.01M51.1 303.7h.01M45.0 302.5h.01M53.7 304.0h.01M44.7 298.3h.01M53.0 285.8h.01M45.6 295.2h.01M46.4 291.0h.01M46.0 299.6h.01M44.8 300.3h.01M51.4 281.4h.01M51.4 294.6h.01M48.9 297.8h.01M50.5 303.0h.01M51.8 290.8h.01M54.0 294.6h.01M55.2 292.5h.01M45.9 298.9h.01M48.8 304.1h.01M48.6 301.3h.01M48.4 301.5h.01M48.2 293.1h.01M49.9 298.9h.01M48.4 285.9h.01M49.3 297.7h.01M47.2 304.2h.01M45.8 295.5h.01M47.9 299.7h.01M52.0 302.8h.01M55.0 288.4h.01M52.7 298.7h.01M44.6 300.7h.01M51.8 296.9h.01M49.2 294.0h.01M50.3 293.3h.01M52.8 300.5h.01M49.3 293.3h.01M46.3 297.1h.01M47.1 296.7h.01M50.7 294.0h.01M47.9 299.8h.01M50.1 302.4h.01M50.2 293.0h.01M51.9 286.3h.01M49.6 291.9h.01M50.9 292.7h.01M55.7 296.5h.01M52.0 295.8h.01M54.8 296.7h.01M48.3 294.4h.01M51.7 301.5h.01M45.9 293.7h.01M45.3 300.5h.01M46.5 292.6h.01M48.6 292.5h.01M50.7 287.0h.01M54.2 295.3h.01M50.6 294.1h.01M50.3 296.5h.01M47.3 294.9h.01M47.4 290.2h.01M48.9 304.4h.01M48.0 297.9h.01M50.1 302.2h.01M51.8 299.6h.01M48.4 296.5h.01M53.3 288.0h.01M46.2 302.2h.01M55.1 293.4h.01M54.1 288.1h.01M49.2 285.0h.01M44.6 297.3h.01M46.1 292.2h.01M46.5 299.7h.01M51.7 297.9h.01M48.1 300.2h.01M46.2 302.6h.01M48.2 296.5h.01M50.3 303.3h.01M51.1 297.5h.01M48.8 298.0h.01M51.1 301.1h.01M47.0 299.2h.01M46.9 293.2h.01M52.8 293.3h.01M50.7 290.4h.01M47.6 293.9h.01M51.3 286.3h.01M47.9 297.5h.01M48.8 301.2h.01M50.4 292.5h.01M55.1 286.5h.01M57.5 289.2h.01M46.3 296.6h.01M51.3 297.2h.01M49.2 295.8h.01M46.7 294.8h.01M44.7 297.7h.01M47.4 290.4h.01M49.1 304.2h.01M51.4 289.3h.01M51.5 297.4h.01M50.0 293.2h.01M51.3 301.9h.01M47.0 298.2h.01M45.8 287.5h.01M49.3 297.0h.01M47.8 297.5h.01M49.3 292.7h.01M50.3 286.9h.01M48.4 295.4h.01M52.4 298.2h.01M47.1 289.3h.01M46.8 298.6h.01M51.3 288.5h.01M50.8 295.4h.01M50.2 298.0h.01M46.0 303.0h.01M51.9 295.4h.01M50.3 301.0h.01M51.3 285.2h.01M54.0 295.1h.01M57.4 288.0h.01M54.2 294.9h.01M54.1 288.0h.01M52.3 297.7h.01M50.6 293.0h.01M53.9 295.7h.01M51.5 297.0h.01M48.6 298.7h.01M49.2 290.7h.01M46.9 295.9h.01M45.7 303.5h.01M51.0 289.6h.01M49.7 288.3h.01M47.4 291.7h.01M48.0 298.9h.01M52.2 294.4h.01M52.8 290.9h.01M48.6 293.6h.01M53.9 291.2h.01M50.9 294.3h.01M44.8 300.4h.01M49.7 299.1h.01M47.8 294.0h.01M46.3 296.9h.01M49.6 293.6h.01M47.7 295.6h.01M49.2 282.9h.01M55.4 291.3h.01M50.9 294.5h.01M50.1 285.9h.01M50.3 291.4h.01M44.7 299.2h.01M53.3 288.2h.01M48.7 287.7h.01M53.9 289.2h.01M45.1 300.3h.01M48.1 295.5h.01M49.0 298.7h.01M44.8 297.5h.01M50.8 287.5h.01M50.1 299.4h.01M50.6 304.3h.01M44.7 297.3h.01M53.2 294.2h.01M54.9 288.5h.01M47.1 295.4h.01M48.5 294.9h.01M51.1 294.8h.01M53.8 298.7h.01M48.3 296.9h.01M47.8 303.1h.01M51.0 298.3h.01M47.3 298.8h.01M44.9 301.1h.01M46.5 288.8h.01M50.1 295.2h.01M51.3 291.4h.01M44.9 301.5h.01M50.3 297.6h.01M52.9 294.9h.01M47.5 295.8h.01M50.1 295.3h.01M49.9 293.2h.01M52.2 292.7h.01M44.7 301.0h.01M49.3 301.4h.01M51.0 285.9h.01M54.9 295.5h.01M52.5 296.5h.01M53.4 290.8h.01M51.0 295.4h.01M48.6 295.9h.01M48.1 304.7h.01M45.8 300.1h.01M47.2 297.8h.01M48.7 300.1h.01M49.9 297.8h.01M46.6 299.5h.01M45.4 302.5h.01M53.1 298.7h.01M47.2 294.2h.01M50.0 301.5h.01M53.2 296.0h.01M52.0 298.8h.01M47.6 295.6h.01M53.1 294.7h.01M51.2 303.9h.01M45.7 291.4h.01M46.8 293.9h.01M47.0 295.4h.01M44.7 304.2h.01M46.7 296.0h.01M46.9 291.4h.01M47.3 295.3h.01M49.4 291.5h.01M48.3 298.5h.01M45.5 304.9h.01M48.5 295.9h.01M49.9 299.7h.01M53.6 298.5h.01M54.1 288.5h.01M52.8 295.4h.01M48.4 297.9h.01M48.2 300.4h.01M53.3 291.3h.01M46.1 301.6h.01M49.5 288.9h.01M48.6 291.6h.01M47.6 299.2h.01M49.5 299.1h.01M52.7 296.1h.01M51.2 286.5h.01M45.7 304.2h.01M46.5 294.1h.01M47.3 302.2h.01M49.5 296.9h.01M51.0 294.3h.01M50.2 289.0h.01M49.7 290.3h.01M49.7 297.1h.01M46.2 295.8h.01M52.8 278.6h.01M49.5 295.5h.01M50.6 294.3h.01M51.6 286.2h.01M46.0 304.5h.01M48.5 294.9h.01M47.0 292.4h.01M47.0 292.3h.01M50.7 296.8h.01M49.2 296.4h.01M46.1 291.3h.01M53.2 297.9h.01M46.1 293.7h.01M50.9 295.9h.01M56.0 291.4h.01M51.5 299.2h.01M47.1 300.0h.01M51.4 298.4h.01M49.7 295.2h.01M49.7 296.9h.01M46.6 300.1h.01M49.2 297.3h.01M45.9 301.2h.01M54.7 292.1h.01M49.2 299.3h.01M51.3 292.7h.01M53.8 289.6h.01M52.2 296.8h.01M44.8 293.0h.01M47.5 293.3h.01M46.4 300.8h.01M49.2 290.2h.01M45.8 295.5h.01M46.1 300.5h.01M50.9 292.9h.01M48.7 295.8h.01M53.3 300.8h.01M51.1 295.1h.01M48.2 300.3h.01M49.3 290.7h.01M47.7 299.6h.01M48.8 287.8h.01M49.7 296.0h.01M49.6 286.6h.01M53.3 295.8h.01M52.1 293.7h.01M49.7 293.8h.01M47.3 298.4h.01M52.2 296.1h.01M50.3 294.3h.01M48.1 298.8h.01M47.4 296.9h.01M51.3 296.4h.01M46.0 293.6h.01M55.5 288.8h.01M44.6 300.7h.01M51.6 297.7h.01M46.6 297.4h.01M54.0 300.0h.01M50.9 296.5h.01M46.4 293.8h.01M55.7 297.2h.01M46.1 301.1h.01M47.2 297.0h.01M47.5 300.4h.01M46.6 301.2h.01M52.7 286.1h.01M50.9 296.9h.01M51.6 283.8h.01M54.8 297.9h.01M45.8 295.2h.01M54.9 302.4h.01M53.4 291.0h.01M48.3 301.8h.01M47.1 287.9h.01M46.1 296.2h.01M53.2 297.8h.01M48.4 291.2h.01M48.3 295.7h.01M50.5 297.0h.01M45.1 300.8h.01M51.7 292.7h.01M54.2 299.1h.01M48.0 302.9h.01M48.5 295.2h.01M56.1 293.8h.01M51.5 290.1h.01M51.0 290.4h.01M49.2 300.0h.01M50.6 293.8h.01M51.8 298.4h.01M46.9 298.9h.01M48.5 304.1h.01M51.1 288.9h.01M45.3 297.3h.01M46.3 304.9h.01M48.9 297.5h.01M53.2 286.3h.01M47.0 302.3h.01M49.8 301.1h.01M45.1 299.2h.01M50.3 296.9h.01M49.3 289.3h.01M47.6 301.1h.01M48.6 298.1h.01M50.9 293.4h.01M46.3 289.7h.01M49.9 301.8h.01M50.8 290.7h.01M48.0 297.1h.01M50.5 298.9h.01M49.5 291.1h.01M51.9 299.7h.01M49.8 292.3h.01M47.7 303.1h.01M47.7 296.5h.01M50.5 291.1h.01M47.3 299.4h.01M49.1 290.4h.01M45.8 297.3h.01M45.3 292.2h.01M48.5 298.5h.01M48.5 298.5h.01M47.6 294.4h.01M45.0 303.9h.01M46.7 300.4h.01M45.6 304.2h.01M47.7 304.6h.01M52.1 284.0h.01M58.4 288.1h.01M45.3 293.4h.01M51.0 294.4h.01M48.9 295.4h.01M47.0 294.1h.01M50.3 293.0h.01M52.1 291.9h.01M51.9 303.1h.01M51.1 294.6h.01M51.9 295.0h.01M45.0 297.3h.01M47.3 296.7h.01M52.6 292.7h.01M59.7 299.6h.01M49.0 296.0h.01M53.6 297.1h.01M56.7 286.3h.01M45.7 297.2h.01M49.5 295.2h.01M55.6 295.1h.01M44.8 290.0h.01M48.6 295.0h.01M50.0 296.5h.01M50.7 292.0h.01M47.4 303.6h.01M50.8 292.3h.01M45.8 291.0h.01M47.1 295.8h.01M49.3 304.4h.01M56.6 295.4h.01M46.4 304.1h.01M44.7 294.1h.01M54.9 291.6h.01M46.5 296.2h.01M49.3 299.1h.01M52.5 298.4h.01M48.6 290.6h.01M47.6 300.1h.01M46.9 291.2h.01M47.9 302.6h.01M49.9 292.3h.01M51.7 300.2h.01M50.7 295.4h.01M53.3 289.6h.01M50.2 292.4h.01M46.4 299.1h.01M45.0 301.4h.01M54.7 296.5h.01M49.2 296.2h.01M47.3 298.6h.01M48.3 288.3h.01M48.9 288.8h.01M50.3 298.6h.01M48.7 293.2h.01M51.3 286.4h.01M50.5 298.5h.01M58.4 295.5h.01M44.8 298.4h.01M49.9 303.6h.01M45.0 299.9h.01M47.7 296.2h.01M48.8 303.1h.01M53.1 295.4h.01M50.5 296.3h.01M52.6 293.0h.01M49.7 303.9h.01M49.8 291.0h.01M46.3 300.4h.01M52.0 297.8h.01M49.5 295.7h.01M51.4 291.5h.01M46.8 304.6h.01M55.2 294.2h.01M50.2 295.6h.01M49.7 290.8h.01M49.9 299.0h.01M48.4 303.1h.01M56.0 291.7h.01M46.0 290.3h.01M47.8 292.0h.01M50.7 294.2h.01M47.2 302.4h.01M47.4 298.2h.01M54.0 301.6h.01M45.4 304.7h.01M45.9 291.2h.01M46.0 304.2h.01M52.6 286.6h.01M49.0 290.9h.01M45.8 303.4h.01M48.8 296.9h.01M54.6 299.1h.01M47.5 293.2h.01M48.9 297.8h.01M45.5 300.6h.01M52.9 294.2h.01M47.7 303.4h.01M48.7 289.5h.01M50.5 300.4h.01M52.4 303.1h.01M52.8 294.9h.01M47.7 294.1h.01M47.1 297.6h.01M55.4 295.4h.01M52.5 293.1h.01M47.6 300.2h.01M51.7 294.3h.01M49.6 299.7h.01M48.0 296.0h.01M49.7 301.3h.01M46.1 290.4h.01M50.6 295.2h.01M46.5 301.2h.01M54.0 291.0h.01M50.1 301.7h.01M48.8 300.4h.01M50.6 292.3h.01M48.5 293.5h.01M49.1 294.9h.01M45.4 298.4h.01M58.1 290.4h.01M46.7 294.3h.01M51.4 295.3h.01M48.9 291.5h.01M47.6 301.1h.01M50.0 299.5h.01M47.9 295.3h.01M46.7 299.6h.01M46.1 297.1h.01M51.9 302.0h.01M53.5 290.4h.01M47.9 289.2h.01M46.4 291.9h.01M51.7 300.7h.01M48.3 298.0h.01M50.8 297.0h.01M48.3 298.0h.01M44.7 298.2h.01M50.0 300.7h.01M53.2 301.8h.01M50.4 299.0h.01M57.4 294.4h.01M49.4 293.2h.01M49.7 289.0h.01M65.2 286.6h.01M55.3 292.4h.01M62.2 293.5h.01M49.0 302.8h.01M49.1 289.8h.01M63.2 289.1h.01M57.7 294.5h.01M53.3 300.0h.01M51.9 296.9h.01M56.0 290.8h.01M45.2 298.1h.01M65.6 287.2h.01M57.1 297.4h.01M51.7 296.4h.01M66.2 290.3h.01M59.0 286.3h.01M49.0 303.1h.01M60.8 292.8h.01M57.2 285.8h.01M47.9 297.1h.01M53.1 292.3h.01M60.7 289.5h.01M48.4 294.9h.01M63.5 286.9h.01M54.9 294.4h.01M59.6 291.4h.01M63.0 294.4h.01M57.3 288.0h.01M52.6 295.2h.01M60.2 291.4h.01M46.5 297.9h.01M66.6 290.7h.01M58.2 290.4h.01M65.1 284.6h.01M57.4 294.7h.01M56.2 304.8h.01M55.7 285.5h.01M60.7 288.4h.01M67.3 289.0h.01M46.6 294.4h.01M48.4 296.3h.01M51.0 299.9h.01M61.2 295.1h.01M60.7 288.7h.01M52.1 292.5h.01M50.8 301.0h.01M60.5 290.5h.01M64.2 286.4h.01M62.6 289.6h.01M56.1 290.1h.01M61.6 296.6h.01M51.4 296.8h.01M62.3 287.3h.01M57.8 290.9h.01M54.5 291.5h.01M65.2 292.0h.01M67.0 293.2h.01M45.3 298.2h.01M67.2 295.6h.01M54.9 296.0h.01M53.9 290.8h.01M65.3 293.5h.01M63.6 286.0h.01M56.7 292.0h.01M56.8 292.7h.01M52.3 296.7h.01M59.0 293.5h.01M46.9 298.3h.01M58.9 287.3h.01M54.7 299.5h.01M57.3 286.8h.01M52.8 299.5h.01M50.9 294.3h.01M51.5 294.3h.01M65.2 292.4h.01M49.9 295.9h.01M49.2 298.2h.01M54.5 292.7h.01M64.4 291.4h.01M47.0 300.9h.01M46.5 300.2h.01M53.0 295.8h.01M55.8 300.7h.01M56.9 293.8h.01M49.7 298.5h.01M50.8 295.7h.01M61.3 290.4h.01M52.7 291.7h.01M45.8 296.0h.01M49.2 298.0h.01M61.3 291.4h.01M53.9 298.4h.01M55.0 288.6h.01M54.2 294.5h.01M54.8 294.6h.01M65.1 289.3h.01M52.5 296.9h.01M60.9 285.1h.01M61.8 293.2h.01M59.5 290.1h.01M53.4 305.1h.01M54.8 294.9h.01M58.4 293.1h.01M61.6 296.3h.01M50.5 304.8h.01M48.2 302.3h.01M55.0 294.3h.01M51.0 294.3h.01M61.6 289.6h.01M57.9 294.3h.01M52.0 295.8h.01M53.3 303.5h.01M62.4 289.7h.01M63.4 299.4h.01M50.5 299.5h.01M49.8 296.0h.01M64.4 290.5h.01M65.1 288.7h.01M55.8 293.9h.01M65.0 289.1h.01M48.7 299.5h.01M49.5 294.3h.01M67.1 291.5h.01M46.5 294.1h.01M58.9 295.7h.01M66.7 291.8h.01M59.0 294.5h.01M55.8 291.7h.01M52.5 292.5h.01M50.6 293.1h.01M56.2 294.3h.01M50.9 294.3h.01M61.7 293.1h.01M59.5 290.9h.01M51.1 298.7h.01M49.4 298.2h.01M55.0 294.3h.01M63.8 292.1h.01M45.2 292.7h.01M52.6 293.3h.01M50.5 294.8h.01M51.8 291.6h.01M63.8 296.4h.01M52.0 293.1h.01M58.9 291.7h.01M62.2 288.5h.01M61.0 293.8h.01M46.2 298.7h.01M57.4 295.9h.01M54.7 295.4h.01M60.9 294.0h.01M61.0 298.9h.01M48.7 302.1h.01M53.3 297.7h.01M50.7 301.9h.01M49.7 302.3h.01M47.9 300.3h.01M56.5 289.9h.01M56.0 290.5h.01M51.2 301.7h.01M46.2 299.0h.01M61.9 294.1h.01M56.1 295.4h.01M60.9 286.3h.01M50.2 293.3h.01M62.0 285.9h.01M53.5 300.6h.01M55.1 300.6h.01M62.1 294.8h.01M58.5 290.0h.01M63.5 293.3h.01M60.8 294.7h.01M64.6 290.4h.01M62.2 294.4h.01M48.0 298.3h.01M55.0 290.7h.01M66.3 290.2h.01M60.8 288.7h.01M62.1 295.2h.01M49.9 291.2h.01M49.0 297.3h.01M51.5 293.2h.01M57.2 297.7h.01M45.9 299.6h.01M62.8 300.7h.01M53.5 296.5h.01M46.9 300.5h.01M56.4 289.1h.01M53.2 296.7h.01M64.7 288.7h.01M49.3 296.2h.01M54.9 295.9h.01M47.3 297.2h.01M47.8 292.5h.01M52.4 299.6h.01M57.6 288.7h.01M57.1 296.3h.01M49.4 295.5h.01M56.0 295.9h.01M45.8 295.3h.01M65.5 285.9h.01M45.4 295.4h.01M60.7 291.3h.01M48.0 303.3h.01M58.1 293.8h.01M56.7 293.2h.01M49.8 296.5h.01M51.8 292.4h.01M60.1 287.3h.01M60.4 286.4h.01M50.0 293.1h.01M63.2 296.0h.01M59.3 290.9h.01M49.7 302.5h.01M54.2 294.2h.01M50.5 296.2h.01M61.1 292.3h.01M62.7 295.6h.01M63.6 289.8h.01M63.2 289.5h.01M59.7 290.6h.01M50.4 296.2h.01M59.2 295.7h.01M63.7 293.1h.01M67.3 292.7h.01M53.9 297.6h.01M51.6 301.7h.01M51.1 300.8h.01M63.2 290.1h.01M59.1 297.3h.01M52.5 296.3h.01M50.7 300.8h.01M53.2 299.8h.01M49.9 297.8h.01M48.9 294.8h.01M47.1 298.3h.01M55.1 299.1h.01M61.9 290.6h.01M46.1 300.0h.01M53.6 298.1h.01M50.3 291.2h.01M63.9 284.4h.01M60.4 290.8h.01M64.0 289.3h.01M48.4 296.5h.01M50.1 290.0h.01M58.6 301.6h.01M51.5 297.5h.01M59.7 294.9h.01M46.3 299.5h.01M51.1 304.3h.01M62.2 286.0h.01M59.3 296.6h.01M47.6 301.7h.01M48.0 298.0h.01M55.6 298.1h.01M61.7 289.0h.01M52.6 295.7h.01M51.2 298.3h.01M63.1 283.4h.01M49.0 301.6h.01M58.8 290.2h.01M62.4 289.7h.01M57.1 290.9h.01M53.0 298.8h.01M57.8 296.9h.01M55.5 290.4h.01M49.4 300.5h.01M58.2 293.9h.01M54.6 296.0h.01M65.1 286.6h.01M46.3 297.7h.01M62.3 286.9h.01M48.3 300.2h.01M54.7 289.0h.01M60.8 289.0h.01M50.9 292.9h.01M63.7 289.8h.01M48.1 303.6h.01M50.7 299.3h.01M52.6 304.5h.01M63.4 291.9h.01M60.4 296.4h.01M62.2 291.8h.01M52.2 295.4h.01M59.7 295.0h.01M63.8 284.7h.01M56.2 295.3h.01M65.3 285.5h.01M49.7 299.9h.01M57.4 292.0h.01M64.8 289.1h.01M59.0 283.9h.01M63.9 295.8h.01M62.2 289.7h.01M53.1 292.4h.01M46.3 296.4h.01M50.7 298.2h.01M59.0 288.6h.01M64.9 285.8h.01M52.1 300.7h.01M50.0 294.2h.01M66.4 287.9h.01M47.1 299.1h.01M58.7 293.9h.01M47.1 299.2h.01M58.9 287.6h.01M45.0 295.7h.01M56.2 291.8h.01M65.8 290.1h.01M63.0 286.3h.01M60.3 286.0h.01M58.1 294.3h.01M64.5 289.1h.01M54.2 294.2h.01M66.7 292.6h.01M59.3 291.8h.01M50.8 291.6h.01M61.8 289.2h.01M49.1 297.1h.01M47.4 297.2h.01M58.4 293.8h.01M48.7 299.2h.01M59.7 284.6h.01M51.3 295.7h.01M52.6 292.9h.01M49.5 299.1h.01M48.5 294.7h.01M52.4 297.5h.01M65.8 293.1h.01M66.0 286.4h.01M62.8 290.2h.01M64.9 293.8h.01M60.1 295.3h.01M60.6 298.0h.01M59.2 297.6h.01M57.0 294.3h.01M59.7 295.2h.01M49.8 294.6h.01M64.1 284.2h.01M58.5 286.5h.01M53.8 295.8h.01M65.0 286.9h.01M66.0 290.6h.01M60.6 293.5h.01M53.4 298.5h.01M59.4 294.2h.01M45.7 292.9h.01M49.9 298.5h.01M49.9 293.8h.01M66.9 288.2h.01M53.2 294.5h.01M50.2 296.5h.01M64.6 289.4h.01M62.0 291.3h.01M65.6 287.4h.01M57.7 296.2h.01M54.8 290.8h.01M64.9 293.0h.01M64.4 292.0h.01M48.9 301.7h.01M47.7 298.4h.01M55.4 297.8h.01M47.2 300.7h.01M50.9 292.7h.01M66.3 291.7h.01M58.3 294.1h.01M48.5 296.1h.01M63.8 291.0h.01M60.5 287.8h.01M47.9 300.7h.01M54.3 292.8h.01M49.9 302.6h.01M45.0 294.9h.01M59.1 293.3h.01M59.4 296.4h.01M65.3 287.1h.01M55.4 295.1h.01M61.6 299.8h.01M62.4 291.0h.01M58.0 292.4h.01M55.4 298.3h.01M66.3 290.0h.01M66.9 294.8h.01M54.3 302.7h.01M58.8 290.5h.01M64.0 287.7h.01M54.0 295.8h.01M55.3 299.2h.01M59.1 290.9h.01M46.2 294.6h.01M49.9 303.0h.01M46.7 297.8h.01M58.2 295.6h.01M66.2 289.4h.01M53.6 289.9h.01M52.8 288.9h.01M62.2 289.5h.01M54.3 298.2h.01M56.1 296.0h.01M67.0 288.5h.01M58.3 294.1h.01M46.6 297.0h.01M60.6 290.1h.01M54.4 294.6h.01M55.4 300.5h.01M54.2 295.9h.01M62.3 288.9h.01M56.2 296.2h.01M49.5 296.3h.01M49.9 298.1h.01M58.6 295.2h.01M64.0 292.3h.01M66.8 291.6h.01M59.7 297.6h.01M44.7 297.4h.01M53.6 298.1h.01M62.4 287.8h.01M58.9 295.2h.01M49.0 299.0h.01M56.2 295.9h.01M66.7 296.2h.01M59.8 292.4h.01M53.6 293.8h.01M55.3 297.2h.01M58.0 296.0h.01M63.2 289.9h.01M62.3 285.3h.01M56.5 287.9h.01M65.6 291.7h.01M62.6 293.1h.01M66.1 290.0h.01M58.2 298.1h.01M49.6 293.4h.01M47.9 298.9h.01M58.6 287.8h.01M49.8 295.2h.01M57.0 290.7h.01M50.6 296.9h.01M48.1 298.0h.01M49.6 301.4h.01M61.7 298.9h.01M59.7 290.9h.01M59.8 293.0h.01M52.9 296.5h.01M65.4 290.2h.01M60.8 289.8h.01M67.4 289.7h.01M64.6 285.6h.01M62.8 289.3h.01M55.5 288.9h.01M54.7 302.4h.01M66.3 287.4h.01M65.0 286.7h.01M52.7 302.6h.01M49.7 297.8h.01M54.3 298.5h.01M63.5 289.5h.01M63.0 289.8h.01M49.7 298.5h.01M64.9 286.4h.01M58.5 290.6h.01M63.0 288.2h.01M48.6 300.8h.01M52.7 291.8h.01M56.4 298.5h.01M56.3 294.8h.01M54.5 296.7h.01M57.5 298.2h.01M50.7 297.7h.01M47.5 301.5h.01M62.1 293.2h.01M56.2 299.4h.01M48.7 299.7h.01M55.4 300.6h.01M61.2 299.3h.01M57.6 298.1h.01M63.6 291.6h.01M54.7 303.9h.01M62.2 295.0h.01M46.9 296.3h.01M64.8 290.5h.01M56.6 288.3h.01M46.7 298.5h.01M52.3 299.6h.01M63.7 291.9h.01M50.6 299.5h.01M50.0 298.5h.01M46.6 298.9h.01M61.8 290.0h.01M50.7 300.3h.01M60.0 295.0h.01M60.5 294.3h.01M45.2 298.6h.01M47.1 300.1h.01M63.7 292.3h.01M66.2 288.8h.01M44.6 295.3h.01M58.9 294.9h.01M63.3 283.0h.01M53.0 299.5h.01M55.8 298.4h.01M58.6 292.7h.01M66.4 294.4h.01M55.1 298.2h.01M50.2 296.2h.01M52.4 299.1h.01M52.3 292.3h.01M49.8 297.5h.01M57.6 296.2h.01M45.0 295.6h.01M61.2 290.1h.01M57.5 293.6h.01M62.5 288.3h.01M49.2 295.2h.01M50.1 302.0h.01M64.1 291.9h.01M50.5 291.8h.01M50.3 298.5h.01M60.3 294.3h.01M48.4 292.7h.01M63.5 287.4h.01M60.4 288.9h.01M61.5 295.2h.01M57.0 296.1h.01M45.5 298.4h.01M59.0 299.8h.01M66.5 290.9h.01M55.8 291.0h.01M49.3 296.9h.01M56.5 292.2h.01M55.2 292.8h.01M63.0 284.7h.01M65.2 290.2h.01M54.6 293.3h.01M60.7 291.4h.01M58.4 293.0h.01M49.3 300.4h.01M51.0 297.5h.01M48.4 293.4h.01M60.2 295.4h.01M53.1 292.9h.01M54.5 298.1h.01M62.5 285.6h.01M59.3 296.2h.01M52.8 290.5h.01M54.4 291.6h.01M59.4 291.1h.01M53.2 301.4h.01M54.3 300.6h.01M58.4 290.5h.01M51.1 294.2h.01M50.0 296.3h.01M59.8 292.8h.01M60.2 292.6h.01M52.2 293.5h.01M66.4 292.9h.01M61.7 295.6h.01M59.4 296.9h.01M66.7 290.9h.01M48.7 300.7h.01M50.6 293.4h.01M53.7 296.6h.01M63.5 294.5h.01M54.8 292.9h.01M61.1 287.4h.01M49.8 294.4h.01M57.4 292.8h.01M57.6 291.5h.01M56.4 288.8h.01M64.4 287.0h.01M48.1 296.0h.01M60.7 290.7h.01M53.5 291.2h.01M52.8 293.4h.01M51.4 299.6h.01M59.3 283.7h.01M54.6 290.0h.01M66.9 289.7h.01M56.9 293.3h.01M60.7 295.0h.01M61.1 289.3h.01M50.3 295.2h.01M59.9 295.1h.01M51.7 297.2h.01M49.9 298.6h.01M65.1 291.0h.01M54.4 292.6h.01M53.3 293.2h.01M46.4 298.7h.01M60.7 298.6h.01M58.2 291.4h.01M46.8 295.7h.01M58.6 291.8h.01M59.8 287.9h.01M53.7 304.8h.01M59.7 291.1h.01M54.7 295.3h.01M50.9 296.8h.01M59.5 293.7h.01M59.4 289.6h.01M65.6 290.1h.01M60.9 287.1h.01M63.2 287.5h.01M53.5 296.5h.01M53.9 295.9h.01M59.0 292.4h.01M50.5 299.1h.01M56.4 297.3h.01M61.8 290.5h.01M49.5 303.8h.01M52.9 295.2h.01M57.9 295.1h.01M53.0 295.3h.01M63.6 292.9h.01M52.9 293.6h.01M60.8 286.1h.01M62.6 288.7h.01M51.3 292.8h.01M66.6 289.8h.01M48.5 299.4h.01M57.3 300.3h.01M57.9 287.4h.01M65.8 289.1h.01M55.1 299.6h.01M58.3 294.7h.01M56.2 292.7h.01M48.8 301.0h.01M57.6 295.8h.01M46.8 299.9h.01M62.0 290.4h.01M50.3 293.1h.01M49.0 303.7h.01M57.3 297.1h.01M63.6 295.1h.01M50.7 298.0h.01M48.3 296.6h.01M46.3 292.2h.01M53.8 300.0h.01M52.1 289.3h.01M49.6 296.3h.01M55.4 300.2h.01M64.7 296.4h.01M55.2 291.6h.01M55.3 298.7h.01M53.3 295.3h.01M47.6 297.8h.01M50.7 299.5h.01M54.9 294.9h.01M52.2 290.8h.01M61.8 292.0h.01M64.9 291.9h.01M63.8 299.6h.01M59.7 289.8h.01M48.2 303.0h.01M62.3 286.7h.01M59.4 296.2h.01M58.0 292.5h.01M52.9 302.0h.01M61.1 283.0h.01M47.3 300.6h.01M48.6 302.6h.01M48.6 300.3h.01M57.8 294.4h.01M59.7 293.5h.01M65.0 288.8h.01M56.7 292.6h.01M66.7 290.6h.01M67.2 296.1h.01M61.1 288.5h.01M47.5 297.1h.01M52.2 303.8h.01M62.9 293.6h.01M56.0 297.4h.01M58.9 289.1h.01M48.3 301.5h.01M53.2 294.8h.01M51.7 291.3h.01M52.1 297.7h.01M57.1 290.9h.01M63.3 290.6h.01M47.6 296.5h.01M61.6 289.7h.01M50.5 295.1h.01M57.3 290.3h.01M54.9 289.1h.01M63.8 291.9h.01M48.6 302.6h.01M62.8 292.3h.01M61.1 290.4h.01M55.6 291.2h.01M59.8 296.7h.01M48.0 302.1h.01M55.1 290.7h.01M64.4 291.0h.01M59.5 288.8h.01M59.1 289.9h.01M59.6 292.1h.01M51.2 301.1h.01M63.7 285.3h.01M64.9 291.4h.01M55.4 289.8h.01M57.3 297.7h.01M57.0 287.4h.01M49.3 301.9h.01M57.9 294.2h.01M58.4 297.4h.01M51.9 302.8h.01M61.9 284.1h.01M58.0 285.2h.01M52.6 289.3h.01M56.6 284.3h.01M59.3 296.0h.01M50.5 304.9h.01M66.6 291.1h.01M57.7 299.5h.01M52.0 289.2h.01M59.5 298.4h.01M59.1 282.7h.01M51.0 290.8h.01M61.9 295.3h.01M60.1 299.3h.01M51.1 298.5h.01M51.3 303.4h.01M53.5 295.0h.01M53.1 292.2h.01M63.9 295.4h.01M46.3 302.8h.01M66.3 286.3h.01M59.4 285.1h.01M65.0 289.9h.01M49.0 303.9h.01M51.4 303.6h.01M49.2 298.5h.01M54.8 297.1h.01M44.7 295.6h.01M55.6 288.1h.01M59.4 284.7h.01M59.5 283.7h.01M49.7 302.9h.01M44.8 297.4h.01M58.8 285.6h.01M52.6 290.1h.01M51.8 298.2h.01M46.7 299.9h.01M56.0 291.6h.01M54.7 290.3h.01M52.8 292.4h.01M47.1 287.5h.01M57.2 291.9h.01M45.5 292.5h.01M55.2 288.9h.01M45.9 291.9h.01M64.9 286.2h.01M45.7 285.6h.01M54.6 295.0h.01M54.7 299.7h.01M49.6 285.5h.01M50.2 292.7h.01M58.2 297.3h.01M58.4 297.2h.01M49.3 292.4h.01M55.4 283.4h.01M48.8 296.6h.01M55.1 291.9h.01M57.4 295.8h.01M58.6 292.4h.01M46.6 299.1h.01M45.7 288.0h.01M49.0 301.8h.01M59.1 294.9h.01M44.9 286.7h.01M66.1 284.2h.01M53.4 287.7h.01M61.9 292.2h.01M51.1 300.3h.01M55.0 296.6h.01M64.5 290.9h.01M47.3 299.5h.01M50.6 300.1h.01M47.2 299.6h.01M49.3 303.7h.01M50.5 303.1h.01M57.8 291.1h.01M59.0 283.2h.01M56.4 291.4h.01M67.6 281.1h.01M59.1 291.0h.01M53.7 293.7h.01M62.1 285.4h.01M59.7 294.9h.01M46.7 293.4h.01M58.1 292.9h.01M49.3 291.0h.01M51.6 298.5h.01M50.4 295.4h.01M52.7 287.3h.01M58.1 291.8h.01M49.1 289.9h.01M57.4 300.2h.01M57.4 298.5h.01M45.2 301.8h.01M63.7 295.2h.01M48.0 287.0h.01M53.7 295.1h.01M59.1 292.9h.01M52.8 295.6h.01M58.5 297.8h.01M45.7 298.5h.01M50.7 302.0h.01M48.2 289.9h.01M48.2 286.4h.01M49.6 286.9h.01M58.9 300.1h.01M51.3 296.8h.01M50.3 297.6h.01M52.5 283.8h.01M47.1 287.4h.01M45.3 300.3h.01M48.4 301.7h.01M55.5 287.1h.01M54.3 290.0h.01M60.7 290.3h.01M47.4 291.4h.01M53.7 290.3h.01M52.0 300.9h.01M44.7 296.5h.01M45.4 303.1h.01M58.5 286.5h.01M53.6 302.0h.01M47.7 293.9h.01M55.6 293.9h.01M64.1 287.1h.01M57.2 284.9h.01M47.3 294.3h.01M61.5 294.3h.01M45.3 296.4h.01M45.7 299.1h.01M45.1 298.3h.01M52.4 287.1h.01M61.6 289.8h.01M54.4 291.7h.01M51.3 299.0h.01M55.5 284.7h.01M47.0 297.7h.01M67.0 281.7h.01M49.6 302.4h.01M53.2 299.4h.01M53.2 284.0h.01M58.0 292.3h.01M60.9 291.1h.01M47.9 300.3h.01M54.7 296.3h.01M46.4 288.0h.01M57.7 295.0h.01M64.3 289.0h.01M58.7 297.7h.01M45.3 287.6h.01M63.7 294.1h.01M53.3 291.2h.01M63.8 287.7h.01M54.6 296.4h.01M52.2 292.6h.01M65.8 293.3h.01M54.1 285.1h.01M64.7 281.6h.01M61.2 295.0h.01M47.2 293.4h.01M50.6 286.8h.01M65.2 289.0h.01M48.7 285.6h.01M50.5 288.7h.01M60.7 282.4h.01M58.7 296.0h.01M59.6 295.0h.01M45.2 293.5h.01M51.7 293.5h.01M60.3 292.3h.01M58.1 294.1h.01M59.3 294.6h.01M59.0 288.9h.01M51.8 287.4h.01M50.4 290.9h.01M47.3 288.4h.01M53.0 283.8h.01M60.6 298.9h.01M51.3 301.1h.01M62.7 287.6h.01M49.1 291.5h.01M56.2 294.1h.01M55.0 286.1h.01M65.5 294.6h.01M45.2 295.2h.01M45.0 303.1h.01M65.7 287.7h.01M67.5 290.3h.01M61.0 292.2h.01M47.6 303.5h.01M57.4 292.7h.01M45.4 287.0h.01M63.6 296.1h.01M53.0 292.1h.01M48.8 300.1h.01M52.0 301.1h.01M47.9 295.6h.01M52.6 301.7h.01M60.6 292.0h.01M49.8 294.4h.01M55.5 297.7h.01M54.1 289.8h.01M57.7 294.0h.01M52.3 290.1h.01M61.9 290.6h.01M55.9 283.7h.01M50.5 298.2h.01M65.2 294.0h.01M52.4 295.6h.01M57.0 289.9h.01M50.4 290.2h.01M58.7 299.2h.01M52.6 286.9h.01M64.3 296.3h.01M47.7 298.5h.01M46.7 300.0h.01M53.8 287.0h.01M66.0 281.6h.01M56.2 288.3h.01M47.1 286.0h.01M67.5 283.4h.01M66.1 289.0h.01M60.9 290.1h.01M45.2 296.0h.01M48.0 302.8h.01M51.7 294.7h.01M52.8 289.5h.01M62.8 287.4h.01M66.2 282.7h.01M63.9 293.3h.01M46.0 299.1h.01M63.3 286.4h.01M47.4 292.1h.01M61.5 282.2h.01M66.2 285.7h.01M59.5 293.4h.01M52.7 290.9h.01M62.1 286.2h.01M51.3 293.7h.01M64.4 293.6h.01M45.9 295.2h.01M48.3 300.0h.01M48.1 294.1h.01M51.3 296.8h.01M52.8 293.4h.01M59.6 287.0h.01M56.2 293.2h.01M47.9 297.8h.01M48.7 296.7h.01M65.8 295.1h.01M64.9 295.0h.01M54.0 292.6h.01M56.7 295.1h.01M51.4 285.2h.01M56.9 284.3h.01M58.5 285.6h.01M52.8 303.2h.01M55.1 293.2h.01M54.9 286.0h.01M53.6 294.8h.01M64.2 296.3h.01M45.7 288.0h.01M66.4 294.7h.01M48.7 294.8h.01M58.7 299.6h.01M61.8 297.4h.01M51.0 286.7h.01M47.8 287.6h.01M52.1 291.1h.01M48.6 297.0h.01M63.2 294.1h.01M54.5 286.0h.01M62.9 284.8h.01M49.5 288.9h.01M63.0 293.8h.01M56.7 301.0h.01M58.4 293.9h.01M62.3 292.7h.01M50.6 301.8h.01M60.2 288.5h.01M49.2 294.7h.01M53.5 289.3h.01M56.1 301.3h.01M57.7 284.8h.01M63.3 290.2h.01M65.2 290.9h.01M46.1 298.9h.01M62.5 282.2h.01M51.8 296.1h.01M56.0 292.7h.01M60.6 282.8h.01M45.6 304.1h.01M53.0 292.9h.01M55.5 283.7h.01M64.3 287.1h.01M62.8 295.1h.01M54.6 287.8h.01M64.2 292.7h.01M51.8 299.9h.01M53.1 291.8h.01M50.4 298.2h.01M47.5 299.1h.01M57.6 286.2h.01M56.0 302.3h.01M51.3 294.5h.01M49.9 302.4h.01M46.7 291.8h.01M45.9 304.2h.01M62.7 285.1h.01M46.4 293.7h.01M60.3 283.2h.01M48.6 299.4h.01M53.0 277.1h.01M49.1 277.2h.01M55.3 275.9h.01M60.4 278.5h.01M60.4 279.4h.01M63.2 274.5h.01M64.1 281.2h.01M54.6 276.2h.01M47.1 281.6h.01M65.5 280.6h.01M55.3 274.9h.01M66.2 280.9h.01M46.1 275.2h.01M64.5 276.9h.01M53.3 274.9h.01M46.4 277.1h.01M65.8 280.6h.01M54.0 277.3h.01M63.6 275.8h.01M52.7 280.9h.01M57.9 280.4h.01M50.9 278.3h.01M54.6 277.9h.01M50.6 281.1h.01M47.7 278.9h.01M52.4 275.1h.01M58.9 282.1h.01M59.0 278.2h.01M52.2 276.3h.01M48.7 281.2h.01M59.1 276.0h.01M59.1 279.3h.01M45.2 280.8h.01M59.9 274.7h.01M50.7 282.2h.01M53.3 265.7h.01M56.7 263.1h.01M45.3 270.0h.01M54.6 265.8h.01M58.0 258.1h.01M52.9 250.1h.01M51.6 251.4h.01M55.6 258.4h.01M52.7 247.1h.01M60.0 236.0h.01M48.3 246.9h.01" stroke="#c2343a" stroke-opacity="0.5" stroke-width="0.9" stroke-linecap="round" fill="none"/>
<ellipse cx="48.6" cy="296.5" rx="3.12" ry="5.17" fill="#e0b8b8" opacity="0.41" transform="rotate(15 48.6 296.5)" filter="url(#fb2)"/>
<ellipse cx="48.6" cy="296.5" rx="2.5" ry="4.5" fill="#d8d8dc" opacity="0.92" transform="rotate(15 48.6 296.5)" filter="url(#fb)"/>
<path d="M106.3 258.7h.01M108.5 257.1h.01M104.7 260.2h.01M104.8 255.6h.01M102.7 257.9h.01M106.0 256.3h.01M103.5 253.2h.01M105.1 259.7h.01M103.6 263.5h.01M103.7 263.7h.01M104.6 266.7h.01M107.1 261.4h.01M107.6 255.6h.01M106.0 262.8h.01M103.7 264.1h.01M104.7 261.6h.01M107.3 256.7h.01M109.6 260.4h.01M109.8 255.4h.01M107.1 259.5h.01M107.2 257.8h.01M110.5 257.0h.01M105.5 262.8h.01M102.7 253.8h.01M103.7 259.5h.01M105.1 260.1h.01M109.6 256.7h.01M110.7 258.1h.01M109.6 257.6h.01M105.2 253.2h.01M105.8 254.4h.01M103.6 266.6h.01M106.4 265.0h.01M105.5 256.7h.01M105.6 259.4h.01M103.1 257.6h.01M108.1 255.0h.01M102.7 250.3h.01M102.7 251.8h.01M105.0 249.3h.01M105.3 257.0h.01M104.6 260.9h.01M104.5 255.4h.01M106.2 259.1h.01M105.1 254.0h.01M104.5 260.1h.01M105.1 258.0h.01M104.2 256.7h.01M102.6 252.1h.01M103.9 256.0h.01M109.0 258.6h.01M108.0 254.2h.01M104.4 251.0h.01M104.3 256.1h.01M104.6 260.5h.01M107.1 253.6h.01M102.9 263.4h.01M108.1 261.2h.01M103.7 257.3h.01M106.7 257.5h.01M104.7 264.9h.01M110.6 250.9h.01M105.7 262.0h.01M104.4 258.3h.01M104.0 250.4h.01M105.4 262.3h.01M102.6 252.6h.01M109.3 256.4h.01M104.4 255.9h.01M105.0 258.7h.01M105.4 256.2h.01M104.9 256.8h.01M107.4 268.1h.01M102.7 263.2h.01M108.7 251.8h.01M106.1 254.8h.01M105.2 253.4h.01M106.9 256.8h.01M111.1 258.2h.01M105.0 255.5h.01M105.3 256.3h.01M105.4 267.6h.01M106.3 251.5h.01M105.8 256.1h.01M108.6 257.9h.01M103.3 249.0h.01M106.8 260.2h.01M107.4 256.4h.01M105.1 261.1h.01M104.9 250.9h.01M105.0 249.0h.01M103.5 265.7h.01M106.1 254.3h.01M107.3 259.0h.01M108.5 248.7h.01M103.9 256.5h.01M111.0 259.8h.01M109.8 258.6h.01M111.2 257.7h.01M103.2 260.8h.01M106.7 254.4h.01M104.4 259.7h.01M108.9 259.1h.01M106.1 259.1h.01M104.3 258.7h.01M107.1 258.9h.01M102.6 255.3h.01M103.2 255.8h.01M109.6 261.3h.01M106.1 263.8h.01M105.9 257.1h.01M110.8 256.1h.01M105.9 257.4h.01M104.9 259.7h.01M104.2 252.6h.01M105.9 255.3h.01M104.0 253.1h.01M108.2 251.4h.01M105.1 255.9h.01M102.9 261.6h.01M109.3 254.1h.01M108.1 262.2h.01M108.7 262.3h.01M106.6 250.8h.01M104.9 258.5h.01M108.0 254.2h.01M104.7 266.7h.01M107.5 256.7h.01M105.6 256.9h.01M105.8 259.1h.01M103.3 258.4h.01M109.2 253.0h.01M106.9 258.4h.01M105.3 250.3h.01M104.6 252.3h.01M109.2 255.3h.01M107.2 257.3h.01M103.2 247.3h.01M103.7 256.8h.01M104.6 254.0h.01M104.4 258.8h.01M103.6 260.3h.01M105.4 262.9h.01M105.5 260.7h.01M107.8 264.5h.01M104.7 264.2h.01M102.7 258.4h.01M106.0 268.2h.01M104.1 254.6h.01M107.6 261.0h.01M103.9 254.3h.01M107.0 259.1h.01M104.3 253.8h.01M103.3 256.0h.01M106.1 253.0h.01M106.1 262.6h.01M107.9 254.2h.01M105.3 255.3h.01M108.3 259.3h.01M108.6 256.7h.01M105.3 257.9h.01M105.9 260.4h.01M106.1 260.4h.01M108.0 257.6h.01M107.5 257.9h.01M104.6 258.1h.01M106.5 257.8h.01M106.2 254.0h.01M108.7 259.8h.01M105.1 255.4h.01M104.8 253.3h.01M105.2 258.2h.01M107.5 257.8h.01M104.8 259.3h.01M108.2 261.7h.01M106.6 259.9h.01M104.8 256.7h.01M108.3 256.1h.01M107.9 262.5h.01M107.4 248.8h.01M106.8 259.4h.01M103.7 259.7h.01M105.7 258.8h.01M102.7 258.4h.01M105.9 254.5h.01M107.8 261.4h.01M104.6 261.8h.01M106.0 261.0h.01M105.4 259.1h.01M108.4 255.0h.01M108.7 253.1h.01M103.5 255.9h.01M102.7 257.2h.01M104.2 253.8h.01M105.8 251.5h.01M106.3 257.0h.01M104.4 250.8h.01M104.9 261.0h.01M103.8 261.1h.01M103.8 261.1h.01M108.7 251.6h.01M104.9 260.3h.01M104.4 258.9h.01M104.9 263.0h.01M105.4 259.5h.01M107.1 253.1h.01M104.8 257.7h.01M106.3 262.1h.01M102.7 266.2h.01M107.0 254.9h.01M108.1 260.3h.01M107.1 256.0h.01M102.5 260.9h.01M106.6 249.1h.01M107.4 263.4h.01M105.1 257.7h.01M104.3 249.2h.01M105.6 253.6h.01M106.8 255.1h.01M111.8 256.8h.01M106.4 258.4h.01M109.0 253.2h.01M104.3 256.2h.01M107.2 264.6h.01M105.1 257.1h.01M102.5 258.5h.01M106.4 262.2h.01M107.1 253.7h.01M103.4 259.3h.01M102.5 254.7h.01M105.2 257.2h.01M105.1 263.6h.01M103.3 261.2h.01M104.4 260.3h.01M104.4 253.7h.01M102.5 264.3h.01M107.1 259.7h.01M106.0 257.9h.01M108.8 263.3h.01M104.0 262.0h.01M106.0 257.8h.01M104.1 254.8h.01M102.9 255.5h.01M103.0 256.3h.01M104.2 259.5h.01M105.6 250.7h.01M108.4 260.9h.01M104.8 256.7h.01M109.5 267.1h.01M104.1 254.4h.01M105.2 260.1h.01M103.3 258.1h.01M106.3 257.9h.01M105.8 245.0h.01M108.2 254.4h.01M104.4 258.0h.01M103.1 258.7h.01M108.8 260.5h.01M104.9 266.2h.01M106.1 260.7h.01M102.7 257.5h.01M105.6 255.6h.01M104.9 256.9h.01M105.9 264.2h.01M104.0 257.5h.01M108.4 259.6h.01M104.5 252.3h.01M105.9 257.8h.01M104.4 254.0h.01M106.2 258.0h.01M108.4 261.1h.01M106.5 258.5h.01M103.1 258.0h.01M108.2 247.1h.01M109.3 261.7h.01M102.7 256.0h.01M108.5 257.5h.01M106.5 259.6h.01M103.3 263.5h.01M104.3 260.8h.01M107.9 259.7h.01M103.1 262.6h.01M104.1 255.3h.01M105.1 261.9h.01M106.8 262.3h.01M103.6 253.1h.01M104.4 262.4h.01M104.7 265.1h.01M106.9 254.9h.01M102.7 252.6h.01M102.4 260.1h.01M107.8 258.5h.01M108.7 252.6h.01M105.2 258.8h.01M106.1 255.8h.01M108.8 261.4h.01M107.6 259.0h.01M106.6 254.0h.01M103.4 259.6h.01M106.1 257.9h.01M102.9 255.0h.01M103.7 255.1h.01M106.2 263.1h.01M110.3 262.0h.01M106.5 260.4h.01M110.9 267.3h.01M103.5 257.5h.01M108.1 252.2h.01M102.6 254.7h.01M103.5 261.0h.01M104.2 250.7h.01M105.7 261.9h.01M103.4 257.0h.01M103.7 262.5h.01M106.1 255.0h.01M105.4 258.8h.01M104.2 261.4h.01M102.8 257.7h.01M105.7 250.3h.01M106.5 257.5h.01M107.8 267.8h.01M102.8 261.0h.01M103.6 266.5h.01M104.2 258.3h.01M103.5 265.5h.01M105.5 258.4h.01M105.8 262.3h.01M107.3 257.7h.01M104.5 258.1h.01M103.2 260.7h.01M103.5 251.4h.01M103.7 263.1h.01M106.5 261.2h.01M104.0 256.0h.01M103.3 257.0h.01M103.3 255.7h.01M105.1 257.0h.01M104.7 258.2h.01M106.0 258.8h.01M102.6 256.8h.01M105.3 261.5h.01M110.6 260.4h.01M108.8 257.7h.01M102.8 255.2h.01M102.4 260.1h.01M104.7 255.8h.01M107.7 257.3h.01M103.2 251.4h.01M106.4 258.4h.01M105.6 260.7h.01M107.5 248.1h.01M106.3 262.6h.01M105.8 260.4h.01M106.1 258.8h.01M108.3 249.4h.01M104.2 258.2h.01M108.8 256.3h.01M103.0 258.9h.01M106.3 269.2h.01M106.0 260.4h.01M107.6 255.4h.01M104.1 260.2h.01M103.7 262.9h.01M103.0 263.6h.01M106.7 258.8h.01M105.2 262.5h.01M103.7 261.1h.01M105.2 255.2h.01M105.8 255.4h.01M107.3 255.2h.01M106.4 263.2h.01M105.5 254.4h.01M103.3 256.4h.01M104.2 253.5h.01M102.6 261.8h.01M106.1 259.2h.01M106.0 259.4h.01M106.1 253.6h.01M103.0 260.2h.01M102.6 264.8h.01M105.9 254.3h.01M105.4 260.1h.01M104.0 265.3h.01M107.2 265.8h.01M103.6 261.0h.01M105.6 253.0h.01M104.0 253.6h.01M105.0 256.5h.01M103.6 267.6h.01M106.1 250.5h.01M105.1 259.1h.01M103.5 260.6h.01M103.1 253.4h.01M105.3 251.1h.01M107.8 258.8h.01M108.1 254.8h.01M105.5 263.9h.01M107.0 258.1h.01M104.0 253.2h.01M105.1 257.0h.01M103.5 263.6h.01M103.3 266.2h.01M111.4 251.5h.01M104.3 256.6h.01M105.1 260.8h.01M106.6 257.8h.01M103.3 261.7h.01M107.9 257.7h.01M103.1 248.9h.01M103.5 258.2h.01M103.4 264.1h.01M109.6 260.1h.01M105.1 263.4h.01M105.8 261.1h.01M105.5 260.7h.01M104.1 254.6h.01M105.8 258.1h.01M104.4 256.8h.01M105.4 267.0h.01M103.6 261.0h.01M103.0 264.3h.01M103.4 260.0h.01M107.4 255.7h.01M105.0 253.2h.01M106.6 258.2h.01M107.4 255.6h.01M103.1 259.5h.01M107.3 262.8h.01M107.1 247.1h.01M103.9 257.6h.01M107.3 262.7h.01M110.0 251.3h.01M106.4 266.1h.01M105.8 260.1h.01M108.5 260.6h.01M104.8 247.3h.01M104.7 258.0h.01M104.5 261.1h.01M107.0 257.2h.01M107.0 252.0h.01M103.7 252.8h.01M106.6 262.9h.01M106.7 260.5h.01M104.5 256.0h.01M107.8 261.6h.01M109.6 258.6h.01M109.1 268.1h.01M111.1 254.5h.01M106.8 253.7h.01M106.8 257.0h.01M117.1 255.0h.01M105.0 253.6h.01M113.4 256.3h.01M118.0 255.1h.01M105.6 257.3h.01M112.6 256.7h.01M109.3 254.7h.01M119.6 248.7h.01M109.3 256.5h.01M110.5 257.1h.01M113.7 255.7h.01M113.7 251.3h.01M111.2 257.0h.01M106.9 254.6h.01M104.6 257.4h.01M115.3 250.7h.01M107.9 257.1h.01M123.0 250.8h.01M120.7 250.2h.01M124.2 250.7h.01M120.8 254.7h.01M113.6 252.0h.01M111.2 253.3h.01M118.9 252.7h.01M106.9 255.2h.01M114.2 252.7h.01M105.2 255.9h.01M104.8 256.8h.01M119.3 254.7h.01M124.1 249.5h.01M118.7 252.7h.01M117.0 252.1h.01M115.9 253.2h.01M114.4 251.3h.01M116.0 252.9h.01M115.9 251.9h.01M113.9 252.6h.01M122.2 252.4h.01M105.6 257.9h.01M117.0 256.2h.01M115.7 253.6h.01M115.1 251.2h.01M124.4 251.2h.01M113.9 253.2h.01M105.0 253.9h.01M106.3 256.2h.01M118.0 249.4h.01M112.0 252.0h.01M107.5 257.6h.01M117.3 248.1h.01M119.9 254.2h.01M120.1 254.7h.01M113.1 256.2h.01M104.6 257.6h.01M103.6 254.8h.01M108.6 250.0h.01M110.1 255.3h.01M105.1 258.9h.01M121.1 250.2h.01M104.1 254.6h.01M116.4 252.3h.01M124.9 248.5h.01M116.5 254.4h.01M107.5 255.7h.01M111.0 251.2h.01M109.3 254.4h.01M114.4 255.9h.01M105.8 258.9h.01M106.8 254.3h.01M112.5 255.1h.01M118.6 258.5h.01M125.2 248.6h.01M115.9 251.2h.01M107.7 254.0h.01M122.4 250.1h.01M124.4 249.4h.01M121.6 254.1h.01M111.2 256.3h.01M119.8 254.0h.01M114.9 257.0h.01M115.5 252.1h.01M114.3 253.3h.01M116.4 255.3h.01M114.9 255.0h.01M121.5 250.6h.01M112.8 257.1h.01M109.7 257.1h.01M107.7 258.3h.01M108.9 256.7h.01M121.8 246.1h.01M120.6 249.8h.01M105.6 257.7h.01M120.2 255.2h.01M111.1 253.6h.01M122.3 250.4h.01M120.9 247.1h.01M107.9 253.9h.01M113.7 250.2h.01M121.0 249.7h.01M117.5 250.3h.01M119.3 250.0h.01M104.7 256.2h.01M113.6 253.5h.01M122.1 245.9h.01M120.7 248.5h.01M115.3 253.1h.01M122.6 249.2h.01M123.5 250.8h.01M123.8 248.2h.01M118.8 244.9h.01M116.5 251.0h.01M121.7 247.5h.01M109.9 256.1h.01M111.4 251.1h.01M106.1 261.5h.01M119.8 253.2h.01M121.3 248.2h.01M112.8 253.5h.01M112.4 254.4h.01M113.6 255.8h.01M108.6 259.3h.01M124.0 253.1h.01M104.8 257.5h.01M114.2 256.3h.01M120.1 248.7h.01M116.7 252.4h.01M118.8 250.6h.01M124.7 248.0h.01M112.7 255.0h.01M107.3 258.6h.01M108.8 257.2h.01M123.1 248.8h.01M121.1 250.8h.01M107.4 261.7h.01M113.8 255.7h.01M122.0 249.8h.01M114.5 250.3h.01M119.6 246.3h.01M108.7 254.8h.01M116.4 250.4h.01M120.9 250.3h.01M107.8 258.1h.01M108.8 260.5h.01M107.1 256.3h.01M107.3 259.4h.01M121.0 252.4h.01M114.9 252.9h.01M109.8 257.3h.01M117.3 256.8h.01M120.8 251.8h.01M114.1 258.0h.01M115.1 250.7h.01M104.1 256.0h.01M120.6 249.8h.01M116.3 252.9h.01M108.7 254.2h.01M108.3 254.2h.01M114.6 255.6h.01M123.8 247.1h.01M109.1 253.1h.01M121.0 253.6h.01M125.2 249.1h.01M106.9 258.0h.01M110.7 253.6h.01M110.9 251.2h.01M115.2 257.2h.01M113.6 258.7h.01M115.8 255.3h.01M125.3 248.9h.01M116.6 254.5h.01M123.8 251.5h.01M104.0 254.1h.01M112.9 250.1h.01M107.5 256.2h.01M112.9 253.9h.01M113.5 253.5h.01M116.0 259.1h.01M118.4 247.6h.01M117.9 254.6h.01M104.8 255.0h.01M115.5 254.3h.01M120.4 251.2h.01M124.8 251.5h.01M120.8 253.0h.01M123.7 247.1h.01M115.8 249.4h.01M111.8 255.7h.01M107.4 255.7h.01M116.0 252.6h.01M121.3 256.8h.01M120.0 249.2h.01M117.2 254.6h.01M118.7 249.0h.01M107.9 256.1h.01M109.0 255.9h.01M116.0 249.1h.01M123.9 252.0h.01M113.2 257.7h.01M112.8 256.3h.01M109.3 255.2h.01M124.2 248.7h.01M116.8 249.6h.01M105.9 256.4h.01M121.7 253.0h.01M125.3 253.1h.01M121.7 248.8h.01M118.0 250.9h.01M117.7 251.1h.01M121.6 249.2h.01M108.6 256.7h.01M123.5 250.6h.01M107.2 255.1h.01M118.8 249.8h.01M123.6 250.4h.01M105.5 253.0h.01M104.6 253.4h.01M117.7 254.8h.01M106.3 258.7h.01M114.5 249.8h.01M111.6 252.5h.01M107.8 259.0h.01M117.4 249.9h.01M115.6 255.5h.01M108.6 254.6h.01M113.9 253.0h.01M112.3 251.7h.01M110.6 254.7h.01M112.2 256.6h.01M118.7 251.2h.01M111.6 254.5h.01M103.9 257.7h.01M121.4 248.4h.01M117.1 250.0h.01M115.2 249.4h.01M119.8 251.1h.01M118.1 250.8h.01M121.9 249.9h.01M123.3 251.7h.01M123.9 249.4h.01M115.4 255.7h.01M116.6 253.1h.01M123.0 251.8h.01M110.6 259.1h.01M103.9 253.2h.01M123.4 249.2h.01M114.5 254.5h.01M124.7 247.2h.01M116.0 251.6h.01M120.1 253.5h.01M115.8 257.8h.01M106.5 255.3h.01M109.3 253.3h.01M123.4 251.3h.01M117.0 252.4h.01M108.7 259.9h.01M107.3 257.1h.01M107.3 254.6h.01M114.8 254.8h.01M105.7 257.3h.01M117.4 251.6h.01M117.3 252.3h.01M124.4 250.8h.01M119.5 250.9h.01M120.8 251.7h.01M107.3 258.1h.01M117.4 255.4h.01M119.6 252.8h.01M118.4 250.2h.01M106.6 258.5h.01M108.6 254.6h.01M118.5 250.3h.01M111.3 255.5h.01M104.6 257.7h.01M118.9 252.8h.01M119.5 248.4h.01M116.2 253.5h.01M112.4 255.7h.01M116.8 254.3h.01M110.9 250.8h.01M121.1 249.3h.01M119.7 254.0h.01M118.7 250.8h.01M108.0 252.5h.01M122.1 249.7h.01M108.2 251.5h.01M111.5 252.2h.01M116.6 256.3h.01M118.1 253.3h.01M114.5 251.6h.01M114.0 252.5h.01M117.5 254.6h.01M105.0 255.6h.01M107.9 255.2h.01M119.0 253.3h.01M120.7 247.5h.01M107.2 255.1h.01M105.8 258.1h.01M119.2 254.1h.01M116.2 256.1h.01M113.9 254.9h.01M122.0 248.3h.01M118.3 249.3h.01M113.4 250.0h.01M111.7 254.1h.01M119.0 249.9h.01M108.2 261.2h.01M109.3 252.9h.01M110.3 252.9h.01M112.3 248.8h.01M113.1 252.8h.01M122.2 249.8h.01M117.6 251.3h.01M105.0 253.1h.01M110.1 254.8h.01M115.2 251.6h.01M114.8 252.9h.01M116.6 253.3h.01M106.3 256.9h.01M105.2 252.7h.01M116.9 249.5h.01M109.7 253.6h.01M110.7 258.9h.01M105.7 255.8h.01M107.8 254.5h.01M107.3 258.4h.01M122.8 249.0h.01M111.6 252.6h.01M107.7 256.5h.01M123.5 251.1h.01M117.2 256.7h.01M111.6 256.9h.01M104.8 257.6h.01M119.5 247.1h.01M106.9 257.9h.01M117.1 251.3h.01M124.8 248.1h.01M116.9 249.9h.01M114.4 251.5h.01M122.7 247.1h.01M118.9 248.3h.01M119.5 253.7h.01M109.0 254.6h.01M106.6 253.9h.01M114.9 250.3h.01M121.2 249.6h.01M119.3 252.3h.01M122.1 249.1h.01M123.3 251.9h.01M122.7 249.8h.01M110.3 256.0h.01M121.3 249.9h.01M124.1 246.8h.01M114.8 251.3h.01M111.8 253.0h.01M113.9 257.2h.01M119.5 258.2h.01M109.8 255.4h.01M119.3 248.2h.01M108.7 257.2h.01M116.2 250.2h.01M118.8 254.2h.01M119.6 251.7h.01M106.3 254.3h.01M108.7 257.1h.01M120.6 250.5h.01M116.9 254.9h.01M107.5 256.5h.01M107.3 256.4h.01M119.7 248.8h.01M121.8 246.9h.01M119.1 251.7h.01M123.5 247.7h.01M118.0 248.8h.01M110.4 258.2h.01M121.2 249.9h.01M122.2 248.6h.01M117.9 247.7h.01M114.5 254.4h.01M123.5 250.3h.01M118.7 251.7h.01M113.8 251.5h.01M118.3 251.5h.01M123.6 245.2h.01M113.0 255.0h.01M112.3 249.8h.01M111.1 254.4h.01M105.2 258.2h.01M122.1 245.0h.01M111.8 255.0h.01M109.6 256.3h.01M115.4 251.9h.01M119.7 253.4h.01M113.6 252.8h.01M122.3 250.9h.01M103.5 255.4h.01M123.4 249.0h.01M111.5 253.1h.01M120.2 248.4h.01M116.2 255.5h.01M106.2 256.0h.01M124.2 249.6h.01M112.0 254.8h.01M117.7 251.2h.01M116.9 251.5h.01M118.5 250.4h.01M110.0 252.3h.01M105.8 258.1h.01M114.5 254.2h.01M116.4 249.0h.01M111.1 253.9h.01M106.5 253.0h.01M111.1 252.5h.01M107.7 257.3h.01M117.7 251.3h.01M110.7 250.4h.01M109.3 257.7h.01M122.8 253.6h.01M124.2 246.7h.01M121.4 252.1h.01M106.3 258.0h.01M109.2 253.3h.01M123.4 249.9h.01M124.0 248.3h.01M121.5 247.4h.01M107.4 261.3h.01M115.8 254.1h.01M121.8 248.7h.01M111.1 252.1h.01M120.9 253.2h.01M108.7 254.9h.01M112.1 253.1h.01M112.8 258.5h.01M115.4 252.1h.01M123.7 249.8h.01M118.1 251.4h.01M123.5 247.2h.01M113.8 253.0h.01M118.8 251.9h.01M117.6 251.2h.01M113.2 252.9h.01M113.9 254.2h.01M115.2 253.1h.01M106.0 256.4h.01M120.5 249.1h.01M110.3 253.7h.01M120.2 252.5h.01M117.3 253.6h.01M122.7 248.2h.01M109.6 258.0h.01M117.6 248.2h.01M109.7 257.3h.01M114.0 254.6h.01M124.8 248.9h.01M114.6 256.9h.01M106.5 258.6h.01M106.3 256.8h.01M108.1 259.3h.01M104.6 258.6h.01M119.9 251.4h.01M122.7 251.6h.01M107.5 257.8h.01M119.2 244.7h.01M111.0 257.1h.01M107.1 260.6h.01M110.6 251.7h.01M115.5 249.9h.01M114.0 252.1h.01M120.8 254.0h.01M119.9 247.1h.01M112.9 255.4h.01M107.1 256.0h.01M107.0 256.2h.01M123.9 245.6h.01M112.6 258.3h.01M119.9 247.3h.01M108.9 252.3h.01M119.5 252.0h.01M122.1 246.2h.01M105.6 258.4h.01M121.8 248.8h.01M105.7 260.9h.01M111.6 251.9h.01M115.2 253.4h.01M104.5 255.8h.01M108.9 257.3h.01M114.0 250.0h.01M120.0 251.6h.01M114.9 255.8h.01M110.6 253.8h.01M116.2 252.7h.01M116.3 248.5h.01M121.7 249.0h.01M116.8 250.1h.01M111.5 255.3h.01M124.2 250.2h.01M112.3 254.8h.01M106.6 253.3h.01M116.6 247.3h.01M114.8 250.8h.01M114.6 253.0h.01M118.9 250.6h.01M108.7 257.4h.01M103.3 254.9h.01M107.4 255.0h.01M115.8 251.5h.01M107.0 256.9h.01M121.0 252.2h.01M116.2 251.6h.01M112.4 252.1h.01M115.0 252.7h.01M107.3 256.5h.01M115.6 254.3h.01M116.4 250.6h.01M117.3 251.2h.01M113.9 255.6h.01M106.5 255.9h.01M112.6 252.5h.01M121.3 254.5h.01M122.8 245.6h.01M118.0 252.3h.01M107.5 260.9h.01M125.0 251.2h.01M112.7 255.7h.01M121.8 250.7h.01M111.7 254.1h.01M108.8 252.1h.01M106.1 257.8h.01M109.8 257.1h.01M114.1 252.4h.01M108.6 253.2h.01M124.9 253.0h.01M113.3 254.5h.01M120.3 251.3h.01M124.3 248.9h.01M113.9 252.8h.01M122.7 249.7h.01M111.9 255.5h.01M111.6 254.1h.01M123.8 253.4h.01M104.3 255.2h.01M121.5 252.9h.01M117.8 247.7h.01M107.3 255.2h.01M104.5 257.7h.01M115.1 249.8h.01M104.2 254.3h.01M120.5 246.7h.01M110.1 255.4h.01M114.2 253.1h.01M104.0 255.9h.01M110.3 254.8h.01M124.8 247.8h.01M114.6 252.3h.01M120.2 250.5h.01M114.8 249.8h.01M107.7 258.7h.01M109.4 256.7h.01M123.8 248.1h.01M123.1 253.9h.01M117.0 251.9h.01M109.0 257.1h.01M122.7 245.7h.01M121.4 254.5h.01M120.1 252.6h.01M116.6 254.0h.01M105.6 257.8h.01M104.4 257.3h.01M119.0 251.5h.01M106.7 260.7h.01M112.4 253.0h.01M119.0 254.7h.01M118.4 256.8h.01M110.3 256.8h.01M109.7 256.5h.01M117.2 250.9h.01M113.4 255.4h.01M119.8 254.7h.01M106.3 255.2h.01M123.7 249.8h.01M119.2 251.5h.01M117.6 255.6h.01M122.1 254.4h.01M108.7 256.0h.01M114.6 251.9h.01M113.7 252.8h.01M119.5 251.5h.01M112.8 254.6h.01M110.3 254.8h.01M121.7 248.9h.01M122.6 249.6h.01M105.9 254.3h.01M115.0 252.4h.01M109.5 255.8h.01M116.9 255.0h.01M123.0 249.2h.01M120.3 250.0h.01M116.4 247.7h.01M121.3 253.9h.01M115.1 253.1h.01M120.4 252.0h.01M119.5 251.3h.01M117.8 251.6h.01M114.5 255.5h.01M124.0 249.8h.01M109.5 258.1h.01M119.1 249.3h.01M112.9 255.8h.01M107.6 254.5h.01M117.3 250.3h.01M108.5 254.1h.01M117.7 253.3h.01M108.6 259.9h.01M118.6 248.2h.01M122.7 250.2h.01M111.6 251.8h.01M121.9 248.3h.01M117.4 250.9h.01M117.2 253.9h.01M108.9 257.3h.01M108.2 253.9h.01M105.9 257.7h.01M110.8 252.9h.01M120.8 247.8h.01M116.1 250.0h.01M125.0 250.8h.01M112.5 249.5h.01M121.5 253.2h.01M114.0 252.6h.01M119.3 252.2h.01M121.5 246.9h.01M125.1 251.4h.01M108.8 255.9h.01M123.7 247.6h.01M114.3 254.9h.01M110.8 256.3h.01M124.8 247.7h.01M109.1 255.9h.01M119.9 249.6h.01M110.6 254.0h.01M118.9 251.5h.01M121.2 248.9h.01M109.3 253.5h.01M122.0 250.9h.01M109.2 253.0h.01M114.9 252.7h.01M119.5 252.8h.01M119.6 249.1h.01M111.1 253.8h.01M111.2 255.9h.01M118.3 251.8h.01M107.2 258.8h.01M112.2 253.0h.01M104.5 259.0h.01M106.0 256.9h.01M122.0 246.8h.01M107.7 260.5h.01M111.1 254.0h.01M112.3 251.0h.01M118.2 256.3h.01M106.1 256.5h.01M115.3 255.1h.01M115.4 254.0h.01M120.2 249.1h.01M117.7 249.0h.01M121.5 247.8h.01M120.8 249.8h.01M105.9 256.6h.01M106.2 258.5h.01M112.5 254.5h.01M112.1 251.5h.01M118.3 251.0h.01M112.2 255.1h.01M105.6 252.6h.01M117.4 247.7h.01M114.1 255.2h.01M107.3 254.8h.01M124.1 247.4h.01M107.1 255.9h.01M120.4 247.2h.01M118.3 254.7h.01M116.1 255.3h.01M105.3 258.4h.01M106.1 256.8h.01M114.4 256.1h.01M120.0 248.4h.01M115.2 251.8h.01M123.1 250.1h.01M111.5 253.0h.01M109.0 254.9h.01M120.5 252.2h.01M118.6 253.6h.01M116.6 250.8h.01M123.7 249.2h.01M124.5 249.7h.01M122.6 244.8h.01M105.3 257.7h.01M106.5 259.1h.01M116.3 251.1h.01M121.3 247.3h.01M115.3 250.2h.01M119.3 248.2h.01M108.6 256.7h.01M122.0 251.6h.01M103.5 254.5h.01M108.4 259.3h.01M124.5 255.0h.01M121.6 249.5h.01M118.9 248.2h.01M114.8 256.4h.01M111.7 252.7h.01M108.4 253.8h.01M109.3 254.1h.01M108.7 260.5h.01M109.6 251.9h.01M105.2 260.5h.01M117.8 253.6h.01M120.3 250.5h.01M117.1 248.8h.01M121.2 246.9h.01M113.0 253.0h.01M109.0 255.6h.01M124.9 249.6h.01M119.0 246.9h.01M125.1 249.3h.01M103.8 257.6h.01M113.2 251.5h.01M106.7 257.1h.01M122.3 253.6h.01M104.2 255.3h.01M109.1 256.5h.01M103.8 257.1h.01M121.3 247.4h.01M106.1 255.6h.01M107.4 254.3h.01M112.5 253.9h.01M109.8 257.1h.01M122.2 251.7h.01M106.3 257.1h.01M121.9 251.8h.01M112.1 253.3h.01M112.7 253.3h.01M109.2 256.7h.01M123.5 251.0h.01M122.5 254.4h.01M122.4 248.0h.01M111.6 253.8h.01M115.9 256.6h.01M112.1 256.0h.01M121.0 253.0h.01M108.7 254.1h.01M124.0 249.5h.01M118.1 254.6h.01M103.9 257.4h.01M102.9 251.3h.01M119.2 250.4h.01M104.8 259.5h.01M111.6 253.2h.01M117.7 250.9h.01M108.8 255.0h.01M118.0 254.2h.01M119.0 253.5h.01M119.3 252.1h.01M107.1 252.5h.01M118.6 254.5h.01M115.2 254.6h.01M114.2 250.0h.01M119.1 253.3h.01M111.3 256.7h.01M114.9 253.7h.01M117.6 252.8h.01M108.0 255.1h.01M103.9 257.2h.01M120.0 250.8h.01M114.3 249.4h.01M104.4 257.3h.01M114.2 251.2h.01M120.0 250.4h.01M116.2 253.5h.01M107.0 254.5h.01M119.9 248.5h.01M114.7 256.2h.01M114.3 254.5h.01M110.1 259.5h.01M118.4 250.1h.01M103.6 253.8h.01M108.7 256.9h.01M117.0 251.5h.01M122.7 249.0h.01M113.8 250.9h.01M117.7 253.4h.01M109.3 256.6h.01M122.6 247.6h.01M121.9 249.6h.01M118.1 249.5h.01M105.8 258.5h.01M107.5 255.6h.01M116.5 250.8h.01M113.0 256.5h.01M114.3 255.0h.01M116.0 254.0h.01M112.2 253.6h.01M114.3 251.9h.01M109.7 255.9h.01M120.4 248.7h.01M110.8 249.8h.01M105.6 257.8h.01M124.6 250.0h.01M106.6 257.2h.01M113.2 250.1h.01M113.9 250.9h.01M106.9 256.7h.01M112.0 254.7h.01M115.8 250.7h.01M114.8 254.0h.01M104.5 255.7h.01M115.1 252.6h.01M112.1 254.8h.01M104.7 255.1h.01M111.7 253.5h.01M117.1 251.0h.01M110.9 257.4h.01M123.8 247.8h.01M107.3 255.6h.01M109.7 258.0h.01M111.4 253.5h.01M111.7 258.6h.01M122.0 250.9h.01M108.0 254.3h.01M116.7 253.3h.01M122.3 249.4h.01M114.1 251.8h.01M125.2 249.1h.01M109.1 256.5h.01M108.8 260.3h.01M119.2 254.1h.01M104.9 257.8h.01M117.1 250.5h.01M108.5 256.1h.01M108.2 258.9h.01M104.7 257.3h.01M107.9 257.3h.01M109.5 258.7h.01M105.1 260.5h.01M120.5 250.3h.01M105.1 259.9h.01M115.9 254.8h.01M123.8 249.7h.01M114.0 253.4h.01M102.7 253.5h.01M110.3 251.6h.01M109.0 252.2h.01M122.2 250.0h.01M105.8 258.2h.01M109.2 257.8h.01M119.5 249.8h.01M111.4 256.2h.01M112.0 258.2h.01M113.6 252.9h.01M103.8 256.5h.01M120.8 249.8h.01M121.3 250.6h.01M122.1 249.9h.01M115.6 253.5h.01M118.5 252.9h.01M117.2 251.5h.01M108.5 257.3h.01M119.0 253.3h.01M120.7 252.1h.01M119.6 250.9h.01M111.1 254.5h.01M112.3 253.6h.01M116.3 251.8h.01M112.8 253.5h.01M106.9 252.9h.01M112.5 254.9h.01M110.9 253.6h.01M102.6 254.7h.01M121.5 246.0h.01M119.4 249.9h.01M120.6 251.5h.01M115.2 253.8h.01M110.0 258.4h.01M120.8 250.6h.01M109.0 256.9h.01M124.1 248.7h.01M119.3 250.1h.01M116.2 255.3h.01M112.2 254.8h.01M118.9 247.6h.01M111.5 255.3h.01M110.8 254.3h.01M116.7 251.3h.01M120.3 250.8h.01M120.8 249.3h.01M120.9 249.4h.01M119.4 252.7h.01M113.7 251.2h.01M113.5 252.7h.01M106.9 254.8h.01M114.4 254.6h.01M121.5 251.2h.01M105.1 259.2h.01M121.8 246.8h.01M118.1 250.3h.01M106.9 256.0h.01M122.5 250.5h.01M124.0 247.6h.01M118.4 252.4h.01M109.6 251.5h.01M112.5 254.1h.01M116.7 253.7h.01M112.3 255.2h.01M105.6 255.4h.01M123.0 249.9h.01M118.0 251.8h.01M120.3 250.2h.01M116.7 252.5h.01M118.8 252.0h.01M105.3 256.9h.01M117.5 252.0h.01M106.3 260.9h.01M104.7 256.5h.01M105.8 261.5h.01M120.2 249.5h.01M114.7 254.6h.01M120.2 247.1h.01M110.8 257.3h.01M117.1 253.5h.01M122.7 248.0h.01M104.4 257.4h.01M107.7 256.5h.01M117.9 251.7h.01M122.1 245.1h.01M117.3 252.4h.01M112.4 253.6h.01M108.7 256.5h.01M104.9 256.3h.01M102.8 255.3h.01M114.3 256.6h.01M111.1 255.6h.01M117.8 254.8h.01M119.8 255.5h.01M120.4 252.0h.01M104.2 255.7h.01M115.0 249.8h.01M115.1 250.7h.01M115.4 253.4h.01M106.7 258.2h.01M111.3 254.6h.01M113.1 253.1h.01M117.2 253.1h.01M125.2 249.2h.01M122.1 254.5h.01M115.4 258.1h.01M108.9 257.5h.01M108.4 254.3h.01M115.8 254.5h.01M116.6 252.0h.01M115.8 253.9h.01M110.6 255.2h.01M120.0 250.5h.01M116.9 251.2h.01M121.7 251.5h.01M117.1 254.7h.01M117.0 253.0h.01M117.3 255.7h.01M124.7 249.1h.01M107.4 258.1h.01M117.2 249.5h.01M119.1 252.8h.01M107.1 255.9h.01M118.5 250.7h.01M122.9 251.2h.01M108.0 259.0h.01M118.9 250.0h.01M111.5 255.4h.01M119.3 251.9h.01M117.8 250.0h.01M111.5 252.8h.01M107.6 254.1h.01M109.4 261.2h.01M109.7 255.9h.01M118.9 253.0h.01M119.8 249.2h.01M108.3 254.4h.01M114.2 250.6h.01M122.1 251.9h.01M119.8 252.3h.01M119.3 253.0h.01M105.2 258.9h.01M116.5 257.6h.01M117.9 253.0h.01M122.9 251.7h.01M107.8 257.6h.01M111.0 251.0h.01M123.9 246.9h.01M111.8 255.9h.01M121.9 245.7h.01M109.3 255.7h.01M116.2 251.7h.01M115.3 259.5h.01M108.6 267.0h.01M108.5 267.5h.01M114.2 262.3h.01M115.7 261.8h.01M107.7 262.6h.01M106.6 269.9h.01M107.5 255.2h.01M115.8 259.3h.01M116.8 264.7h.01M112.5 259.7h.01M110.6 263.5h.01M113.4 258.8h.01M104.0 266.4h.01M118.2 261.3h.01M107.8 269.9h.01M120.3 261.8h.01M107.7 262.5h.01M117.5 253.1h.01M105.8 272.1h.01M103.3 262.3h.01M109.0 264.3h.01M120.5 260.7h.01M106.2 264.9h.01M118.2 266.6h.01M106.5 263.7h.01M105.3 268.1h.01M106.1 262.8h.01M113.4 265.6h.01M106.6 261.8h.01M107.2 266.1h.01M103.2 265.3h.01M111.8 265.4h.01M112.3 263.3h.01M112.2 258.5h.01M123.0 263.4h.01M112.5 263.8h.01M109.4 263.2h.01M110.7 259.0h.01M111.0 255.7h.01M117.4 260.4h.01M114.1 255.2h.01M113.4 268.8h.01M109.8 266.8h.01M107.7 263.2h.01M107.8 263.0h.01M109.9 274.4h.01M106.0 267.7h.01M110.6 266.4h.01M109.7 262.1h.01M107.5 259.8h.01M111.1 260.7h.01M112.4 264.1h.01M109.9 269.6h.01M112.6 259.2h.01M111.1 264.9h.01M112.8 261.1h.01M102.8 256.7h.01M108.9 268.7h.01M110.0 265.4h.01M110.9 264.4h.01M111.2 262.5h.01M116.9 255.3h.01M115.5 259.0h.01M110.3 262.3h.01M113.3 267.6h.01M114.0 259.0h.01M114.5 256.0h.01M113.8 259.5h.01M115.5 259.1h.01M113.3 261.7h.01M113.7 265.2h.01M108.2 255.3h.01M111.0 267.1h.01M114.0 266.5h.01M104.3 259.1h.01M112.1 255.6h.01M118.2 263.3h.01M114.0 265.5h.01M122.1 262.7h.01M110.8 267.1h.01M106.9 257.8h.01M109.1 262.1h.01M110.9 269.7h.01M105.4 266.2h.01M122.3 261.9h.01M118.8 256.8h.01M115.4 261.8h.01M114.5 264.3h.01M111.8 257.7h.01M116.5 260.2h.01M106.9 256.5h.01M102.9 267.4h.01M112.1 263.7h.01M103.5 266.5h.01M114.3 254.0h.01M114.6 255.3h.01M116.5 258.4h.01M112.3 256.2h.01M116.9 262.8h.01M119.8 265.2h.01M115.8 260.5h.01M111.3 261.9h.01M106.8 263.5h.01M107.4 260.4h.01M115.1 263.6h.01M114.8 258.8h.01M115.2 259.4h.01M113.7 260.9h.01M104.1 270.0h.01M115.6 267.8h.01M119.9 259.8h.01M111.2 261.1h.01M119.3 254.2h.01M107.6 259.8h.01M109.3 259.1h.01M111.3 262.8h.01M106.9 266.9h.01M110.2 262.1h.01M108.1 266.9h.01M121.7 258.8h.01M111.2 255.9h.01M122.9 258.3h.01M114.9 260.9h.01M106.6 262.1h.01M125.3 260.3h.01M110.2 258.8h.01M115.6 258.2h.01M103.4 265.4h.01M114.4 261.3h.01M106.9 263.8h.01M111.8 254.4h.01M120.8 260.5h.01M114.6 259.0h.01M104.5 265.1h.01M119.8 258.9h.01M103.9 266.0h.01M115.6 261.5h.01M112.4 265.2h.01M113.0 267.9h.01M107.4 256.1h.01M113.5 263.4h.01M122.2 253.7h.01M111.3 263.9h.01M104.6 263.0h.01M107.2 271.5h.01M104.4 260.4h.01M110.0 258.9h.01M113.9 262.4h.01M118.3 261.7h.01M112.5 261.7h.01M104.5 262.8h.01M104.7 264.4h.01M118.0 262.9h.01M120.8 259.5h.01M111.5 266.5h.01M104.3 266.7h.01M108.3 262.0h.01M117.2 264.5h.01M104.1 262.4h.01M113.4 254.9h.01M108.1 263.6h.01M109.4 270.9h.01M123.8 261.4h.01M105.8 263.9h.01M106.1 263.6h.01M107.2 261.2h.01M112.7 264.2h.01M108.6 268.6h.01M109.5 263.1h.01M106.3 257.8h.01M117.3 263.5h.01M111.4 261.6h.01M113.2 259.2h.01M105.0 270.3h.01M116.1 263.2h.01M115.4 260.3h.01M102.8 264.0h.01M112.9 259.1h.01M118.4 262.4h.01M116.0 262.6h.01M108.6 262.7h.01M112.0 254.2h.01M117.6 265.9h.01M112.9 258.7h.01M112.8 266.8h.01M115.9 261.1h.01M125.2 261.7h.01M111.2 267.8h.01M110.8 264.0h.01M106.4 260.7h.01M117.5 260.7h.01M111.4 258.1h.01M108.9 261.8h.01M114.2 256.0h.01M110.9 265.4h.01M113.6 259.2h.01M115.1 261.0h.01M111.7 267.1h.01M119.7 263.4h.01M121.7 267.1h.01M106.8 261.4h.01M106.7 291.4h.01M113.7 292.2h.01M102.7 283.1h.01M104.5 278.8h.01M104.3 295.9h.01M121.9 295.4h.01M113.1 285.5h.01M110.2 268.8h.01M120.1 265.3h.01M120.5 262.2h.01M112.3 266.6h.01M106.8 282.6h.01M121.4 256.9h.01M120.5 300.1h.01M106.9 301.4h.01M122.8 290.7h.01M103.8 268.8h.01M125.0 291.0h.01M117.3 292.4h.01M106.3 295.9h.01M113.6 273.4h.01M125.0 304.5h.01M107.4 278.3h.01M113.8 281.3h.01M114.9 277.7h.01M120.8 285.0h.01M107.1 279.2h.01M125.2 252.4h.01M114.7 269.5h.01M103.8 280.3h.01M123.3 299.3h.01M112.8 263.2h.01M121.7 265.5h.01M117.3 263.7h.01M122.6 267.0h.01M110.2 287.1h.01M122.0 271.2h.01M114.4 302.3h.01M116.9 280.1h.01M122.0 276.7h.01M121.5 272.1h.01M122.7 270.8h.01M124.5 296.6h.01M109.1 261.7h.01M120.6 258.2h.01M115.6 261.9h.01M114.3 289.3h.01M103.4 270.6h.01M108.3 295.5h.01M118.7 266.2h.01M117.1 255.8h.01M103.7 288.6h.01M113.6 270.9h.01M108.1 283.0h.01M123.5 265.7h.01M104.8 285.3h.01M104.2 263.7h.01M119.5 262.2h.01M123.5 267.9h.01M110.3 290.4h.01M119.3 258.8h.01M114.0 259.7h.01M119.8 261.0h.01M124.0 290.3h.01M109.8 295.0h.01M104.1 271.3h.01M124.9 254.1h.01M118.6 268.5h.01M111.7 294.7h.01M117.9 293.0h.01M119.4 303.5h.01M110.6 277.8h.01M117.2 264.5h.01M103.6 300.7h.01M124.8 266.5h.01M108.1 294.9h.01M107.5 270.5h.01M116.4 267.2h.01M104.3 261.6h.01M122.0 277.5h.01M115.7 304.2h.01M116.2 261.2h.01M112.4 285.0h.01M119.4 269.7h.01M102.6 271.2h.01M109.5 263.6h.01M112.6 300.8h.01M103.7 267.4h.01M102.7 303.4h.01M105.6 267.1h.01M121.5 291.6h.01M116.0 294.5h.01M103.5 286.1h.01M112.4 303.7h.01M104.4 291.8h.01M113.4 286.4h.01M105.9 286.5h.01M109.7 293.7h.01M124.6 273.9h.01M115.4 261.7h.01M119.9 282.7h.01M106.0 272.9h.01M104.1 267.3h.01M102.8 304.7h.01M108.9 276.7h.01M105.3 304.6h.01M110.2 290.8h.01M109.0 293.3h.01M109.0 303.8h.01M116.2 267.0h.01M108.1 288.5h.01M123.4 284.1h.01M123.6 264.8h.01M116.5 284.1h.01M108.7 265.1h.01M118.3 301.3h.01M106.6 301.5h.01M116.5 287.3h.01M104.7 278.8h.01M105.4 288.4h.01M114.7 280.6h.01M108.6 278.9h.01M118.6 298.7h.01M123.8 288.4h.01M117.3 266.2h.01M111.3 280.6h.01M121.6 271.0h.01M110.4 293.6h.01M118.5 264.3h.01M115.4 283.3h.01M112.5 302.0h.01M109.0 285.9h.01M124.0 258.6h.01M114.5 273.7h.01M112.7 304.7h.01M118.0 261.8h.01M124.1 298.7h.01M104.3 295.0h.01M121.7 304.8h.01M122.9 279.4h.01M103.3 278.3h.01M114.5 283.8h.01M117.7 304.2h.01M114.9 291.1h.01M115.5 301.2h.01M106.7 296.6h.01M106.1 301.4h.01M109.6 269.9h.01M114.2 286.1h.01M114.9 305.0h.01M108.3 269.0h.01M110.7 296.6h.01M104.4 272.3h.01M107.7 287.0h.01M115.0 272.0h.01M112.5 286.4h.01M120.6 267.2h.01M105.0 297.3h.01M105.0 275.2h.01M105.5 301.7h.01M122.1 267.5h.01M117.0 273.9h.01M118.7 262.6h.01M108.9 276.9h.01M113.9 275.9h.01M122.1 267.1h.01M110.8 259.8h.01M106.6 285.2h.01M109.4 271.7h.01M103.8 262.8h.01M116.4 303.1h.01M116.9 273.9h.01M122.9 269.5h.01M122.5 254.4h.01M114.3 302.5h.01M111.0 278.3h.01M113.8 273.7h.01M120.6 261.9h.01M103.6 300.7h.01M105.4 300.9h.01M115.3 280.2h.01M106.3 276.6h.01M119.6 284.4h.01M121.6 276.9h.01M123.0 293.5h.01M110.1 297.7h.01M109.3 273.8h.01M107.4 275.9h.01M102.9 281.4h.01M118.4 282.1h.01M114.5 262.1h.01M104.6 273.4h.01M108.0 273.4h.01M123.4 302.4h.01M107.4 263.2h.01M110.2 268.1h.01M104.6 288.8h.01M104.7 273.9h.01M104.9 296.4h.01M118.9 263.6h.01M108.8 272.1h.01M108.7 277.6h.01M105.8 266.8h.01M115.9 275.7h.01M104.8 284.5h.01M117.6 285.6h.01M112.1 280.4h.01M109.9 299.7h.01M112.9 290.1h.01M118.2 275.4h.01M106.0 272.8h.01M118.9 271.6h.01M105.7 275.5h.01M118.9 302.5h.01M120.0 261.5h.01M108.0 287.5h.01M108.8 269.7h.01M122.0 304.2h.01M122.1 292.6h.01M114.7 263.8h.01M110.8 266.8h.01M115.4 262.7h.01M122.8 272.2h.01M113.8 302.6h.01M118.0 289.4h.01M103.4 301.3h.01M112.6 304.5h.01M111.4 282.4h.01M112.2 303.8h.01M120.0 279.8h.01M107.6 262.5h.01M108.8 300.5h.01M109.7 293.5h.01M122.7 287.1h.01M113.6 295.1h.01M123.7 287.2h.01M118.6 296.1h.01M103.3 271.1h.01M119.9 277.0h.01M113.9 266.3h.01M120.9 292.6h.01M103.9 267.1h.01M111.9 275.6h.01M120.3 294.1h.01M121.0 259.7h.01M106.9 269.0h.01M120.3 257.0h.01M123.4 257.1h.01M107.0 270.2h.01M124.4 267.2h.01M107.3 260.9h.01M105.5 302.1h.01M117.2 274.7h.01M119.1 299.7h.01M103.9 296.0h.01M103.9 300.5h.01M115.5 302.6h.01M125.1 272.0h.01M111.8 297.4h.01M107.1 291.1h.01M111.8 296.0h.01M113.4 297.4h.01M104.6 294.0h.01M108.5 296.8h.01M105.4 288.5h.01M112.0 291.5h.01M111.3 299.5h.01M113.0 298.8h.01M113.5 291.2h.01M108.0 297.8h.01M114.8 294.6h.01M105.4 295.0h.01M115.1 297.5h.01M104.9 293.9h.01M111.8 299.3h.01M112.2 301.2h.01M110.6 297.7h.01M111.0 299.4h.01M110.0 299.1h.01M112.4 294.4h.01M111.7 296.2h.01M110.4 295.8h.01M110.8 296.9h.01M105.8 293.0h.01M110.2 293.5h.01M104.8 302.8h.01M109.4 291.7h.01M112.8 296.8h.01M111.4 296.2h.01M109.0 297.4h.01M105.3 297.2h.01M113.1 298.8h.01M112.2 296.4h.01M113.9 298.7h.01M103.5 294.2h.01M105.5 294.4h.01M116.0 293.8h.01M112.8 292.6h.01M104.8 292.6h.01M109.3 293.9h.01M102.5 293.6h.01M110.0 294.6h.01M105.9 290.8h.01M107.6 298.5h.01M113.5 303.4h.01M109.6 293.9h.01M106.5 298.4h.01M108.2 294.7h.01M105.6 295.8h.01M111.9 293.1h.01M111.3 294.9h.01M111.6 292.9h.01M107.7 293.1h.01M109.9 294.2h.01M105.7 295.4h.01M112.9 298.4h.01M110.0 295.1h.01M114.1 292.7h.01M117.8 299.0h.01M111.2 297.2h.01M115.6 291.3h.01M107.2 296.3h.01M109.1 298.4h.01M111.1 293.2h.01M106.1 301.2h.01M107.2 292.1h.01M107.2 294.4h.01M111.8 295.5h.01M105.0 301.2h.01M115.0 296.1h.01M104.5 297.4h.01M111.3 295.5h.01M113.2 301.5h.01M109.4 295.5h.01M110.7 296.7h.01M109.4 301.1h.01M113.4 300.1h.01M105.8 297.9h.01M108.8 290.5h.01M114.8 291.2h.01M106.1 288.8h.01M106.2 297.2h.01M114.8 299.2h.01M111.0 299.0h.01M108.8 295.8h.01M109.5 293.1h.01M114.3 291.1h.01M110.6 296.4h.01M104.9 291.8h.01M111.3 293.3h.01M110.5 294.6h.01M110.0 294.4h.01M109.3 298.8h.01M104.9 292.8h.01M111.3 297.3h.01M112.3 296.8h.01M107.6 295.6h.01M105.7 298.4h.01M110.5 292.2h.01M111.8 299.4h.01M112.1 289.7h.01M112.4 297.9h.01M117.6 298.4h.01M115.9 296.8h.01M104.2 289.8h.01M113.9 297.9h.01M110.7 300.5h.01M109.7 296.5h.01M111.1 296.2h.01M108.4 295.9h.01M111.5 300.2h.01M110.1 297.3h.01M111.9 293.1h.01M106.8 296.4h.01M108.9 292.8h.01M108.2 290.5h.01M113.6 297.6h.01M113.9 288.5h.01M109.9 296.9h.01M107.6 298.8h.01M109.9 297.4h.01M109.9 295.1h.01M108.5 296.1h.01M114.3 295.6h.01M107.6 293.9h.01M112.8 300.7h.01M112.0 297.4h.01M112.4 292.6h.01M108.6 297.6h.01M111.2 302.3h.01M108.4 298.9h.01M115.2 293.0h.01M109.6 298.2h.01M111.4 297.2h.01M115.0 300.1h.01M106.9 293.7h.01M107.1 295.3h.01M112.4 296.7h.01M113.1 298.0h.01M108.1 289.6h.01M108.4 292.1h.01M105.7 294.9h.01M116.3 294.3h.01M112.5 298.1h.01M110.2 293.1h.01M116.1 296.0h.01M116.5 297.0h.01M109.7 296.0h.01M117.4 239.5h.01M121.8 240.8h.01M121.5 243.0h.01M114.5 245.7h.01M122.9 243.2h.01M105.0 247.2h.01M108.8 242.5h.01M114.6 236.4h.01M124.6 237.2h.01M122.4 245.2h.01M117.5 246.1h.01M116.3 236.9h.01" stroke="#c2343a" stroke-opacity="0.5" stroke-width="0.9" stroke-linecap="round" fill="none"/>
<ellipse cx="104.9" cy="257.9" rx="3.25" ry="3.91" fill="#e0b8b8" opacity="0.43" transform="rotate(0 104.9 257.9)" filter="url(#fb2)"/>
<ellipse cx="104.9" cy="257.9" rx="2.6" ry="3.4" fill="#dcdcdf" opacity="0.95" transform="rotate(0 104.9 257.9)" filter="url(#fb)"/>
<path d="M163.7 262.5h.01M170.6 257.5h.01M167.2 248.6h.01M166.7 260.2h.01M166.2 262.7h.01M166.0 260.1h.01M164.7 259.3h.01M166.5 263.9h.01M164.8 255.7h.01M165.6 257.6h.01M165.9 265.1h.01M165.4 267.4h.01M169.8 260.1h.01M166.3 260.5h.01M164.4 262.3h.01M167.9 258.8h.01M165.4 262.1h.01M164.1 253.0h.01M164.0 262.3h.01M169.9 256.3h.01M165.1 262.3h.01M167.0 257.2h.01M164.9 264.3h.01M166.6 261.3h.01M164.3 256.1h.01M169.6 260.7h.01M163.5 261.4h.01M165.9 264.7h.01M169.0 256.2h.01M164.7 259.9h.01M165.4 262.2h.01M165.9 267.1h.01M163.9 254.2h.01M165.2 257.8h.01M165.2 257.4h.01M164.3 261.7h.01M166.4 258.6h.01M170.2 259.3h.01M166.6 264.7h.01M166.4 263.4h.01M165.5 256.8h.01M170.3 254.4h.01M168.5 265.1h.01M167.0 260.2h.01M169.2 255.9h.01M166.3 261.3h.01M167.0 253.4h.01M167.2 258.2h.01M170.1 268.2h.01M165.7 250.3h.01M168.2 269.6h.01M165.4 266.9h.01M170.5 262.1h.01M167.1 267.1h.01M164.1 262.0h.01M166.8 261.4h.01M167.9 268.6h.01M170.5 260.5h.01M166.0 265.4h.01M167.7 264.2h.01M169.4 249.7h.01M166.8 261.6h.01M167.6 256.0h.01M164.4 259.8h.01M166.8 258.0h.01M167.4 265.2h.01M167.0 259.8h.01M171.6 264.5h.01M165.6 260.0h.01M165.1 259.5h.01M165.6 256.6h.01M168.4 258.5h.01M164.4 257.9h.01M163.9 259.5h.01M166.1 256.5h.01M169.1 260.9h.01M168.8 260.5h.01M168.2 253.9h.01M165.8 263.9h.01M165.2 261.5h.01M168.2 256.6h.01M167.6 259.6h.01M167.6 258.3h.01M166.5 264.2h.01M168.7 260.7h.01M168.2 260.5h.01M167.5 256.1h.01M166.1 265.8h.01M167.0 261.9h.01M170.8 264.6h.01M171.4 264.3h.01M171.1 255.8h.01M168.0 260.4h.01M167.3 260.7h.01M167.9 260.2h.01M171.1 258.6h.01M166.9 253.4h.01M166.2 262.3h.01M167.9 262.8h.01M167.1 261.0h.01M165.4 266.6h.01M164.0 259.3h.01M165.9 259.9h.01M165.1 264.5h.01M166.8 260.1h.01M166.3 257.3h.01M168.0 262.9h.01M172.9 253.8h.01M166.1 256.5h.01M165.5 254.8h.01M164.1 263.2h.01M165.2 258.9h.01M169.0 261.1h.01M167.5 259.6h.01M167.0 258.3h.01M170.2 259.6h.01M165.1 258.7h.01M167.4 257.7h.01M170.8 261.8h.01M168.4 260.7h.01M164.0 258.3h.01M168.1 260.8h.01M165.3 254.7h.01M164.5 262.2h.01M170.4 259.1h.01M165.8 252.7h.01M165.5 261.5h.01M164.7 260.7h.01M165.1 257.9h.01M165.4 265.7h.01M170.0 265.3h.01M163.8 255.5h.01M164.1 259.1h.01M168.8 266.1h.01M165.4 258.3h.01M169.0 253.4h.01M169.1 268.2h.01M169.8 256.7h.01M167.5 262.2h.01M164.1 266.4h.01M166.4 264.5h.01M166.3 258.1h.01M165.5 262.7h.01M168.0 265.1h.01M168.7 259.3h.01M170.0 262.5h.01M166.1 261.1h.01M165.7 256.4h.01M167.3 258.2h.01M166.4 259.3h.01M163.2 259.5h.01M167.5 256.3h.01M168.5 257.8h.01M172.4 250.6h.01M169.8 266.7h.01M167.3 256.3h.01M166.4 267.8h.01M166.1 261.9h.01M166.8 258.6h.01M167.6 265.7h.01M171.3 254.9h.01M165.8 258.9h.01M169.5 257.9h.01M164.8 258.0h.01M166.8 262.4h.01M167.9 255.8h.01M163.4 271.5h.01M166.7 256.4h.01M170.0 256.0h.01M165.8 264.6h.01M168.2 266.9h.01M167.1 263.0h.01M164.7 259.6h.01M170.7 261.9h.01M166.6 256.1h.01M169.2 268.1h.01M167.7 266.4h.01M168.0 256.9h.01M168.6 257.9h.01M167.4 265.3h.01M167.1 260.7h.01M163.4 257.8h.01M166.7 254.2h.01M168.8 263.2h.01M167.3 257.2h.01M163.8 256.5h.01M167.1 258.6h.01M164.3 254.9h.01M165.9 259.7h.01M168.0 253.7h.01M166.6 262.5h.01M168.1 256.9h.01M164.5 259.6h.01M166.4 262.1h.01M166.5 261.1h.01M168.7 252.5h.01M165.9 257.6h.01M165.6 256.3h.01M166.1 262.5h.01M167.1 260.7h.01M165.2 268.2h.01M167.4 263.1h.01M165.3 262.0h.01M164.1 259.2h.01M169.7 260.0h.01M170.6 262.7h.01M164.5 260.8h.01M164.3 260.6h.01M169.8 255.2h.01M168.9 251.9h.01M164.2 262.4h.01M165.6 266.9h.01M164.3 254.6h.01M167.3 253.5h.01M164.9 257.5h.01M163.3 259.0h.01M166.2 258.5h.01M167.7 256.3h.01M166.3 252.7h.01M164.0 262.4h.01M170.8 261.6h.01M165.6 258.2h.01M170.1 254.7h.01M164.1 265.7h.01M168.6 262.1h.01M165.9 257.4h.01M165.3 257.3h.01M165.0 260.7h.01M166.7 259.7h.01M166.0 258.2h.01M168.4 256.8h.01M168.0 258.0h.01M169.6 264.1h.01M169.1 268.8h.01M166.4 258.2h.01M166.8 254.8h.01M167.3 258.5h.01M170.5 250.6h.01M167.8 257.8h.01M167.1 269.1h.01M163.8 260.8h.01M168.2 257.1h.01M169.0 263.4h.01M166.1 266.1h.01M166.7 260.8h.01M167.5 259.4h.01M166.8 255.2h.01M173.8 257.7h.01M167.3 266.0h.01M172.0 259.9h.01M168.0 261.0h.01M164.6 260.9h.01M164.1 264.0h.01M171.2 256.6h.01M167.3 257.5h.01M170.9 258.1h.01M166.1 261.8h.01M170.0 258.3h.01M166.3 255.0h.01M165.9 267.5h.01M169.4 254.6h.01M168.4 254.7h.01M171.5 260.0h.01M166.0 264.6h.01M165.7 259.2h.01M168.0 264.1h.01M168.5 264.9h.01M167.0 255.6h.01M168.4 252.2h.01M166.0 257.1h.01M165.3 261.4h.01M167.4 269.2h.01M168.2 257.6h.01M166.6 260.4h.01M166.9 255.7h.01M164.6 265.7h.01M163.3 256.2h.01M170.0 258.7h.01M163.6 262.6h.01M169.6 255.5h.01M164.3 256.3h.01M170.3 253.0h.01M163.2 260.6h.01M164.5 261.1h.01M167.8 255.6h.01M169.7 257.7h.01M170.6 263.2h.01M171.6 257.8h.01M169.9 260.3h.01M169.3 253.8h.01M171.2 263.8h.01M163.5 261.6h.01M169.3 255.7h.01M169.9 254.0h.01M164.7 259.1h.01M165.3 251.6h.01M166.8 262.2h.01M166.9 261.0h.01M167.1 258.2h.01M166.8 264.1h.01M170.0 262.2h.01M168.2 267.9h.01M165.1 257.9h.01M168.7 259.3h.01M168.3 258.3h.01M169.0 263.7h.01M168.6 257.5h.01M169.1 262.1h.01M168.2 258.1h.01M170.2 256.9h.01M168.5 262.8h.01M168.2 264.9h.01M169.7 261.1h.01M172.9 260.8h.01M168.9 255.6h.01M166.4 262.6h.01M165.2 257.4h.01M168.2 258.0h.01M164.9 262.7h.01M166.5 255.3h.01M170.3 261.8h.01M165.1 261.5h.01M169.4 259.8h.01M163.7 249.4h.01M167.3 259.6h.01M167.0 260.4h.01M165.1 258.3h.01M170.0 254.9h.01M165.0 256.2h.01M168.7 267.1h.01M165.2 262.2h.01M163.8 254.6h.01M170.9 256.6h.01M171.1 255.3h.01M166.3 259.1h.01M168.5 256.4h.01M164.1 256.2h.01M171.3 252.3h.01M163.7 259.2h.01M167.2 260.3h.01M168.2 254.9h.01M168.2 259.5h.01M166.8 256.3h.01M165.0 257.4h.01M171.6 263.1h.01M165.4 254.6h.01M165.5 261.4h.01M167.9 266.1h.01M166.8 265.4h.01M165.8 259.7h.01M170.0 256.9h.01M173.3 258.4h.01M171.3 256.9h.01M166.4 257.5h.01M167.3 263.2h.01M170.1 263.0h.01M167.4 255.9h.01M164.5 270.7h.01M163.5 263.6h.01M165.1 258.8h.01M169.2 256.0h.01M164.9 258.2h.01M168.6 261.3h.01M169.4 261.1h.01M165.6 259.0h.01M165.2 257.0h.01M165.5 266.0h.01M168.0 260.5h.01M164.5 259.6h.01M166.0 258.9h.01M168.3 262.7h.01M167.4 260.4h.01M163.4 262.0h.01M166.7 257.5h.01M168.1 251.7h.01M166.2 266.6h.01M164.9 260.5h.01M167.3 255.3h.01M168.6 264.9h.01M167.1 255.7h.01M164.7 261.2h.01M170.6 263.3h.01M168.5 264.8h.01M168.9 268.6h.01M167.7 263.0h.01M169.0 261.3h.01M171.9 262.4h.01M164.5 266.2h.01M169.2 262.4h.01M169.3 257.2h.01M163.8 266.4h.01M165.7 262.8h.01M164.7 267.8h.01M166.0 267.6h.01M169.3 256.7h.01M164.9 258.3h.01M165.1 263.1h.01M167.5 260.2h.01M169.1 259.5h.01M167.0 260.1h.01M170.0 266.1h.01M165.6 268.6h.01M167.2 264.1h.01M166.3 260.9h.01M167.7 264.1h.01M165.8 262.0h.01M168.4 264.3h.01M168.5 254.3h.01M171.3 256.9h.01M168.8 257.0h.01M166.0 258.1h.01M166.0 267.2h.01M166.3 258.1h.01M168.3 262.9h.01M166.7 262.4h.01M172.0 255.6h.01M164.8 267.4h.01M171.6 266.4h.01M174.0 266.7h.01M169.1 252.5h.01M170.3 258.3h.01M167.4 255.1h.01M167.0 253.5h.01M171.4 266.2h.01M166.7 254.0h.01M167.2 258.1h.01M165.8 263.3h.01M168.8 260.5h.01M170.1 263.3h.01M168.0 261.3h.01M167.0 251.3h.01M168.0 262.9h.01M166.4 254.7h.01M169.8 258.1h.01M166.7 256.9h.01M166.6 257.2h.01M164.5 261.2h.01M165.7 260.6h.01M167.1 259.7h.01M165.9 256.7h.01M167.9 263.9h.01M166.0 266.2h.01M167.3 264.7h.01M163.4 260.2h.01M165.7 253.5h.01M172.0 249.2h.01M166.0 265.9h.01M168.2 257.8h.01M170.7 265.6h.01M167.9 255.2h.01M177.5 254.6h.01M177.6 250.3h.01M180.2 255.7h.01M185.5 251.9h.01M167.4 255.0h.01M165.7 261.0h.01M184.3 251.1h.01M185.3 250.0h.01M166.9 262.7h.01M171.5 257.7h.01M178.8 256.3h.01M165.4 261.8h.01M178.0 255.4h.01M174.0 258.6h.01M171.3 254.4h.01M178.9 251.8h.01M174.0 259.9h.01M177.4 255.0h.01M172.2 257.7h.01M171.0 262.5h.01M169.2 262.3h.01M166.6 257.5h.01M185.7 253.2h.01M169.5 256.6h.01M183.5 248.8h.01M168.0 260.6h.01M165.6 261.4h.01M166.4 257.2h.01M183.2 251.5h.01M182.0 253.0h.01M182.3 247.0h.01M168.7 255.9h.01M175.9 257.4h.01M182.9 251.9h.01M172.5 257.8h.01M177.3 259.1h.01M179.6 256.5h.01M172.6 256.8h.01M184.4 254.6h.01M165.7 256.3h.01M183.2 253.2h.01M181.6 255.4h.01M179.3 253.6h.01M178.3 255.3h.01M171.8 262.5h.01M170.6 254.8h.01M185.3 250.4h.01M175.0 258.1h.01M173.4 253.9h.01M169.6 257.1h.01M180.1 249.5h.01M176.2 257.5h.01M179.5 256.2h.01M182.5 253.6h.01M175.9 254.4h.01M186.6 250.9h.01M168.5 254.9h.01M174.9 258.8h.01M167.1 254.4h.01M168.2 257.2h.01M180.6 250.5h.01M178.4 254.6h.01M186.3 253.0h.01M175.9 250.6h.01M184.9 251.7h.01M176.5 253.0h.01M183.3 249.2h.01M170.9 260.6h.01M172.9 256.7h.01M180.4 253.7h.01M186.5 250.1h.01M173.1 261.4h.01M166.7 260.5h.01M174.5 257.6h.01M179.7 254.9h.01M164.4 258.8h.01M175.4 254.6h.01M178.5 252.5h.01M175.6 252.7h.01M165.9 257.6h.01M185.3 254.9h.01M182.7 253.9h.01M179.5 257.0h.01M181.3 253.8h.01M182.6 250.7h.01M170.6 254.7h.01M176.8 249.3h.01M179.5 250.3h.01M184.5 249.5h.01M172.6 257.3h.01M169.7 261.6h.01M167.1 259.5h.01M177.1 254.7h.01M178.9 254.0h.01M180.0 253.4h.01M184.6 250.3h.01M174.5 253.9h.01M175.8 254.3h.01M181.5 250.5h.01M166.7 262.6h.01M176.4 258.5h.01M183.5 253.7h.01M180.8 251.3h.01M178.3 255.3h.01M177.2 257.5h.01M178.7 253.7h.01M172.8 262.3h.01M170.8 258.0h.01M169.0 260.9h.01M170.0 258.3h.01M165.6 259.3h.01M171.7 256.6h.01M186.2 254.5h.01M186.2 251.0h.01M180.8 252.2h.01M171.8 254.7h.01M175.5 256.5h.01M185.5 248.5h.01M174.3 255.8h.01M166.4 255.7h.01M186.3 251.2h.01M177.3 255.3h.01M177.2 250.3h.01M181.1 256.3h.01M183.7 252.5h.01M186.1 249.6h.01M164.5 257.8h.01M165.8 256.6h.01M175.9 259.2h.01M169.4 260.2h.01M175.7 255.4h.01M182.9 261.7h.01M186.4 255.3h.01M180.9 254.3h.01M182.5 254.5h.01M181.0 255.9h.01M168.3 258.1h.01M177.3 255.5h.01M180.6 255.1h.01M174.2 254.6h.01M166.9 260.2h.01M170.4 260.3h.01M175.0 258.5h.01M177.3 256.0h.01M174.4 253.5h.01M168.6 257.3h.01M178.9 254.0h.01M178.3 257.7h.01M178.6 256.4h.01M166.0 261.8h.01M173.3 256.8h.01M177.6 256.2h.01M176.5 251.4h.01M185.1 248.7h.01M174.8 258.0h.01M164.4 256.8h.01M184.1 250.6h.01M186.3 249.8h.01M179.2 253.9h.01M176.5 254.6h.01M172.7 257.3h.01M183.1 252.7h.01M166.5 259.8h.01M183.0 252.1h.01M165.2 257.9h.01M165.5 261.4h.01M181.0 250.3h.01M182.0 255.3h.01M177.1 255.2h.01M183.0 254.3h.01M176.8 253.9h.01M176.4 253.5h.01M178.7 252.2h.01M180.8 254.7h.01M174.5 256.7h.01M174.4 259.5h.01M167.4 262.3h.01M169.5 259.4h.01M171.2 265.5h.01M186.9 250.9h.01M183.1 250.4h.01M179.4 253.2h.01M165.4 260.9h.01M180.6 252.2h.01M167.5 258.5h.01M166.0 260.7h.01M183.2 251.4h.01M167.1 259.0h.01M174.5 256.2h.01M179.9 255.5h.01M171.8 255.7h.01M185.7 249.9h.01M179.3 253.3h.01M164.2 257.3h.01M183.6 253.4h.01M165.2 258.6h.01M164.7 259.9h.01M173.2 259.7h.01M166.8 263.5h.01M182.9 251.8h.01M167.2 255.8h.01M179.7 255.9h.01M185.8 251.6h.01M169.0 259.0h.01M175.5 256.2h.01M170.5 258.5h.01M170.7 256.8h.01M176.7 258.0h.01M176.7 250.6h.01M174.9 259.4h.01M178.2 258.8h.01M170.3 259.5h.01M181.5 256.0h.01M174.7 257.7h.01M179.5 253.4h.01M176.8 258.0h.01M165.6 259.3h.01M172.3 256.7h.01M164.2 258.2h.01M176.3 252.9h.01M183.5 251.8h.01M175.8 255.9h.01M184.2 255.4h.01M185.3 252.7h.01M174.8 260.5h.01M175.7 257.8h.01M173.6 258.7h.01M176.6 254.4h.01M176.1 255.2h.01M175.7 257.4h.01M166.2 257.7h.01M184.6 257.8h.01M168.1 260.2h.01M166.2 258.2h.01M184.0 253.9h.01M182.2 255.3h.01M181.4 251.0h.01M166.1 259.2h.01M180.6 257.8h.01M166.0 262.0h.01M169.4 259.1h.01M184.2 255.3h.01M166.1 257.4h.01M173.9 260.1h.01M183.2 254.1h.01M173.9 258.2h.01M187.0 251.7h.01M165.5 261.5h.01M182.1 257.7h.01M171.7 260.8h.01M171.0 260.5h.01M166.0 261.6h.01M165.1 258.4h.01M166.1 256.8h.01M175.5 255.8h.01M177.3 257.2h.01M172.5 256.7h.01M164.7 258.8h.01M165.7 255.9h.01M171.6 257.5h.01M183.2 258.1h.01M179.4 255.2h.01M164.4 258.6h.01M168.5 258.5h.01M180.2 247.1h.01M176.5 255.4h.01M184.7 249.7h.01M172.8 257.9h.01M165.5 261.7h.01M183.6 255.0h.01M183.4 253.1h.01M178.9 251.6h.01M166.8 262.2h.01M179.7 256.4h.01M168.4 260.5h.01M171.5 261.9h.01M172.8 256.7h.01M165.6 260.7h.01M168.7 259.1h.01M175.1 258.0h.01M174.0 258.0h.01M171.7 252.6h.01M182.8 249.5h.01M169.6 262.5h.01M176.0 258.6h.01M179.7 254.0h.01M171.1 258.8h.01M185.7 248.5h.01M174.7 255.8h.01M177.4 251.8h.01M177.9 253.8h.01M170.9 258.9h.01M185.0 255.3h.01M185.8 251.2h.01M183.6 253.3h.01M174.8 257.1h.01M178.2 253.3h.01M186.3 256.8h.01M178.2 254.2h.01M167.2 259.1h.01M183.0 252.4h.01M171.6 253.6h.01M181.4 252.6h.01M172.0 254.7h.01M183.1 256.9h.01M170.3 256.3h.01M170.2 259.1h.01M183.6 253.7h.01M167.1 258.6h.01M179.0 251.7h.01M177.4 256.3h.01M178.7 254.8h.01M166.3 259.5h.01M185.0 254.2h.01M185.3 253.0h.01M166.9 256.8h.01M185.5 253.0h.01M182.7 252.9h.01M178.7 255.6h.01M184.2 259.0h.01M181.3 252.2h.01M174.1 254.6h.01M170.2 258.5h.01M186.6 255.3h.01M177.6 251.9h.01M168.6 259.5h.01M183.3 253.0h.01M185.8 253.8h.01M171.1 261.1h.01M179.7 256.6h.01M171.3 257.4h.01M169.5 257.1h.01M178.8 252.1h.01M170.0 256.2h.01M173.9 256.4h.01M167.6 259.6h.01M165.3 257.7h.01M186.2 250.9h.01M170.0 259.0h.01M164.3 255.7h.01M168.8 259.4h.01M186.4 251.5h.01M184.6 254.9h.01M184.1 253.3h.01M167.9 260.3h.01M177.2 257.4h.01M183.7 252.2h.01M181.6 255.8h.01M179.7 255.3h.01M179.1 257.8h.01M167.0 259.0h.01M171.9 259.5h.01M166.4 258.0h.01M182.3 251.4h.01M171.4 258.4h.01M181.9 252.7h.01M171.8 255.0h.01M167.1 257.2h.01M164.1 257.2h.01M169.7 258.0h.01M172.7 259.8h.01M180.0 251.1h.01M185.7 250.5h.01M164.3 259.0h.01M185.6 252.8h.01M167.1 259.8h.01M168.0 260.6h.01M186.7 252.7h.01M168.3 256.4h.01M168.9 256.3h.01M181.0 253.5h.01M184.3 246.6h.01M185.4 250.3h.01M168.0 256.1h.01M178.8 252.7h.01M165.8 261.4h.01M178.9 256.5h.01M177.6 255.1h.01M180.4 248.4h.01M182.7 251.2h.01M177.9 257.3h.01M184.8 252.3h.01M174.7 259.1h.01M174.4 259.2h.01M179.2 259.2h.01M173.9 257.2h.01M165.9 256.8h.01M167.5 256.3h.01M164.7 260.1h.01M171.9 257.4h.01M173.4 252.4h.01M179.4 254.5h.01M184.9 252.4h.01M182.6 250.3h.01M166.7 258.2h.01M178.7 255.0h.01M167.3 259.4h.01M164.8 255.6h.01M180.9 254.8h.01M183.0 254.5h.01M171.4 256.5h.01M175.2 255.2h.01M185.8 254.8h.01M169.2 258.3h.01M181.0 257.4h.01M168.0 263.3h.01M167.4 264.2h.01M186.2 251.7h.01M183.2 251.2h.01M174.4 255.3h.01M168.6 260.3h.01M176.9 254.7h.01M178.8 248.7h.01M180.2 252.4h.01M166.5 260.3h.01M170.3 260.3h.01M171.0 257.1h.01M175.4 254.0h.01M167.6 258.6h.01M186.5 250.1h.01M173.3 256.5h.01M167.8 259.9h.01M177.3 257.7h.01M182.2 253.7h.01M169.5 258.6h.01M176.7 263.1h.01M172.8 255.7h.01M183.1 253.2h.01M180.4 257.1h.01M180.0 254.9h.01M180.1 256.3h.01M165.2 260.7h.01M183.9 247.7h.01M165.5 255.5h.01M175.9 253.3h.01M166.9 263.0h.01M170.3 261.0h.01M176.9 257.6h.01M181.8 249.1h.01M180.4 257.5h.01M169.1 260.0h.01M185.7 251.6h.01M167.3 262.4h.01M174.4 257.4h.01M174.9 257.6h.01M184.4 252.9h.01M172.2 255.9h.01M186.5 251.2h.01M184.7 250.8h.01M167.9 259.7h.01M181.8 253.2h.01M170.6 254.1h.01M168.8 256.0h.01M175.5 261.0h.01M181.2 254.1h.01M172.5 256.5h.01M184.0 253.1h.01M182.7 255.7h.01M168.3 258.7h.01M172.0 256.2h.01M174.9 260.3h.01M181.6 248.8h.01M173.2 252.1h.01M174.3 260.0h.01M174.6 256.7h.01M176.6 255.7h.01M183.1 249.0h.01M181.4 253.6h.01M183.6 252.0h.01M172.6 257.5h.01M179.8 256.5h.01M186.3 254.7h.01M186.1 255.1h.01M179.8 257.2h.01M178.9 251.9h.01M168.7 260.3h.01M181.5 252.0h.01M181.6 252.0h.01M164.8 257.2h.01M167.0 258.1h.01M180.5 255.2h.01M184.7 255.3h.01M170.8 255.8h.01M182.2 250.4h.01M166.8 262.5h.01M172.5 256.1h.01M177.7 249.4h.01M165.6 260.9h.01M177.6 256.2h.01M167.0 259.6h.01M176.2 259.6h.01M175.6 253.4h.01M171.9 259.3h.01M179.8 256.6h.01M170.7 263.8h.01M179.9 251.5h.01M184.4 252.9h.01M171.4 256.9h.01M175.2 253.3h.01M171.3 259.9h.01M165.1 259.8h.01M167.1 258.5h.01M169.6 255.6h.01M177.1 255.8h.01M178.1 251.9h.01M167.4 260.6h.01M185.9 254.9h.01M172.8 258.8h.01M164.8 259.1h.01M177.2 251.6h.01M175.9 254.7h.01M169.2 258.5h.01M172.0 261.4h.01M169.1 260.5h.01M179.0 255.8h.01M180.1 255.3h.01M174.3 261.5h.01M185.1 252.8h.01M175.0 263.0h.01M165.0 260.7h.01M182.5 255.1h.01M170.6 260.5h.01M174.8 252.7h.01M169.8 261.8h.01M179.9 258.4h.01M174.0 260.4h.01M172.9 255.4h.01M182.0 258.2h.01M184.7 252.1h.01M180.6 252.7h.01M168.6 258.2h.01M178.1 256.2h.01M168.7 258.4h.01M178.5 261.5h.01M177.4 257.4h.01M175.1 255.1h.01M185.3 252.3h.01M174.8 251.7h.01M167.4 259.1h.01M166.8 262.7h.01M167.4 255.6h.01M173.5 255.0h.01M176.8 253.8h.01M181.1 250.6h.01M166.8 261.4h.01M174.4 254.0h.01M183.0 252.0h.01M177.4 258.3h.01M167.9 256.3h.01M178.4 255.4h.01M166.0 261.3h.01M179.2 257.4h.01M172.4 257.6h.01M174.6 257.4h.01M186.2 256.8h.01M165.8 260.8h.01M177.0 253.9h.01M169.1 259.7h.01M168.1 257.0h.01M181.8 250.7h.01M172.4 258.8h.01M186.6 254.0h.01M184.8 254.9h.01M184.2 250.0h.01M172.8 260.7h.01M183.9 252.1h.01M174.8 257.9h.01M181.8 253.8h.01M173.6 253.5h.01M174.4 258.2h.01M182.5 252.4h.01M174.1 254.2h.01M176.1 253.4h.01M166.0 259.9h.01M180.4 258.9h.01M174.0 255.8h.01M171.0 256.9h.01M169.0 258.1h.01M177.0 249.2h.01M167.7 261.0h.01M179.9 255.8h.01M173.9 254.1h.01M176.0 257.5h.01M185.3 254.8h.01M166.8 258.9h.01M176.0 255.4h.01M164.7 259.5h.01M179.2 254.4h.01M184.5 253.6h.01M169.3 258.2h.01M175.0 255.6h.01M174.5 256.1h.01M184.2 255.2h.01M168.9 258.4h.01M172.2 261.0h.01M168.0 258.7h.01M186.8 250.7h.01M173.0 256.2h.01M164.6 256.3h.01M180.2 259.4h.01M177.2 256.3h.01M175.1 255.5h.01M174.9 255.7h.01M176.9 261.1h.01M185.8 250.5h.01M182.7 253.9h.01M169.3 259.7h.01M171.6 255.3h.01M180.4 258.2h.01M180.9 251.0h.01M178.3 258.1h.01M173.4 256.7h.01M166.8 260.5h.01M175.6 257.5h.01M183.3 253.6h.01M173.0 257.6h.01M182.8 253.6h.01M175.7 254.1h.01M171.0 258.0h.01M186.3 256.9h.01M164.9 256.8h.01M169.1 263.7h.01M177.4 249.4h.01M175.5 258.4h.01M179.8 254.2h.01M165.3 260.2h.01M185.2 254.9h.01M165.2 257.6h.01M172.4 256.4h.01M181.4 251.3h.01M185.5 251.5h.01M176.9 256.2h.01M172.0 261.4h.01M177.7 256.1h.01M171.5 258.3h.01M173.1 259.4h.01M164.0 256.4h.01M170.7 256.6h.01M174.0 257.3h.01M169.9 259.7h.01M177.6 259.1h.01M173.5 252.2h.01M170.7 262.4h.01M185.8 253.2h.01M173.6 260.3h.01M185.4 252.2h.01M183.5 253.0h.01M179.0 251.9h.01M180.3 252.9h.01M168.6 262.5h.01M166.2 259.6h.01M169.3 260.9h.01M175.3 260.0h.01M181.1 249.0h.01M166.6 259.3h.01M171.5 256.0h.01M171.9 259.1h.01M166.7 257.3h.01M178.8 254.4h.01M165.8 261.2h.01M168.8 259.4h.01M170.6 260.4h.01M171.6 253.8h.01M168.0 261.0h.01M184.5 250.0h.01M176.0 255.6h.01M166.8 262.9h.01M168.6 257.6h.01M167.9 257.5h.01M186.0 252.2h.01M183.7 255.0h.01M171.8 255.5h.01M185.0 252.5h.01M175.4 249.5h.01M168.4 259.8h.01M171.2 256.8h.01M185.6 251.8h.01M185.1 255.8h.01M167.6 263.3h.01M171.2 256.6h.01M185.1 249.6h.01M169.9 260.1h.01M180.7 254.4h.01M169.1 255.4h.01M169.5 254.4h.01M166.7 259.9h.01M177.4 259.7h.01M180.1 255.4h.01M173.4 254.4h.01M167.9 263.8h.01M178.5 255.1h.01M168.9 258.7h.01M169.7 255.9h.01M184.5 255.0h.01M179.3 258.6h.01M184.2 252.2h.01M171.5 257.3h.01M173.1 254.0h.01M174.6 259.7h.01M182.5 251.6h.01M165.6 257.1h.01M177.8 258.9h.01M164.6 258.0h.01M171.5 257.4h.01M166.8 259.6h.01M178.7 253.0h.01M172.9 256.6h.01M165.8 260.8h.01M176.9 254.1h.01M177.3 254.3h.01M178.1 257.2h.01M178.4 254.4h.01M167.4 259.6h.01M165.1 260.9h.01M174.5 256.6h.01M177.3 256.1h.01M181.2 249.2h.01M174.4 254.4h.01M174.6 255.4h.01M183.3 248.2h.01M174.9 256.7h.01M174.8 255.7h.01M168.7 259.5h.01M175.4 255.2h.01M172.7 256.9h.01M167.9 260.5h.01M166.5 262.6h.01M181.0 257.4h.01M179.4 251.5h.01M173.2 260.3h.01M172.7 252.4h.01M180.1 250.4h.01M173.0 256.2h.01M168.3 259.5h.01M165.2 260.6h.01M177.8 256.0h.01M172.2 258.9h.01M183.8 253.1h.01M171.8 261.6h.01M179.6 252.6h.01M180.3 256.7h.01M166.6 256.2h.01M180.6 251.7h.01M172.7 261.3h.01M171.0 257.3h.01M169.9 260.5h.01M181.8 259.5h.01M168.2 257.1h.01M181.5 255.9h.01M166.4 258.1h.01M182.4 252.5h.01M180.7 250.8h.01M172.2 258.6h.01M166.0 262.9h.01M179.8 253.5h.01M185.2 249.7h.01M183.7 257.7h.01M171.4 262.6h.01M169.9 255.5h.01M182.5 255.7h.01M178.3 257.6h.01M181.7 252.3h.01M181.6 254.7h.01M180.1 256.7h.01M183.8 247.9h.01M169.0 263.6h.01M171.1 254.7h.01M169.3 258.9h.01M166.3 261.9h.01M166.5 258.9h.01M168.8 259.5h.01M173.4 258.6h.01M185.1 249.1h.01M185.1 254.4h.01M173.9 261.0h.01M184.5 249.1h.01M186.1 256.3h.01M183.0 255.2h.01M172.9 258.3h.01M173.1 255.3h.01M183.4 248.3h.01M183.6 255.2h.01M177.9 258.2h.01M181.0 249.4h.01M170.2 260.0h.01M175.7 252.8h.01M176.1 254.8h.01M180.5 252.2h.01M167.1 260.4h.01M168.6 259.1h.01M176.1 258.3h.01M185.6 249.7h.01M183.4 249.7h.01M177.7 254.9h.01M175.7 256.0h.01M183.0 254.7h.01M173.9 259.0h.01M178.7 251.0h.01M179.6 251.0h.01M181.8 253.9h.01M174.8 256.3h.01M186.2 250.5h.01M179.0 251.9h.01M170.2 260.3h.01M182.3 257.4h.01M181.3 248.8h.01M169.7 256.2h.01M173.7 259.9h.01M182.9 257.4h.01M181.4 251.0h.01M178.7 251.3h.01M184.3 252.0h.01M181.3 257.0h.01M173.9 256.8h.01M181.6 250.6h.01M171.9 258.2h.01M167.3 258.6h.01M167.6 261.8h.01M174.8 258.6h.01M184.6 248.6h.01M170.1 260.2h.01M170.6 258.8h.01M169.1 259.9h.01M176.2 257.9h.01M167.8 261.6h.01M165.7 259.5h.01M177.4 255.0h.01M177.6 257.2h.01M170.8 256.5h.01M177.2 254.1h.01M178.4 251.8h.01M182.7 256.2h.01M174.7 256.8h.01M172.0 258.8h.01M174.7 258.5h.01M168.8 256.0h.01M180.0 259.8h.01M185.5 249.1h.01M169.2 257.8h.01M166.1 260.7h.01M181.7 253.3h.01M182.3 252.0h.01M173.5 258.8h.01M174.6 257.3h.01M181.5 256.8h.01M170.7 257.9h.01M170.5 257.1h.01M180.7 253.7h.01M172.8 255.1h.01M184.0 251.4h.01M182.8 250.1h.01M182.0 254.9h.01M167.8 265.0h.01M167.3 257.7h.01M168.7 258.6h.01M169.6 262.9h.01M180.7 254.6h.01M171.0 262.6h.01M168.3 259.5h.01M175.1 256.3h.01M173.9 256.2h.01M170.1 259.0h.01M176.9 252.6h.01M180.2 260.7h.01M166.1 258.4h.01M170.6 259.8h.01M171.0 255.4h.01M166.9 262.7h.01M179.4 254.3h.01M181.3 256.9h.01M172.4 258.7h.01M169.0 258.8h.01M181.9 257.3h.01M179.2 257.3h.01M180.1 253.5h.01M177.2 253.8h.01M178.7 255.6h.01M174.6 251.0h.01M185.1 249.0h.01M168.9 261.9h.01M180.8 253.0h.01M171.8 262.5h.01M172.2 260.0h.01M180.1 257.6h.01M170.6 260.5h.01M168.8 260.6h.01M184.3 247.7h.01M165.3 260.1h.01M181.4 251.7h.01M168.6 258.5h.01M168.1 259.1h.01M184.4 248.3h.01M184.7 255.9h.01M181.2 256.9h.01M180.7 251.9h.01M178.8 254.6h.01M166.1 259.6h.01M171.5 258.2h.01M170.8 257.9h.01M173.6 256.7h.01M164.6 257.0h.01M184.6 254.6h.01M176.3 252.1h.01M168.4 262.0h.01M183.2 253.4h.01M185.7 253.2h.01M177.9 255.4h.01M177.5 257.9h.01M173.7 256.6h.01M169.4 255.1h.01M186.4 251.6h.01M182.9 251.3h.01M177.0 254.8h.01M174.9 255.9h.01M168.8 261.2h.01M185.2 255.6h.01M178.5 255.9h.01M179.4 254.4h.01M166.1 256.4h.01M169.9 259.9h.01M186.6 255.5h.01M180.3 256.1h.01M167.6 259.5h.01M182.7 249.2h.01M182.9 255.5h.01M171.5 261.0h.01M174.6 256.2h.01M179.3 251.7h.01M181.1 252.2h.01M166.4 262.2h.01M167.3 261.7h.01M184.0 254.8h.01M183.5 249.6h.01M175.8 255.2h.01M170.4 263.7h.01M174.3 256.2h.01M173.0 255.4h.01M179.7 255.2h.01M177.8 255.1h.01M168.1 255.4h.01M182.6 258.1h.01M170.8 254.1h.01M173.6 254.9h.01M184.6 251.8h.01M173.6 257.1h.01M175.0 253.7h.01M186.2 252.8h.01M178.7 256.4h.01M166.9 260.5h.01M167.4 260.3h.01M178.7 256.9h.01M166.5 260.2h.01M166.0 261.2h.01M178.1 258.8h.01M178.0 254.7h.01M167.2 255.3h.01M170.1 257.4h.01M169.6 261.6h.01M172.8 258.2h.01M186.4 252.8h.01M173.1 254.4h.01M178.9 258.9h.01M166.6 259.7h.01M184.3 252.9h.01M166.5 261.5h.01M178.8 255.7h.01M180.2 250.7h.01M184.4 251.2h.01M181.8 254.1h.01M179.3 252.3h.01M176.5 256.1h.01M178.8 259.6h.01M179.9 250.6h.01M167.7 258.2h.01M168.7 259.1h.01M167.8 260.7h.01M183.8 254.8h.01M184.9 249.6h.01M174.2 255.1h.01M170.9 259.5h.01M165.5 261.9h.01M172.6 256.2h.01M173.1 255.8h.01M181.8 252.3h.01M170.0 258.0h.01M176.3 258.9h.01M167.7 260.1h.01M184.4 253.4h.01M173.9 258.8h.01M176.8 254.8h.01M184.0 252.8h.01M179.2 254.6h.01M181.6 256.1h.01M170.1 260.0h.01M169.0 257.8h.01M183.9 251.9h.01M184.0 253.3h.01M184.1 249.2h.01M165.8 258.3h.01M170.3 260.9h.01M181.7 260.5h.01M172.2 262.7h.01M177.8 262.9h.01M181.1 262.1h.01M175.2 257.0h.01M169.7 265.8h.01M175.7 266.1h.01M175.3 259.5h.01M170.8 261.3h.01M165.0 268.3h.01M173.4 262.8h.01M166.2 272.0h.01M165.3 268.1h.01M178.5 264.6h.01M183.2 261.9h.01M177.2 266.1h.01M173.2 263.3h.01M174.2 262.1h.01M171.8 262.2h.01M172.4 262.0h.01M175.9 260.2h.01M172.0 268.2h.01M169.0 263.4h.01M173.9 265.7h.01M171.1 266.2h.01M173.5 262.7h.01M174.7 263.3h.01M179.7 262.7h.01M173.8 262.6h.01M173.4 261.5h.01M175.5 264.9h.01M173.6 261.2h.01M166.4 267.4h.01M184.0 261.1h.01M175.3 267.2h.01M168.0 266.8h.01M183.8 259.8h.01M185.7 263.8h.01M166.6 263.0h.01M172.1 260.2h.01M165.6 268.3h.01M172.0 264.0h.01M170.5 267.3h.01M182.9 263.2h.01M182.3 263.4h.01M175.6 262.5h.01M166.9 264.1h.01M176.1 266.2h.01M165.6 270.1h.01M181.2 263.7h.01M175.9 265.8h.01M180.1 266.6h.01M171.1 261.9h.01M176.7 270.5h.01M171.8 264.6h.01M174.2 265.7h.01M179.0 263.1h.01M183.0 256.7h.01M175.4 266.3h.01M174.8 258.4h.01M176.3 266.2h.01M173.9 263.1h.01M176.8 259.0h.01M174.8 266.2h.01M177.9 257.5h.01M177.6 260.0h.01M169.6 264.6h.01M163.3 263.0h.01M163.7 267.1h.01M179.7 263.0h.01M176.8 262.2h.01M172.6 265.1h.01M168.1 263.0h.01M174.2 268.0h.01M173.5 264.0h.01M166.6 266.9h.01M184.2 256.1h.01M168.6 262.0h.01M166.1 263.3h.01M175.1 266.3h.01M174.9 254.3h.01M171.5 267.9h.01M175.8 269.0h.01M172.0 266.4h.01M170.8 261.8h.01M179.3 266.0h.01M166.2 257.2h.01M168.2 258.3h.01M174.7 260.5h.01M169.1 264.8h.01M166.2 264.4h.01M180.8 259.2h.01M170.6 265.1h.01M178.3 261.1h.01M179.6 257.7h.01M174.4 263.7h.01M173.8 265.5h.01M163.4 266.5h.01M182.9 257.9h.01M165.9 274.7h.01M172.8 261.5h.01M185.8 268.9h.01M175.9 256.5h.01M178.5 267.2h.01M171.9 270.7h.01M182.7 258.4h.01M165.8 264.6h.01M172.3 272.3h.01M180.0 268.0h.01M169.7 260.2h.01M179.8 262.4h.01M174.2 264.5h.01M180.8 264.8h.01M173.3 269.6h.01M182.6 261.5h.01M185.3 255.5h.01M172.1 261.2h.01M170.5 260.5h.01M182.9 259.6h.01M176.6 264.6h.01M180.7 265.2h.01M186.4 255.4h.01M168.3 261.0h.01M173.8 262.9h.01M183.1 254.9h.01M164.0 273.9h.01M177.1 267.0h.01M167.1 263.9h.01M180.2 262.1h.01M169.0 261.9h.01M172.1 267.3h.01M178.7 270.3h.01M170.5 269.5h.01M170.9 263.3h.01M164.5 270.9h.01M177.5 258.9h.01M170.1 264.6h.01M175.3 262.9h.01M174.0 265.1h.01M173.1 271.2h.01M172.2 266.3h.01M181.6 262.1h.01M173.1 263.2h.01M179.9 268.5h.01M167.8 263.4h.01M172.9 261.4h.01M168.0 266.4h.01M163.4 265.7h.01M175.9 261.4h.01M172.9 268.1h.01M181.5 270.6h.01M178.1 269.7h.01M174.2 265.7h.01M177.5 262.0h.01M177.2 259.8h.01M171.7 270.5h.01M183.0 261.8h.01M165.5 263.9h.01M173.7 261.2h.01M171.8 263.7h.01M181.5 265.7h.01M180.8 267.9h.01M166.6 262.3h.01M185.7 259.9h.01M180.7 266.1h.01M180.4 257.2h.01M176.0 263.6h.01M170.9 269.5h.01M186.4 264.4h.01M181.6 265.2h.01M174.8 267.1h.01M168.8 258.3h.01M171.5 261.5h.01M176.7 263.9h.01M163.3 268.5h.01M180.3 266.1h.01M170.0 262.9h.01M166.6 262.3h.01M177.1 253.0h.01M174.8 259.4h.01M174.2 251.5h.01M170.5 264.4h.01M173.4 266.4h.01M185.0 254.4h.01M174.6 262.4h.01M180.1 263.3h.01M173.6 269.3h.01M182.5 262.0h.01M180.7 255.8h.01M179.3 260.6h.01M168.3 265.4h.01M169.7 261.2h.01M177.0 266.5h.01M184.4 261.9h.01M174.0 266.1h.01M183.1 260.9h.01M170.5 265.6h.01M176.7 266.3h.01M169.2 267.2h.01M180.7 262.8h.01M163.7 265.4h.01M178.8 266.3h.01M164.1 279.3h.01M176.3 293.8h.01M171.4 289.9h.01M186.6 294.1h.01M165.0 271.1h.01M179.1 283.0h.01M175.1 279.4h.01M179.9 280.3h.01M182.8 276.9h.01M181.0 269.4h.01M177.2 276.2h.01M178.5 307.1h.01M174.2 290.4h.01M173.3 307.3h.01M167.0 296.1h.01M179.8 299.0h.01M175.8 294.4h.01M166.5 292.2h.01M170.1 285.7h.01M168.9 268.7h.01M166.5 283.5h.01M174.9 285.9h.01M173.4 309.0h.01M177.0 309.3h.01M170.2 292.8h.01M185.3 273.5h.01M184.7 287.4h.01M164.6 299.2h.01M186.0 277.3h.01M179.0 273.2h.01M176.7 263.5h.01M167.6 298.1h.01M175.2 295.6h.01M182.1 290.9h.01M177.8 264.4h.01M169.2 304.4h.01M176.3 292.2h.01M178.2 281.0h.01M171.1 300.3h.01M182.0 296.0h.01M181.4 272.1h.01M182.9 296.2h.01M176.7 307.6h.01M184.1 290.8h.01M170.4 296.8h.01M166.5 304.7h.01M165.2 265.0h.01M173.3 304.0h.01M182.6 305.8h.01M174.5 306.8h.01M186.7 261.6h.01M179.1 281.2h.01M165.4 279.9h.01M166.2 306.5h.01M182.5 282.8h.01M185.9 285.1h.01M170.1 284.6h.01M186.7 263.7h.01M178.7 258.9h.01M163.6 282.2h.01M182.0 262.0h.01M181.0 294.1h.01M186.8 264.9h.01M176.6 264.8h.01M174.5 261.3h.01M167.3 286.5h.01M168.6 263.2h.01M166.5 270.4h.01M182.9 298.1h.01M178.2 265.2h.01M186.0 280.5h.01M170.1 309.2h.01M164.3 267.4h.01M177.9 269.9h.01M175.3 266.3h.01M170.7 303.6h.01M178.0 300.3h.01M186.2 266.7h.01M169.3 267.3h.01M185.7 295.9h.01M176.7 260.9h.01M169.6 271.1h.01M174.7 297.4h.01M164.4 293.9h.01M166.1 298.7h.01M171.5 284.4h.01M172.8 302.7h.01M186.8 284.3h.01M173.8 277.6h.01M171.8 271.5h.01M164.8 305.3h.01M163.5 271.9h.01M183.8 296.4h.01M174.1 293.0h.01M187.0 262.5h.01M181.3 301.9h.01M169.1 277.8h.01M167.7 264.3h.01M185.8 282.7h.01M163.7 268.1h.01M172.3 274.8h.01M171.3 275.1h.01M178.2 304.4h.01M186.0 286.5h.01M185.3 279.1h.01M174.6 301.9h.01M170.8 282.7h.01M174.8 289.8h.01M174.0 296.8h.01M177.4 297.7h.01M181.0 276.3h.01M164.8 275.4h.01M184.4 295.1h.01M183.7 291.3h.01M175.6 292.0h.01M177.2 300.3h.01M166.4 287.4h.01M184.8 276.0h.01M172.9 288.2h.01M185.4 308.1h.01M168.7 293.2h.01M184.5 293.2h.01M167.5 282.8h.01M183.2 294.3h.01M177.3 291.2h.01M179.6 305.7h.01M185.3 260.5h.01M183.8 259.5h.01M182.7 285.4h.01M174.8 287.4h.01M171.2 261.8h.01M185.3 262.0h.01M165.1 308.4h.01M165.4 299.4h.01M175.0 296.4h.01M170.9 303.7h.01M168.2 268.5h.01M168.9 267.3h.01M180.3 272.5h.01M165.7 301.8h.01M170.2 306.6h.01M164.2 301.8h.01M176.9 279.4h.01M170.4 296.4h.01M166.0 298.9h.01M164.8 275.1h.01M170.4 274.2h.01M170.9 278.1h.01M167.8 277.1h.01M178.8 279.9h.01M164.1 293.3h.01M180.3 290.7h.01M181.3 280.1h.01M184.0 276.2h.01M167.6 298.1h.01M166.8 277.5h.01M170.7 264.8h.01M165.2 306.1h.01M172.4 303.5h.01M164.2 282.8h.01M183.6 263.6h.01M180.9 286.3h.01M171.6 282.7h.01M168.6 279.8h.01M175.7 268.0h.01M177.0 279.0h.01M179.1 279.1h.01M173.0 290.3h.01M177.8 302.5h.01M168.6 283.0h.01M165.4 301.1h.01M169.9 301.2h.01M184.2 292.3h.01M171.1 274.3h.01M185.1 258.6h.01M181.7 286.2h.01M170.4 267.2h.01M183.3 280.4h.01M184.4 265.8h.01M175.2 306.8h.01M169.1 298.2h.01M165.2 293.1h.01M171.6 269.9h.01M182.2 283.4h.01M169.4 291.7h.01M166.1 297.6h.01M183.0 291.2h.01M182.3 294.8h.01M168.8 283.3h.01M176.6 264.6h.01M177.7 283.0h.01M175.3 262.0h.01M168.0 279.5h.01M179.3 274.4h.01M163.2 271.2h.01M172.5 261.1h.01M175.2 279.2h.01M174.4 273.2h.01M168.7 306.7h.01M172.8 281.5h.01M176.2 298.2h.01M174.5 295.5h.01M165.4 303.4h.01M175.2 291.2h.01M174.4 265.4h.01M168.4 267.6h.01M170.4 292.1h.01M174.8 281.6h.01M183.7 260.6h.01M165.0 278.3h.01M186.0 305.4h.01M178.1 302.7h.01M178.5 292.4h.01M165.4 298.5h.01M180.8 272.4h.01M169.8 308.5h.01M172.0 262.7h.01M172.3 277.6h.01M173.5 288.0h.01M170.6 278.3h.01M183.6 286.2h.01M171.4 291.6h.01M168.4 270.2h.01M163.5 305.6h.01M175.3 283.7h.01M172.7 289.6h.01M173.8 280.0h.01M184.2 276.3h.01M182.8 302.7h.01M167.3 295.6h.01M185.0 269.7h.01M163.8 307.3h.01M170.5 287.6h.01M178.9 288.7h.01M167.8 288.4h.01M176.0 286.7h.01M177.1 306.8h.01M165.4 274.6h.01M180.7 275.6h.01M171.8 308.3h.01M185.7 274.9h.01M166.4 289.9h.01M171.1 276.6h.01M170.2 290.5h.01M163.8 300.2h.01M174.7 308.3h.01M182.7 285.7h.01M176.8 275.7h.01M163.8 294.3h.01M184.3 279.0h.01M183.5 263.0h.01M186.0 301.0h.01M171.8 306.1h.01M179.0 306.1h.01M186.1 276.9h.01M168.4 275.4h.01M166.6 302.0h.01M164.7 293.4h.01M185.8 260.6h.01M164.7 284.2h.01M170.6 304.4h.01M181.7 292.6h.01M180.5 297.3h.01M179.9 290.8h.01M175.0 268.5h.01M169.5 293.4h.01M181.8 307.0h.01M172.4 291.9h.01M173.0 264.8h.01M169.0 278.7h.01M179.8 283.4h.01M168.8 276.1h.01M186.6 291.2h.01M174.8 282.4h.01M186.2 256.5h.01M166.7 287.1h.01M176.6 272.4h.01M186.1 280.1h.01M171.0 301.6h.01M177.4 295.8h.01M173.6 303.6h.01M174.0 304.3h.01M175.2 300.9h.01M181.4 299.9h.01M175.6 299.1h.01M173.1 303.3h.01M172.7 299.3h.01M172.2 298.3h.01M170.2 298.7h.01M173.8 307.7h.01M172.9 298.7h.01M173.8 307.1h.01M168.9 304.9h.01M170.3 299.9h.01M168.8 301.5h.01M173.5 307.0h.01M172.4 302.5h.01M172.2 295.3h.01M172.4 298.2h.01M176.4 300.8h.01M168.5 302.7h.01M174.0 300.9h.01M175.3 301.6h.01M171.1 299.8h.01M173.6 301.4h.01M167.2 301.5h.01M172.5 303.4h.01M179.6 300.9h.01M173.6 301.7h.01M173.5 298.9h.01M170.6 300.3h.01M173.7 303.7h.01M177.4 304.7h.01M175.0 301.7h.01M175.2 300.3h.01M177.2 304.8h.01M179.8 305.0h.01M181.7 297.1h.01M174.3 302.7h.01M175.7 302.7h.01M173.7 305.6h.01M176.6 304.7h.01M171.0 302.3h.01M179.3 299.9h.01M174.0 308.3h.01M174.9 298.4h.01M173.5 299.0h.01M170.6 306.1h.01M172.7 304.9h.01M174.6 305.2h.01M179.5 304.3h.01M175.9 300.3h.01M175.2 300.9h.01M173.0 301.9h.01M180.0 300.3h.01M174.9 302.9h.01M174.1 302.0h.01M175.6 301.2h.01M181.7 304.4h.01M174.9 300.9h.01M180.8 302.3h.01M172.3 300.7h.01M168.1 300.7h.01M174.3 303.0h.01M171.7 301.8h.01M178.0 304.3h.01M175.1 302.2h.01M175.1 307.1h.01M179.3 297.5h.01M175.9 301.7h.01M171.7 304.1h.01M176.4 299.7h.01M174.2 304.5h.01M179.3 298.4h.01M174.4 306.9h.01M179.2 296.6h.01M170.7 305.7h.01M170.7 302.1h.01M174.5 303.7h.01M174.4 302.9h.01M179.8 301.5h.01M174.8 303.3h.01M177.9 303.3h.01M173.4 305.2h.01M174.8 304.6h.01M168.9 299.0h.01M177.0 301.2h.01M172.1 307.5h.01M171.1 300.7h.01M178.4 305.9h.01M168.5 301.3h.01M176.6 306.2h.01M179.1 300.7h.01M174.3 298.4h.01M174.8 300.4h.01M176.9 298.8h.01M171.6 299.6h.01M174.8 294.7h.01M173.0 303.2h.01M175.0 303.4h.01M176.6 302.6h.01M178.8 300.7h.01M176.6 306.3h.01M175.3 299.2h.01M176.0 299.7h.01M172.9 299.4h.01M174.0 302.5h.01M175.0 295.5h.01M172.9 302.3h.01M176.5 305.0h.01M169.2 301.1h.01M167.8 301.2h.01M172.6 308.0h.01M172.4 307.0h.01M173.2 303.1h.01M173.9 304.4h.01M172.3 302.4h.01M170.4 301.7h.01M172.1 302.6h.01M171.6 303.7h.01M174.3 303.5h.01M176.0 302.1h.01M175.6 299.5h.01M173.4 300.1h.01M169.8 298.0h.01M178.3 300.4h.01M172.3 299.6h.01M168.5 301.9h.01M174.0 305.9h.01M174.9 302.3h.01M175.6 300.0h.01M172.9 304.3h.01M174.8 303.3h.01M176.5 301.9h.01M172.5 299.5h.01M175.9 296.9h.01M172.9 303.5h.01M170.2 302.8h.01M178.3 300.5h.01M173.1 306.7h.01M169.3 298.7h.01M175.5 298.3h.01M177.9 300.0h.01M174.9 306.2h.01M174.8 309.1h.01M179.4 297.0h.01M172.3 298.1h.01M169.7 299.9h.01M168.7 302.7h.01M167.3 306.5h.01M176.3 296.2h.01M175.6 299.4h.01M175.8 301.8h.01M171.7 301.9h.01M169.2 300.0h.01M174.9 301.8h.01M172.8 296.3h.01M170.5 301.5h.01M177.6 305.4h.01M176.4 305.4h.01M177.2 304.6h.01M177.3 298.9h.01M174.1 300.7h.01M170.1 306.5h.01M173.3 295.9h.01M175.4 304.7h.01M180.6 302.9h.01M173.6 298.6h.01M166.9 244.5h.01M182.1 247.1h.01M174.4 248.5h.01M179.3 244.8h.01M173.5 247.7h.01M170.8 241.1h.01M180.2 238.8h.01M168.5 242.3h.01M179.0 241.0h.01M174.2 246.4h.01M173.3 248.7h.01M179.1 241.0h.01" stroke="#c2343a" stroke-opacity="0.5" stroke-width="0.9" stroke-linecap="round" fill="none"/>
<ellipse cx="166.6" cy="259.6" rx="3.25" ry="3.91" fill="#e0b8b8" opacity="0.43" transform="rotate(0 166.6 259.6)" filter="url(#fb2)"/>
<ellipse cx="166.6" cy="259.6" rx="2.6" ry="3.4" fill="#dcdcdf" opacity="0.95" transform="rotate(0 166.6 259.6)" filter="url(#fb)"/>
<text x="16.0" y="172.9" font-size="9.5" stroke="#231f20" stroke-width="0.55" textLength="14.3" lengthAdjust="spacingAndGlyphs" transform="rotate(-90 16.0 172.9)">CD71</text>
<text x="13.8" y="274.7" font-size="9.5" stroke="#231f20" stroke-width="0.55" textLength="12.9" lengthAdjust="spacingAndGlyphs" transform="rotate(-90 13.8 274.7)">GlyA</text>
<text x="86" y="327.5" font-size="8.9" stroke="#231f20" stroke-width="0.37" textLength="45.3" lengthAdjust="spacingAndGlyphs">Forward scatter</text>
<line x1="269.5" y1="33.8" x2="269.5" y2="87.0" stroke="#231f20" stroke-width="1.3"/>
<line x1="268.9" y1="86.4" x2="380" y2="86.4" stroke="#231f20" stroke-width="1.3"/>
<line x1="266.3" y1="86.4" x2="269.5" y2="86.4" stroke="#231f20" stroke-width="1.3"/>
<text x="262.1" y="88.80000000000001" font-size="6.8" stroke="#231f20" stroke-width="0.19" text-anchor="end">0</text>
<line x1="266.3" y1="76.62" x2="269.5" y2="76.62" stroke="#231f20" stroke-width="1.3"/>
<text x="262.1" y="79.02000000000001" font-size="6.8" stroke="#231f20" stroke-width="0.19" text-anchor="end">10</text>
<line x1="266.3" y1="66.84" x2="269.5" y2="66.84" stroke="#231f20" stroke-width="1.3"/>
<text x="262.1" y="69.24000000000001" font-size="6.8" stroke="#231f20" stroke-width="0.19" text-anchor="end">20</text>
<line x1="266.3" y1="57.06" x2="269.5" y2="57.06" stroke="#231f20" stroke-width="1.3"/>
<text x="262.1" y="59.46" font-size="6.8" stroke="#231f20" stroke-width="0.19" text-anchor="end">30</text>
<line x1="266.3" y1="47.28000000000001" x2="269.5" y2="47.28000000000001" stroke="#231f20" stroke-width="1.3"/>
<text x="262.1" y="49.68000000000001" font-size="6.8" stroke="#231f20" stroke-width="0.19" text-anchor="end">40</text>
<line x1="266.3" y1="37.50000000000001" x2="269.5" y2="37.50000000000001" stroke="#231f20" stroke-width="1.3"/>
<text x="262.1" y="39.900000000000006" font-size="6.8" stroke="#231f20" stroke-width="0.19" text-anchor="end">50</text>
<line x1="269.5" y1="86.4" x2="269.5" y2="89.60000000000001" stroke="#231f20" stroke-width="1.3"/>
<text x="269.6" y="99.9" font-size="7.0" stroke="#231f20" stroke-width="0.19" text-anchor="middle">0</text>
<line x1="305.2" y1="86.4" x2="305.2" y2="89.60000000000001" stroke="#231f20" stroke-width="1.3"/>
<text x="305.2" y="99.9" font-size="7.0" stroke="#231f20" stroke-width="0.19" text-anchor="middle">5</text>
<line x1="341.0" y1="86.4" x2="341.0" y2="89.60000000000001" stroke="#231f20" stroke-width="1.3"/>
<text x="341.2" y="99.9" font-size="7.0" stroke="#231f20" stroke-width="0.19" text-anchor="middle">10</text>
<line x1="376.8" y1="86.4" x2="376.8" y2="89.60000000000001" stroke="#231f20" stroke-width="1.3"/>
<text x="377.0" y="99.9" font-size="7.0" stroke="#231f20" stroke-width="0.19" text-anchor="middle">15</text>
<text x="318" y="112.6" font-size="9.2" stroke="#231f20" stroke-width="0.34" textLength="13.9" lengthAdjust="spacingAndGlyphs">Days</text>
<text x="249.1" y="90.7" font-size="9.2" stroke="#231f20" stroke-width="0.34" textLength="61.5" lengthAdjust="spacingAndGlyphs" transform="rotate(-90 249.1 90.7)">Enucleation ratio (%)</text>
<path d="M269.6 85.4 C289.6 82.4 302.0 80.6 320.0 75.6 S354.1 56.0 370.1 46.0" fill="none" stroke="#b80c30" stroke-width="1.15"/>
<path d="M269.6 85.4 C289.6 82.4 302.0 77.3 320.0 72.3 S354.1 58.2 370.1 48.2" fill="none" stroke="#264a8c" stroke-width="1.15"/>
<rect x="267.8" y="83.6" width="3.6" height="3.6" fill="#b5102e"/>
<rect x="318.2" y="73.8" width="3.6" height="3.6" fill="#b5102e"/>
<rect x="368.3" y="44.2" width="3.6" height="3.6" fill="#b5102e"/>
<circle cx="269.6" cy="85.4" r="1.9" fill="#264a8c"/>
<circle cx="320.0" cy="72.3" r="1.9" fill="#264a8c"/>
<circle cx="370.1" cy="48.2" r="1.9" fill="#264a8c"/>
<line x1="320.0" y1="69.8" x2="320.0" y2="74.0" stroke="#231f20" stroke-width="1.1"/>
<line x1="318.2" y1="69.8" x2="321.8" y2="69.8" stroke="#231f20" stroke-width="1.1"/>
<line x1="318.2" y1="74.0" x2="321.8" y2="74.0" stroke="#231f20" stroke-width="1.1"/>
<line x1="370.1" y1="39.8" x2="370.1" y2="53.7" stroke="#231f20" stroke-width="1.1"/>
<line x1="368.3" y1="39.8" x2="371.90000000000003" y2="39.8" stroke="#231f20" stroke-width="1.1"/>
<line x1="368.3" y1="53.7" x2="371.90000000000003" y2="53.7" stroke="#231f20" stroke-width="1.1"/>
<line x1="368.6" y1="43.2" x2="371.6" y2="43.2" stroke="#231f20" stroke-width="0.9"/>
<line x1="368.6" y1="50.4" x2="371.6" y2="50.4" stroke="#231f20" stroke-width="0.9"/>
<line x1="279.8" y1="40.9" x2="293.8" y2="40.9" stroke="#264a8c" stroke-width="1.3"/>
<circle cx="287.1" cy="40.9" r="2.0" fill="#264a8c"/>
<line x1="279.8" y1="50.2" x2="293.8" y2="50.2" stroke="#b80c30" stroke-width="1.3"/>
<rect x="285.3" y="48.4" width="3.6" height="3.6" fill="#b5102e"/>
<text x="297.9" y="43.6" font-size="5.8" stroke="#383838" stroke-width="0.27" font-style="italic" fill="#383838" textLength="15.1" lengthAdjust="spacingAndGlyphs">Vector</text>
<text x="297.9" y="52.5" font-size="5.9" stroke="#383838" stroke-width="0.27" font-style="italic" fill="#383838" textLength="21.8" lengthAdjust="spacingAndGlyphs">BCL2L1</text>
<defs>
<filter id="bl" x="-50%" y="-50%" width="200%" height="200%"><feGaussianBlur stdDeviation="0.55"/></filter>
<filter id="bl2" x="-50%" y="-50%" width="200%" height="200%"><feGaussianBlur stdDeviation="0.9"/></filter>
<radialGradient id="pk" cx="0.5" cy="0.5" r="0.5"><stop offset="0" stop-color="#dab0d6"/><stop offset="0.45" stop-color="#cc8ec8"/><stop offset="0.78" stop-color="#c06cb8"/><stop offset="1" stop-color="#c878c0" stop-opacity="0"/></radialGradient>
<radialGradient id="pk2" cx="0.5" cy="0.5" r="0.5"><stop offset="0" stop-color="#dca0d8"/><stop offset="0.6" stop-color="#d490d4" stop-opacity="0.95"/><stop offset="1" stop-color="#d898d8" stop-opacity="0"/></radialGradient>
<radialGradient id="lil" cx="0.5" cy="0.5" r="0.5"><stop offset="0" stop-color="#dcaee0"/><stop offset="0.6" stop-color="#c088cc"/><stop offset="1" stop-color="#9a58a8"/></radialGradient>
<radialGradient id="nuc" cx="0.45" cy="0.45" r="0.55"><stop offset="0" stop-color="#7458c6"/><stop offset="1" stop-color="#56389e"/></radialGradient>
<radialGradient id="nucd" cx="0.45" cy="0.45" r="0.55"><stop offset="0" stop-color="#5e48c0"/><stop offset="1" stop-color="#3e2a92"/></radialGradient>
<radialGradient id="org" cx="0.5" cy="0.5" r="0.5"><stop offset="0" stop-color="#e6a482"/><stop offset="0.7" stop-color="#d0845e"/><stop offset="1" stop-color="#a85a3c"/></radialGradient>
</defs>
<text x="256.5" y="128.4" font-size="7.0" stroke="#3a3a3a" stroke-width="0.30" text-anchor="middle" font-style="italic" fill="#3a3a3a" textLength="19.4" lengthAdjust="spacingAndGlyphs">Vector</text>
<text x="369.75" y="128.0" font-size="7.3" stroke="#3a3a3a" stroke-width="0.30" text-anchor="middle" font-style="italic" fill="#3a3a3a" textLength="25.9" lengthAdjust="spacingAndGlyphs">BCL2L1</text>
<rect x="208.9" y="133.6" width="94.7" height="67.1" fill="#f6ebcd"/>
<rect x="320.8" y="133.3" width="97.4" height="67.4" fill="#faf1da"/>
<circle cx="222" cy="172" r="0.6" fill="#e0c8a8"/>
<circle cx="250" cy="183" r="0.6" fill="#e0c8a0"/>
<circle cx="235" cy="196" r="0.6" fill="#dcc4a4"/>
<circle cx="262" cy="176" r="0.6" fill="#e0c8a8"/>
<circle cx="372" cy="140" r="0.6" fill="#d8b890"/>
<circle cx="389" cy="172" r="0.6" fill="#e0c8a8"/>
<circle cx="356" cy="197" r="0.6" fill="#e0c8a8"/>
<circle cx="330" cy="165" r="0.6" fill="#e4cca8"/>
<g filter="url(#bl)"><ellipse cx="220.1" cy="160" rx="4.4" ry="5.1" fill="#a85548" stroke="#8a3a34" stroke-width="0.7"/><ellipse cx="221.6" cy="157.5" rx="2.2" ry="2.4" fill="#d88a60"/><ellipse cx="219.3" cy="161.6" rx="3.3" ry="3.5" fill="url(#nuc)"/></g>
<g filter="url(#bl)"><ellipse cx="237.8" cy="149" rx="5.6" ry="6.0" fill="#a85548" stroke="#8a3a34" stroke-width="0.7"/><ellipse cx="234" cy="144.6" rx="1.8" ry="1.6" fill="#c86a48"/><ellipse cx="242.3" cy="148.5" rx="1.8" ry="2.6" fill="#dc9a78"/><ellipse cx="237.3" cy="150.2" rx="4.0" ry="4.3" fill="url(#nuc)"/></g>
<g filter="url(#bl)"><ellipse cx="281.2" cy="148.6" rx="4.8" ry="5.2" fill="#d8977a" stroke="#94463a" stroke-width="0.8"/><ellipse cx="282.5" cy="150" rx="2.4" ry="2.6" fill="#e4b090"/><ellipse cx="278.8" cy="146.0" rx="2.9" ry="2.9" fill="url(#nucd)"/></g>
<g filter="url(#bl)"><ellipse cx="272.7" cy="152.6" rx="4.1" ry="5.4" fill="#b474c4" stroke="#8a3a92" stroke-width="0.8" transform="rotate(20 272.7 152.6)"/><ellipse cx="273.2" cy="153.2" rx="2.2" ry="3.0" fill="#c890d4"/></g>
<g filter="url(#bl)"><ellipse cx="265.8" cy="166.5" rx="3.8" ry="3.9" fill="#a85548" stroke="#8a3a34" stroke-width="0.7"/><ellipse cx="265.9" cy="166.6" rx="3.1" ry="3.2" fill="url(#nuc)"/></g>
<g filter="url(#bl)"><ellipse cx="287.8" cy="179.9" rx="3.8" ry="3.9" fill="#a85548" stroke="#8a3a34" stroke-width="0.7"/><ellipse cx="287.4" cy="180.1" rx="3.0" ry="3.1" fill="url(#nuc)"/><ellipse cx="290.6" cy="181" rx="0.9" ry="1.3" fill="#d89068"/></g>
<circle cx="257.1" cy="188.8" r="6.6" fill="url(#pk)" filter="url(#bl)"/>
<circle cx="255.9" cy="191.6" r="1.0" fill="#804078" filter="url(#bl)"/>
<g filter="url(#bl)"><ellipse cx="329.3" cy="151.3" rx="5.3" ry="4.2" fill="#d29ad6"/><ellipse cx="327" cy="150.5" rx="1.3" ry="1.3" fill="#a05090"/><ellipse cx="331.5" cy="152" rx="1.2" ry="1.0" fill="#b06090"/><ellipse cx="333.5" cy="156.8" rx="0.9" ry="1.1" fill="#c07a68"/></g>
<g filter="url(#bl)"><ellipse cx="340.4" cy="150.7" rx="3.8" ry="3.9" fill="#a85548" stroke="#8a3a34" stroke-width="0.7"/><ellipse cx="340.5" cy="150.8" rx="3.1" ry="3.2" fill="url(#nuc)"/></g>
<g filter="url(#bl)"><ellipse cx="347.9" cy="143.4" rx="4.1" ry="4.6" fill="#a85548" stroke="#8a3a34" stroke-width="0.7"/><ellipse cx="347.7" cy="143.2" rx="3.2" ry="3.6" fill="url(#nuc)"/><ellipse cx="351" cy="147.6" rx="1.3" ry="1.4" fill="#c07050"/></g>
<g filter="url(#bl)"><ellipse cx="355.8" cy="138.7" rx="4.1" ry="4.6" fill="#a0504a"/><ellipse cx="355.6" cy="138.8" rx="3.3" ry="3.8" fill="url(#lil)"/></g>
<g filter="url(#bl)"><ellipse cx="361.5" cy="134.4" rx="1.7" ry="1.2" fill="#b86048"/></g>
<g filter="url(#bl)"><ellipse cx="409.4" cy="140.6" rx="5.5" ry="5.0" fill="#c490cc" stroke="#a060a8" stroke-width="0.8"/><ellipse cx="410.5" cy="140.4" rx="3.0" ry="2.8" fill="#dcc0e0"/></g>
<circle cx="382" cy="158.3" r="6.8" fill="url(#pk2)" filter="url(#bl)"/>
<circle cx="379" cy="155" r="0.6" fill="#a8509c" opacity="0.75"/>
<circle cx="384" cy="157" r="0.6" fill="#a8509c" opacity="0.75"/>
<circle cx="381" cy="161" r="0.6" fill="#a8509c" opacity="0.75"/>
<circle cx="385" cy="161.5" r="0.6" fill="#a8509c" opacity="0.75"/>
<circle cx="378.5" cy="159.5" r="0.6" fill="#a8509c" opacity="0.75"/>
<circle cx="383" cy="154.5" r="0.6" fill="#a8509c" opacity="0.75"/>
<circle cx="386.5" cy="158" r="0.6" fill="#a8509c" opacity="0.75"/>
<circle cx="380" cy="152.5" r="0.6" fill="#a8509c" opacity="0.75"/>
<circle cx="377" cy="157" r="0.6" fill="#a8509c" opacity="0.75"/>
<circle cx="382.5" cy="163.5" r="0.6" fill="#a8509c" opacity="0.75"/>
<circle cx="387" cy="163" r="0.6" fill="#a8509c" opacity="0.75"/>
<circle cx="376.5" cy="161" r="0.6" fill="#a8509c" opacity="0.75"/>
<g filter="url(#bl)"><ellipse cx="372.6" cy="165.2" rx="3.7" ry="4.0" fill="#8a4a50"/><ellipse cx="372.7" cy="165.3" rx="3.1" ry="3.4" fill="url(#nucd)"/></g>
<g filter="url(#bl)"><ellipse cx="343.2" cy="183.2" rx="4.0" ry="3.6" fill="url(#org)"/><ellipse cx="336.3" cy="192.7" rx="4.6" ry="4.5" fill="url(#org)"/><ellipse cx="343.9" cy="187.3" rx="3.9" ry="4.0" fill="url(#nuc)"/><ellipse cx="338.4" cy="191.6" rx="2.8" ry="2.8" fill="url(#nuc)"/></g>
<g filter="url(#bl)"><ellipse cx="364.7" cy="188.1" rx="3.7" ry="3.7" fill="#a85548" stroke="#8a3a34" stroke-width="0.7"/><ellipse cx="364.4" cy="188.2" rx="3.0" ry="3.0" fill="url(#nuc)"/><ellipse cx="367.5" cy="187.5" rx="0.9" ry="1.2" fill="#d08a60"/></g>
<line x1="245.7" y1="241.8" x2="245.7" y2="313.0" stroke="#231f20" stroke-width="1.3"/>
<line x1="245.1" y1="312.4" x2="349.7" y2="312.4" stroke="#231f20" stroke-width="1.3"/>
<line x1="242.5" y1="312.4" x2="245.7" y2="312.4" stroke="#231f20" stroke-width="1.3"/>
<text x="238.8" y="314.79999999999995" font-size="7.3" stroke="#231f20" stroke-width="0.19" text-anchor="end">0</text>
<line x1="242.5" y1="301.17999999999995" x2="245.7" y2="301.17999999999995" stroke="#231f20" stroke-width="1.3"/>
<text x="238.8" y="303.5799999999999" font-size="7.3" stroke="#231f20" stroke-width="0.19" text-anchor="end">100</text>
<line x1="242.5" y1="289.96" x2="245.7" y2="289.96" stroke="#231f20" stroke-width="1.3"/>
<text x="238.8" y="292.35999999999996" font-size="7.3" stroke="#231f20" stroke-width="0.19" text-anchor="end">200</text>
<line x1="242.5" y1="278.74" x2="245.7" y2="278.74" stroke="#231f20" stroke-width="1.3"/>
<text x="238.8" y="281.14" font-size="7.3" stroke="#231f20" stroke-width="0.19" text-anchor="end">300</text>
<line x1="242.5" y1="267.52" x2="245.7" y2="267.52" stroke="#231f20" stroke-width="1.3"/>
<text x="238.8" y="269.91999999999996" font-size="7.3" stroke="#231f20" stroke-width="0.19" text-anchor="end">400</text>
<line x1="242.5" y1="256.29999999999995" x2="245.7" y2="256.29999999999995" stroke="#231f20" stroke-width="1.3"/>
<text x="238.8" y="258.69999999999993" font-size="7.3" stroke="#231f20" stroke-width="0.19" text-anchor="end">500</text>
<line x1="242.5" y1="245.07999999999998" x2="245.7" y2="245.07999999999998" stroke="#231f20" stroke-width="1.3"/>
<text x="238.8" y="247.48" font-size="7.3" stroke="#231f20" stroke-width="0.19" text-anchor="end">600</text>
<line x1="245.7" y1="312.4" x2="245.7" y2="315.59999999999997" stroke="#231f20" stroke-width="1.3"/>
<text x="245.9" y="325.0" font-size="7.2" stroke="#231f20" stroke-width="0.19" text-anchor="middle">0</text>
<line x1="294.2" y1="312.4" x2="294.2" y2="315.59999999999997" stroke="#231f20" stroke-width="1.3"/>
<text x="294.35" y="325.0" font-size="7.2" stroke="#231f20" stroke-width="0.19" text-anchor="middle">5</text>
<line x1="346.1" y1="312.4" x2="346.1" y2="315.59999999999997" stroke="#231f20" stroke-width="1.3"/>
<text x="346.8" y="325.0" font-size="7.2" stroke="#231f20" stroke-width="0.19" text-anchor="middle">10</text>
<text x="267.0" y="338.7" font-size="9.1" stroke="#231f20" stroke-width="0.34" textLength="58.4" lengthAdjust="spacingAndGlyphs">Days of proliferation</text>
<text x="221.1" y="313.8" font-size="9.6" stroke="#231f20" stroke-width="0.34" textLength="75.0" lengthAdjust="spacingAndGlyphs" transform="rotate(-90 221.1 313.8)">Cell proliferation (×10^3)</text>
<polyline points="255.3,302.6 275.0,283.6 304.1,262.2" fill="none" stroke="#b80c30" stroke-width="1.1"/>
<polyline points="255.3,302.6 275.0,286.7 304.1,267.4" fill="none" stroke="#264a8c" stroke-width="1.1"/>
<rect x="253.4" y="300.7" width="3.8" height="3.8" fill="#b5102e"/>
<rect x="273.1" y="281.7" width="3.8" height="3.8" fill="#b5102e"/>
<rect x="302.2" y="260.3" width="3.8" height="3.8" fill="#b5102e"/>
<path d="M255.3 300.6L257.3 302.6L255.3 304.6L253.3 302.6Z" fill="#264a8c"/>
<path d="M275.0 284.7L277.0 286.7L275.0 288.7L273.0 286.7Z" fill="#264a8c"/>
<path d="M304.1 265.4L306.1 267.4L304.1 269.4L302.1 267.4Z" fill="#264a8c"/>
<line x1="275.0" y1="279.5" x2="275.0" y2="289.8" stroke="#231f20" stroke-width="1.1"/>
<line x1="273.2" y1="279.5" x2="276.8" y2="279.5" stroke="#231f20" stroke-width="1.1"/>
<line x1="273.2" y1="289.8" x2="276.8" y2="289.8" stroke="#231f20" stroke-width="1.1"/>
<line x1="304.1" y1="257.0" x2="304.1" y2="272.5" stroke="#231f20" stroke-width="1.1"/>
<line x1="302.3" y1="257.0" x2="305.90000000000003" y2="257.0" stroke="#231f20" stroke-width="1.1"/>
<line x1="302.3" y1="272.5" x2="305.90000000000003" y2="272.5" stroke="#231f20" stroke-width="1.1"/>
<line x1="311.8" y1="291" x2="325.3" y2="291" stroke="#264a8c" stroke-width="1.4"/>
<path d="M319.0 289.1L320.9 291L319.0 292.9L317.1 291Z" fill="#264a8c"/>
<line x1="311.8" y1="300.1" x2="325.3" y2="300.1" stroke="#b80c30" stroke-width="1.4"/>
<rect x="316.3" y="298.3" width="3.6" height="3.6" fill="#b5102e"/>
<text x="329.3" y="293.6" font-size="5.8" stroke="#383838" stroke-width="0.27" font-style="italic" fill="#383838" textLength="15.5" lengthAdjust="spacingAndGlyphs">Vector</text>
<text x="329.3" y="302.5" font-size="5.9" stroke="#383838" stroke-width="0.27" font-style="italic" fill="#383838" textLength="21.0" lengthAdjust="spacingAndGlyphs">BCL2L1</text>
<line x1="399.6" y1="242.4" x2="399.6" y2="312.79999999999995" stroke="#231f20" stroke-width="1.3"/>
<line x1="399.0" y1="312.4" x2="510.6" y2="312.4" stroke="#231f20" stroke-width="1.3"/>
<line x1="395.40000000000003" y1="312.4" x2="399.6" y2="312.4" stroke="#231f20" stroke-width="1.3"/>
<text x="392.9" y="314.9" font-size="7.2" stroke="#231f20" stroke-width="0.19" text-anchor="end">0</text>
<line x1="395.40000000000003" y1="299.0" x2="399.6" y2="299.0" stroke="#231f20" stroke-width="1.3"/>
<text x="392.9" y="301.5" font-size="7.2" stroke="#231f20" stroke-width="0.19" text-anchor="end">20</text>
<line x1="395.40000000000003" y1="285.59999999999997" x2="399.6" y2="285.59999999999997" stroke="#231f20" stroke-width="1.3"/>
<text x="392.9" y="288.09999999999997" font-size="7.2" stroke="#231f20" stroke-width="0.19" text-anchor="end">40</text>
<line x1="395.40000000000003" y1="272.2" x2="399.6" y2="272.2" stroke="#231f20" stroke-width="1.3"/>
<text x="392.9" y="274.7" font-size="7.2" stroke="#231f20" stroke-width="0.19" text-anchor="end">60</text>
<line x1="395.40000000000003" y1="258.79999999999995" x2="399.6" y2="258.79999999999995" stroke="#231f20" stroke-width="1.3"/>
<text x="392.9" y="261.29999999999995" font-size="7.2" stroke="#231f20" stroke-width="0.19" text-anchor="end">80</text>
<line x1="395.40000000000003" y1="245.39999999999998" x2="399.6" y2="245.39999999999998" stroke="#231f20" stroke-width="1.3"/>
<text x="392.9" y="247.89999999999998" font-size="7.2" stroke="#231f20" stroke-width="0.19" text-anchor="end">100</text>
<line x1="399.6" y1="312.4" x2="399.6" y2="315.4" stroke="#231f20" stroke-width="1.3"/>
<line x1="435.4" y1="312.4" x2="435.4" y2="315.4" stroke="#231f20" stroke-width="1.3"/>
<line x1="471.0" y1="312.4" x2="471.0" y2="315.4" stroke="#231f20" stroke-width="1.3"/>
<line x1="506.4" y1="312.4" x2="506.4" y2="315.4" stroke="#231f20" stroke-width="1.3"/>
<text x="415.3" y="325.4" font-size="7.2" stroke="#231f20" stroke-width="0.19" text-anchor="middle">1</text>
<text x="435.4" y="325.4" font-size="7.2" stroke="#231f20" stroke-width="0.19" text-anchor="middle">3</text>
<text x="453.2" y="325.4" font-size="7.2" stroke="#231f20" stroke-width="0.19" text-anchor="middle">7</text>
<text x="471.6" y="325.4" font-size="7.2" stroke="#231f20" stroke-width="0.19" text-anchor="middle">14</text>
<text x="422.8" y="338.8" font-size="9.0" stroke="#231f20" stroke-width="0.34" textLength="64.0" lengthAdjust="spacingAndGlyphs">Days of differentiation</text>
<text x="375.4" y="292.0" font-size="9.3" stroke="#231f20" stroke-width="0.34" textLength="29.9" lengthAdjust="spacingAndGlyphs" transform="rotate(-90 375.4 292.0)">% live cell</text>
<line x1="417.3" y1="256.12" x2="417.3" y2="264.83" stroke="#231f20" stroke-width="1.1"/>
<line x1="415.40000000000003" y1="256.12" x2="419.2" y2="256.12" stroke="#231f20" stroke-width="1.1"/>
<line x1="415.40000000000003" y1="264.83" x2="419.2" y2="264.83" stroke="#231f20" stroke-width="1.1"/>
<path d="M417.3 259.5L419.3 263.1L415.3 263.1Z" fill="#2b4f8f"/>
<circle cx="417.3" cy="261.5" r="2.2" fill="#b5102e"/>
<line x1="435.4" y1="264.15999999999997" x2="435.4" y2="271.061" stroke="#231f20" stroke-width="1.1"/>
<line x1="433.5" y1="264.15999999999997" x2="437.29999999999995" y2="264.15999999999997" stroke="#231f20" stroke-width="1.1"/>
<line x1="433.5" y1="271.061" x2="437.29999999999995" y2="271.061" stroke="#231f20" stroke-width="1.1"/>
<line x1="435.4" y1="259.671" x2="435.4" y2="271.061" stroke="#231f20" stroke-width="1.1"/>
<line x1="433.5" y1="259.671" x2="437.29999999999995" y2="259.671" stroke="#231f20" stroke-width="1.1"/>
<line x1="433.5" y1="271.061" x2="437.29999999999995" y2="271.061" stroke="#231f20" stroke-width="1.1"/>
<path d="M435.4 265.8L437.4 269.4L433.4 269.4Z" fill="#2b4f8f"/>
<circle cx="435.4" cy="263.7" r="2.2" fill="#b5102e"/>
<line x1="453.2" y1="263.62399999999997" x2="453.2" y2="278.029" stroke="#231f20" stroke-width="1.1"/>
<line x1="451.3" y1="263.62399999999997" x2="455.09999999999997" y2="263.62399999999997" stroke="#231f20" stroke-width="1.1"/>
<line x1="451.3" y1="278.029" x2="455.09999999999997" y2="278.029" stroke="#231f20" stroke-width="1.1"/>
<line x1="453.2" y1="249.88899999999998" x2="453.2" y2="255.78499999999997" stroke="#231f20" stroke-width="1.1"/>
<line x1="451.3" y1="249.88899999999998" x2="455.09999999999997" y2="249.88899999999998" stroke="#231f20" stroke-width="1.1"/>
<line x1="451.3" y1="255.78499999999997" x2="455.09999999999997" y2="255.78499999999997" stroke="#231f20" stroke-width="1.1"/>
<path d="M453.2 269.2L455.2 272.8L451.2 272.8Z" fill="#2b4f8f"/>
<circle cx="453.2" cy="252.6" r="2.2" fill="#b5102e"/>
<line x1="471.6" y1="262.82" x2="471.6" y2="275.08099999999996" stroke="#231f20" stroke-width="1.1"/>
<line x1="469.70000000000005" y1="262.82" x2="473.5" y2="262.82" stroke="#231f20" stroke-width="1.1"/>
<line x1="469.70000000000005" y1="275.08099999999996" x2="473.5" y2="275.08099999999996" stroke="#231f20" stroke-width="1.1"/>
<line x1="471.6" y1="251.09499999999997" x2="471.6" y2="262.15" stroke="#231f20" stroke-width="1.1"/>
<line x1="469.70000000000005" y1="251.09499999999997" x2="473.5" y2="251.09499999999997" stroke="#231f20" stroke-width="1.1"/>
<line x1="469.70000000000005" y1="262.15" x2="473.5" y2="262.15" stroke="#231f20" stroke-width="1.1"/>
<path d="M471.6 265.8L473.6 269.4L469.6 269.4Z" fill="#2b4f8f"/>
<circle cx="471.6" cy="256.8" r="2.2" fill="#b5102e"/>
<text x="453.4" y="250.4" font-size="5.8" stroke="#231f20" stroke-width="0.34" text-anchor="middle">**</text>
<path d="M484.2 289.2L486.2 292.8L482.2 292.8Z" fill="#2b4f8f"/>
<circle cx="484.2" cy="300.1" r="2.0" fill="#b5102e"/>
<text x="489.9" y="293.6" font-size="5.9" stroke="#383838" stroke-width="0.27" font-style="italic" fill="#383838" textLength="15.8" lengthAdjust="spacingAndGlyphs">Vector</text>
<text x="489.9" y="302.5" font-size="5.9" stroke="#383838" stroke-width="0.27" font-style="italic" fill="#383838" textLength="21.9" lengthAdjust="spacingAndGlyphs">BCL2L1</text>
<rect x="2.5" y="2.5" width="515" height="344" fill="none" stroke="#eeeeee" stroke-width="1"/>
<line x1="1" y1="1.5" x2="519" y2="1.5" stroke="#c8c8c8" stroke-width="1"/>
<line x1="1" y1="347.5" x2="519" y2="347.5" stroke="#969696" stroke-width="1"/>
<line x1="1.5" y1="1" x2="1.5" y2="348" stroke="#7c7c7c" stroke-width="1"/>
<line x1="518.5" y1="1" x2="518.5" y2="348" stroke="#6c6c6c" stroke-width="1"/>
<rect x="0.5" y="0.5" width="519" height="348" fill="none" stroke="#000" stroke-width="1"/>
</svg>
</body></html>
